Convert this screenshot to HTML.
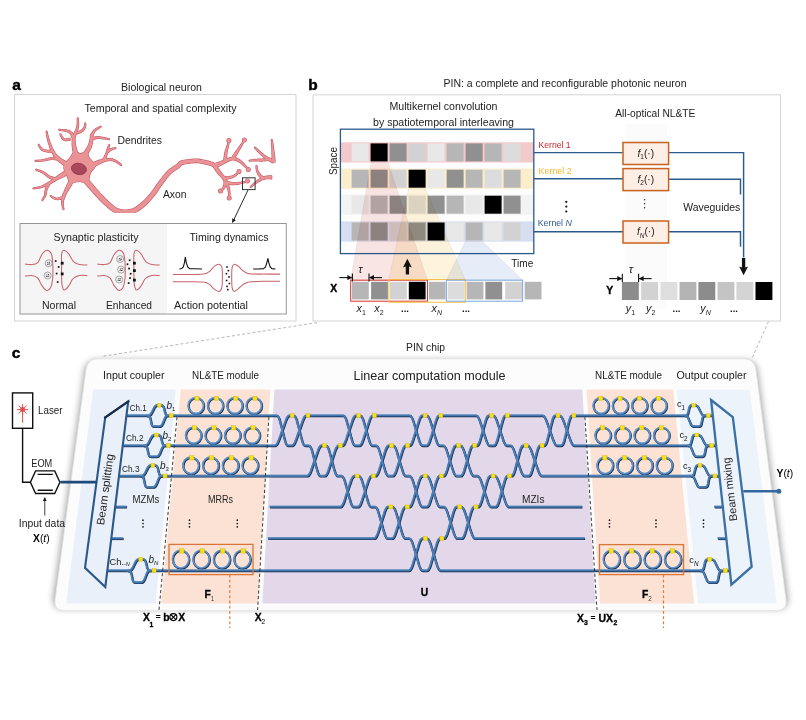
<!DOCTYPE html>
<html><head><meta charset="utf-8"><title>PIN photonic neuron</title>
<style>html,body{margin:0;padding:0;background:#fff}svg{display:block}text{font-family:"Liberation Sans",sans-serif}</style></head><body>
<svg width="806" height="720" viewBox="0 0 806 720">
<defs>
<filter id="sh" x="-10%" y="-10%" width="120%" height="125%"><feGaussianBlur stdDeviation="3.6"/></filter>
<marker id="ah" viewBox="0 0 10 10" refX="9" refY="5" markerWidth="4.6" markerHeight="4.6" orient="auto"><path d="M0,0L10,5L0,10z" fill="#111"/></marker>
</defs>
<rect width="806" height="720" fill="#fff"/>
<g id="panelA">
<text x="12.2" y="90.4" font-size="15.5" font-weight="bold" fill="#000" stroke="#000" stroke-width="0.45">a</text>
<text x="161.5" y="90.6" font-size="10.3" text-anchor="middle" fill="#222" textLength="81.0" lengthAdjust="spacingAndGlyphs">Biological neuron</text>
<rect x="14.5" y="94.5" width="281.5" height="226.5" fill="#fff" stroke="#d4d4d4" stroke-width="1"/>
<text x="160.5" y="112.0" font-size="10.3" text-anchor="middle" fill="#222" textLength="152.0" lengthAdjust="spacingAndGlyphs">Temporal and spatial complexity</text>
<clipPath id="ncl"><rect x="30" y="114" width="256" height="98.8"/></clipPath>
<g fill="none" stroke-linecap="round" stroke-linejoin="round" clip-path="url(#ncl)">
<g stroke="#c65b67" stroke-width="1.25" fill="#c65b67">
<path d="M77.8,153.2L77.6,152.5L77.3,151.7L77.0,150.7L76.7,149.6L76.3,148.4L76.0,147.3L75.8,146.1L75.5,145.1L75.4,144.1L75.3,143.0L75.1,141.8L75.1,140.6L75.0,139.5L74.9,138.5L74.9,137.6L74.8,137.0L73.6,135.8L72.4,137.0L72.4,137.7L72.3,138.5L72.3,139.5L72.2,140.7L72.2,141.9L72.2,143.1L72.2,144.4L72.2,145.5L72.3,146.7L72.5,148.0L72.7,149.2L72.9,150.5L73.2,151.6L73.4,152.7L73.5,153.5L73.6,154.1Z"/>
<path d="M74.7,137.1L74.5,136.7L74.2,136.2L73.9,135.6L73.5,134.9L73.1,134.1L72.6,133.4L72.1,132.7L71.6,132.1L71.0,131.7L70.5,131.3L70.0,131.0L69.4,130.7L68.9,130.5L68.3,130.3L67.6,130.1L66.9,130.0L66.0,129.8L64.9,129.7L63.8,129.6L62.7,129.5L61.5,129.5L60.5,129.4L59.7,129.4L59.1,129.3L58.6,129.7L59.0,130.2L59.6,130.3L60.4,130.4L61.4,130.6L62.5,130.7L63.6,130.9L64.7,131.1L65.7,131.3L66.5,131.5L67.1,131.7L67.7,131.9L68.2,132.2L68.7,132.4L69.0,132.6L69.4,132.9L69.8,133.2L70.1,133.5L70.4,134.0L70.8,134.5L71.1,135.2L71.5,135.9L71.8,136.6L72.0,137.3L72.3,137.9L72.5,138.3Z"/>
<path d="M69.9,138.1L69.5,138.2L69.0,138.3L68.4,138.5L67.7,138.6L67.0,138.8L66.4,138.9L65.8,139.0L65.4,139.0L65.0,138.9L64.7,138.8L64.3,138.6L64.0,138.4L63.7,138.2L63.3,137.9L63.0,137.6L62.7,137.3L62.4,137.0L62.1,136.6L61.9,136.1L61.6,135.6L61.4,135.1L61.2,134.7L61.0,134.3L60.8,134.0L60.2,133.8L60.0,134.4L60.1,134.7L60.3,135.1L60.4,135.5L60.6,136.1L60.9,136.6L61.1,137.1L61.4,137.6L61.7,138.1L62.1,138.5L62.4,138.9L62.7,139.2L63.1,139.6L63.6,139.9L64.0,140.2L64.6,140.4L65.2,140.6L65.8,140.7L66.6,140.6L67.3,140.6L68.1,140.5L68.8,140.4L69.4,140.2L70.0,140.2L70.3,140.1Z"/>
<path d="M74.8,138.2L75.0,137.7L75.2,137.0L75.5,136.2L75.8,135.3L76.1,134.4L76.5,133.5L76.8,132.6L77.0,131.8L77.3,131.1L77.5,130.4L77.7,129.7L77.9,129.0L78.1,128.3L78.3,127.6L78.4,126.8L78.5,126.0L78.6,125.0L78.6,124.0L78.5,122.8L78.5,121.7L78.4,120.6L78.3,119.7L78.3,118.8L78.2,118.2L77.8,117.8L77.3,118.3L77.3,118.9L77.3,119.7L77.3,120.7L77.3,121.7L77.3,122.8L77.2,123.9L77.1,124.9L77.0,125.8L76.9,126.5L76.7,127.2L76.5,127.9L76.3,128.5L76.0,129.1L75.8,129.7L75.5,130.4L75.2,131.1L74.9,131.9L74.5,132.7L74.1,133.6L73.7,134.5L73.3,135.3L73.0,136.1L72.7,136.7L72.4,137.2Z"/>
<path d="M77.6,133.8L78.0,133.6L78.5,133.4L79.1,133.2L79.8,132.9L80.5,132.6L81.2,132.2L81.8,131.8L82.4,131.4L82.9,131.0L83.4,130.5L83.8,130.1L84.2,129.6L84.5,129.1L84.8,128.6L85.1,128.0L85.3,127.5L85.5,127.0L85.6,126.4L85.7,125.7L85.7,125.2L85.7,124.6L85.7,124.1L85.7,123.7L85.7,123.4L85.3,122.9L84.8,123.3L84.8,123.7L84.8,124.1L84.7,124.6L84.7,125.1L84.6,125.6L84.5,126.1L84.3,126.6L84.2,127.0L83.9,127.4L83.7,127.9L83.4,128.3L83.0,128.7L82.7,129.1L82.3,129.4L81.9,129.8L81.5,130.1L81.0,130.4L80.4,130.6L79.8,130.9L79.1,131.1L78.4,131.4L77.8,131.6L77.2,131.7L76.8,131.9Z"/>
<path d="M87.1,154.7L87.4,154.2L87.8,153.5L88.4,152.6L88.9,151.6L89.5,150.6L90.1,149.5L90.7,148.4L91.1,147.4L91.5,146.4L91.7,145.4L92.0,144.4L92.2,143.5L92.4,142.5L92.5,141.6L92.6,140.8L92.7,140.0L92.8,139.2L92.9,138.4L92.9,137.7L92.9,136.9L92.9,136.3L92.8,135.7L92.8,135.3L92.8,135.0L91.7,133.8L90.5,134.9L90.5,135.3L90.5,135.7L90.4,136.3L90.4,136.9L90.4,137.5L90.3,138.2L90.2,138.9L90.0,139.6L89.9,140.3L89.7,141.1L89.5,141.9L89.3,142.8L89.0,143.6L88.7,144.5L88.4,145.3L88.1,146.1L87.6,146.9L87.1,147.8L86.5,148.7L85.8,149.6L85.2,150.5L84.6,151.4L84.1,152.1L83.7,152.6Z"/>
<path d="M92.4,136.8L92.6,136.3L92.9,135.7L93.1,135.0L93.4,134.2L93.8,133.4L94.2,132.7L94.6,131.9L95.0,131.3L95.6,130.7L96.4,130.1L97.2,129.5L98.1,128.9L99.0,128.3L99.8,127.7L100.4,127.3L100.9,127.0L101.1,126.3L100.5,126.2L99.9,126.5L99.2,126.8L98.4,127.3L97.4,127.8L96.5,128.3L95.5,128.9L94.6,129.5L93.8,130.2L93.2,130.9L92.6,131.7L92.1,132.5L91.6,133.4L91.2,134.1L90.9,134.8L90.6,135.4L90.4,135.8Z"/>
<path d="M92.3,140.1L92.7,139.9L93.3,139.7L93.9,139.4L94.6,139.1L95.3,138.9L96.0,138.6L96.7,138.4L97.3,138.3L97.9,138.3L98.5,138.3L99.1,138.3L99.8,138.4L100.5,138.5L101.2,138.6L101.9,138.7L102.7,138.8L103.5,138.9L104.3,139.0L105.3,139.1L106.2,139.2L107.0,139.3L107.8,139.4L108.5,139.5L109.0,139.5L109.5,139.2L109.1,138.6L108.6,138.5L108.0,138.4L107.2,138.3L106.3,138.1L105.4,137.9L104.5,137.7L103.7,137.6L102.9,137.4L102.2,137.3L101.5,137.1L100.8,137.0L100.1,136.8L99.4,136.7L98.6,136.6L97.9,136.5L97.1,136.5L96.3,136.6L95.5,136.8L94.7,137.0L93.9,137.3L93.2,137.5L92.5,137.7L92.0,137.9L91.6,138.1Z"/>
<path d="M93.4,167.5L93.9,167.2L94.5,166.8L95.2,166.3L96.0,165.8L96.9,165.3L97.7,164.8L98.6,164.3L99.3,163.9L100.1,163.5L100.9,163.1L101.8,162.7L102.6,162.3L103.5,161.9L104.2,161.6L104.8,161.3L105.3,161.1L106.1,159.5L104.4,158.7L103.9,158.8L103.3,159.0L102.5,159.2L101.6,159.5L100.7,159.8L99.7,160.1L98.8,160.4L97.9,160.7L97.0,161.0L96.1,161.4L95.1,161.8L94.1,162.2L93.3,162.6L92.5,163.0L91.8,163.3L91.3,163.5Z"/>
<path d="M104.3,161.4L104.9,161.3L105.6,161.2L106.5,161.0L107.4,160.8L108.4,160.7L109.4,160.5L110.3,160.4L111.0,160.5L111.7,160.5L112.4,160.7L113.0,160.9L113.7,161.1L114.4,161.4L115.0,161.7L115.7,162.0L116.3,162.3L116.9,162.7L117.6,163.1L118.3,163.5L118.9,164.0L119.5,164.4L120.0,164.8L120.5,165.2L120.8,165.4L121.5,165.3L121.4,164.7L121.1,164.4L120.7,164.0L120.2,163.6L119.6,163.1L119.0,162.6L118.3,162.0L117.7,161.6L117.0,161.1L116.4,160.7L115.7,160.4L115.1,160.0L114.4,159.6L113.6,159.3L112.9,159.0L112.1,158.7L111.2,158.5L110.3,158.5L109.2,158.4L108.2,158.5L107.1,158.6L106.1,158.7L105.3,158.8L104.5,158.9L104.0,158.9Z"/>
<path d="M105.8,160.3L105.9,159.9L106.0,159.2L106.1,158.5L106.3,157.7L106.5,156.9L106.7,156.0L106.8,155.3L107.0,154.7L107.2,154.2L107.4,153.6L107.7,153.1L107.9,152.6L108.2,152.2L108.4,151.8L108.6,151.4L108.7,151.1L108.6,150.5L108.0,150.6L107.8,150.9L107.5,151.2L107.2,151.5L106.9,151.9L106.5,152.4L106.2,152.9L105.8,153.5L105.5,154.0L105.2,154.7L104.8,155.4L104.5,156.2L104.1,157.0L103.8,157.8L103.5,158.5L103.3,159.1L103.1,159.5Z"/>
<path d="M108.2,152.4L108.5,152.2L108.8,151.9L109.3,151.6L109.7,151.2L110.2,150.8L110.7,150.5L111.2,150.1L111.7,149.9L112.1,149.7L112.7,149.4L113.3,149.2L113.8,149.1L114.4,148.9L114.9,148.8L115.3,148.6L115.7,148.5L116.0,148.0L115.5,147.7L115.1,147.7L114.7,147.8L114.2,147.9L113.6,148.0L113.0,148.1L112.3,148.2L111.7,148.4L111.1,148.6L110.5,148.8L109.9,149.1L109.3,149.4L108.8,149.8L108.2,150.1L107.8,150.4L107.4,150.6L107.1,150.8Z"/>
<path d="M108.1,152.5L108.2,152.1L108.2,151.7L108.3,151.2L108.4,150.7L108.4,150.1L108.5,149.6L108.6,149.0L108.7,148.6L108.8,148.1L108.9,147.6L109.1,147.2L109.2,146.7L109.4,146.2L109.5,145.8L109.6,145.5L109.7,145.2L109.5,144.6L108.9,144.9L108.8,145.1L108.6,145.5L108.4,145.8L108.2,146.3L108.0,146.7L107.8,147.2L107.6,147.7L107.4,148.2L107.2,148.7L107.1,149.3L106.9,149.8L106.8,150.4L106.6,150.9L106.5,151.4L106.4,151.8L106.3,152.1Z"/>
<path d="M67.2,162.2L66.7,161.9L66.0,161.5L65.1,161.1L64.2,160.6L63.3,160.1L62.4,159.6L61.6,159.0L60.8,158.6L60.1,158.1L59.4,157.5L58.7,156.8L58.0,156.2L57.3,155.6L56.7,155.0L56.2,154.5L55.8,154.2L54.0,154.1L53.9,156.0L54.3,156.3L54.7,156.9L55.2,157.5L55.8,158.3L56.5,159.0L57.2,159.8L57.9,160.6L58.6,161.3L59.4,162.0L60.3,162.7L61.2,163.3L62.1,164.0L62.9,164.6L63.7,165.2L64.3,165.6L64.8,166.0Z"/>
<path d="M56.4,155.1L56.1,154.6L55.7,153.8L55.1,153.0L54.6,152.0L54.0,151.0L53.4,150.0L52.8,149.0L52.3,148.0L51.9,147.0L51.4,146.0L51.0,144.9L50.6,143.8L50.2,142.8L49.8,141.7L49.4,140.6L49.0,139.6L48.7,138.5L48.4,137.3L48.1,136.1L47.8,135.0L47.5,133.8L47.3,132.8L47.1,132.0L47.0,131.4L46.4,131.0L46.1,131.5L46.2,132.2L46.3,133.0L46.5,134.0L46.7,135.2L46.9,136.4L47.1,137.6L47.4,138.8L47.6,140.0L47.9,141.1L48.2,142.2L48.5,143.3L48.9,144.4L49.3,145.6L49.6,146.7L50.0,147.8L50.4,148.8L50.9,149.9L51.4,151.0L51.9,152.1L52.5,153.2L53.0,154.2L53.5,155.1L53.8,155.8L54.1,156.4Z"/>
<path d="M52.7,149.8L52.2,149.9L51.7,149.9L51.0,150.0L50.3,150.2L49.5,150.2L48.7,150.3L48.0,150.3L47.3,150.3L46.7,150.2L46.0,150.1L45.2,149.9L44.5,149.8L43.8,149.6L43.2,149.3L42.6,149.0L42.1,148.7L41.6,148.3L41.1,147.8L40.7,147.2L40.3,146.5L39.9,145.9L39.5,145.3L39.2,144.8L39.0,144.4L38.4,144.3L38.2,144.9L38.4,145.2L38.7,145.8L39.0,146.4L39.3,147.1L39.7,147.8L40.2,148.5L40.7,149.2L41.3,149.7L41.9,150.2L42.6,150.6L43.3,150.9L44.1,151.2L44.8,151.5L45.6,151.7L46.4,151.9L47.1,152.0L47.9,152.1L48.8,152.2L49.6,152.2L50.4,152.1L51.2,152.1L51.9,152.0L52.5,152.0L52.9,152.0Z"/>
<path d="M58.4,157.8L57.9,157.8L57.2,157.7L56.4,157.6L55.5,157.6L54.5,157.5L53.4,157.5L52.4,157.5L51.3,157.6L50.3,157.8L49.2,158.0L48.1,158.3L47.1,158.6L46.0,158.9L45.0,159.2L43.9,159.5L43.0,159.7L41.9,159.8L40.9,160.0L39.8,160.1L38.7,160.2L37.7,160.3L36.8,160.3L36.0,160.4L35.4,160.4L35.0,160.9L35.4,161.3L36.0,161.3L36.8,161.3L37.7,161.3L38.7,161.3L39.8,161.2L41.0,161.2L42.1,161.1L43.2,161.0L44.2,160.9L45.3,160.6L46.4,160.4L47.5,160.2L48.5,159.9L49.6,159.7L50.6,159.6L51.5,159.5L52.4,159.4L53.4,159.5L54.3,159.6L55.3,159.7L56.2,159.8L57.0,159.9L57.7,160.0L58.2,160.1Z"/>
<path d="M64.9,171.1L64.4,171.5L63.8,171.9L63.0,172.4L62.2,172.9L61.3,173.5L60.4,174.1L59.6,174.6L58.9,175.1L58.2,175.5L57.5,176.0L56.8,176.5L56.2,176.9L55.6,177.3L55.0,177.7L54.6,178.0L54.2,178.2L53.7,180.0L55.5,180.5L55.9,180.3L56.4,180.1L57.0,179.8L57.6,179.5L58.3,179.1L59.1,178.8L59.8,178.4L60.6,178.1L61.3,177.7L62.2,177.3L63.2,176.9L64.1,176.4L65.0,176.0L65.9,175.6L66.6,175.3L67.1,175.1Z"/>
<path d="M55.9,177.8L55.4,177.7L54.8,177.6L54.2,177.5L53.5,177.3L52.7,177.2L52.0,176.9L51.2,176.7L50.5,176.4L49.7,176.0L48.9,175.5L48.0,174.9L47.1,174.2L46.2,173.6L45.3,172.9L44.3,172.3L43.4,171.8L42.4,171.3L41.4,170.9L40.4,170.5L39.3,170.2L38.4,169.9L37.5,169.6L36.8,169.4L36.3,169.2L35.7,169.5L36.0,170.1L36.5,170.3L37.2,170.6L38.0,170.9L39.0,171.3L39.9,171.7L40.9,172.1L41.8,172.6L42.7,173.0L43.5,173.6L44.4,174.2L45.2,174.9L46.1,175.6L47.0,176.3L47.8,177.0L48.7,177.6L49.5,178.2L50.4,178.6L51.3,179.0L52.1,179.3L52.9,179.5L53.7,179.7L54.3,179.9L54.9,180.0L55.3,180.1Z"/>
<path d="M54.2,178.6L53.7,178.9L53.1,179.3L52.4,179.8L51.6,180.4L50.7,181.0L49.9,181.6L49.0,182.1L48.1,182.6L47.3,183.1L46.4,183.6L45.4,184.1L44.5,184.6L43.6,185.1L42.6,185.6L41.7,186.0L40.8,186.3L39.8,186.6L38.8,186.9L37.7,187.1L36.6,187.4L35.6,187.5L34.6,187.7L33.9,187.8L33.3,187.9L32.9,188.5L33.4,188.8L34.0,188.8L34.8,188.7L35.7,188.6L36.8,188.5L37.9,188.3L39.0,188.2L40.1,187.9L41.2,187.7L42.2,187.4L43.2,187.0L44.2,186.6L45.2,186.2L46.2,185.8L47.2,185.3L48.2,184.9L49.1,184.4L50.0,183.9L51.0,183.4L51.9,182.9L52.8,182.3L53.7,181.8L54.4,181.4L55.1,181.0L55.5,180.7Z"/>
<path d="M47.6,183.5L47.4,183.9L47.2,184.6L46.9,185.3L46.5,186.1L46.2,187.0L45.8,187.9L45.5,188.7L45.3,189.5L45.1,190.3L45.0,191.1L44.9,191.8L44.9,192.5L44.8,193.2L44.8,193.9L44.7,194.5L44.5,195.1L44.3,195.7L44.0,196.4L43.6,197.1L43.2,197.8L42.8,198.5L42.5,199.1L42.2,199.6L42.0,200.0L42.1,200.6L42.7,200.4L43.0,200.1L43.3,199.6L43.7,199.0L44.1,198.4L44.6,197.7L45.0,197.0L45.4,196.3L45.8,195.6L46.0,194.8L46.2,194.1L46.3,193.4L46.4,192.7L46.5,192.0L46.6,191.3L46.7,190.7L46.9,190.0L47.2,189.3L47.5,188.5L47.9,187.7L48.3,186.9L48.7,186.1L49.1,185.4L49.4,184.8L49.6,184.4Z"/>
<path d="M69.7,179.7L69.4,180.3L69.0,181.2L68.5,182.1L68.0,183.2L67.4,184.4L66.9,185.5L66.4,186.6L65.9,187.6L65.5,188.6L65.0,189.6L64.5,190.7L64.1,191.7L63.7,192.7L63.3,193.5L63.0,194.2L62.8,194.8L63.3,196.4L65.0,195.9L65.3,195.4L65.7,194.7L66.1,193.9L66.6,193.0L67.2,192.0L67.7,191.0L68.3,190.1L68.8,189.2L69.4,188.2L70.0,187.2L70.7,186.1L71.3,185.1L72.0,184.0L72.5,183.1L73.0,182.4L73.4,181.8Z"/>
<path d="M63.0,194.7L62.8,195.1L62.7,195.7L62.5,196.5L62.3,197.3L62.0,198.2L61.8,199.1L61.7,200.0L61.6,200.8L61.6,201.5L61.6,202.2L61.6,202.9L61.7,203.5L61.8,204.2L61.9,204.8L62.0,205.3L62.1,205.8L62.3,206.4L62.4,206.9L62.5,207.4L62.7,207.9L62.8,208.4L63.0,208.8L63.1,209.1L63.2,209.3L63.7,209.7L64.0,209.1L64.0,208.8L63.9,208.5L63.8,208.1L63.7,207.7L63.6,207.2L63.5,206.7L63.5,206.2L63.4,205.7L63.4,205.1L63.3,204.6L63.3,204.0L63.3,203.4L63.3,202.8L63.3,202.2L63.3,201.6L63.4,201.0L63.6,200.4L63.8,199.6L64.1,198.8L64.4,198.0L64.7,197.2L65.0,196.5L65.2,195.9L65.4,195.4Z"/>
<path d="M63.2,196.0L62.8,196.2L62.2,196.4L61.6,196.7L60.9,197.0L60.2,197.3L59.4,197.6L58.8,197.8L58.2,198.0L57.7,198.0L57.2,198.1L56.8,198.0L56.3,198.0L55.8,197.9L55.3,197.8L54.9,197.7L54.4,197.5L53.9,197.3L53.5,197.1L53.0,196.9L52.5,196.6L52.0,196.3L51.6,196.0L51.2,195.8L50.9,195.6L50.3,195.8L50.5,196.4L50.7,196.6L51.0,196.8L51.4,197.1L51.9,197.5L52.4,197.8L52.9,198.2L53.4,198.5L53.9,198.7L54.4,198.9L54.9,199.1L55.5,199.3L56.0,199.4L56.6,199.5L57.2,199.6L57.8,199.7L58.4,199.6L59.2,199.5L60.0,199.3L60.8,199.1L61.6,198.9L62.3,198.6L63.0,198.4L63.6,198.2L64.0,198.0Z"/>
<path d="M84.2,182.4L84.7,183.0L85.3,183.6L86.0,184.4L86.8,185.3L87.6,186.3L88.5,187.3L89.3,188.3L90.2,189.2L90.9,190.1L91.7,191.0L92.5,191.9L93.3,192.9L94.2,193.8L95.1,194.8L96.0,195.8L97.0,196.8L98.0,197.9L99.0,199.0L100.2,200.2L101.3,201.3L102.5,202.5L103.6,203.6L104.7,204.6L105.8,205.6L106.9,206.6L107.9,207.5L108.9,208.3L110.0,209.2L111.0,210.0L112.0,210.7L113.1,211.4L114.1,212.0L115.1,212.5L116.1,213.0L117.1,213.3L118.1,213.6L119.0,213.8L119.9,214.0L120.8,214.1L121.7,214.2L122.6,214.3L123.5,214.4L124.4,214.5L125.3,214.5L126.1,214.5L127.0,214.4L127.9,214.3L128.8,214.2L129.7,214.1L130.5,213.9L131.4,213.7L132.3,213.5L133.2,213.2L134.2,212.9L135.2,212.4L136.2,211.9L137.3,211.3L138.4,210.6L139.5,209.9L140.7,209.1L141.9,208.2L143.0,207.3L144.2,206.3L145.3,205.3L146.5,204.2L147.6,203.1L148.7,201.9L149.9,200.7L151.0,199.4L152.1,198.2L153.2,196.9L154.2,195.6L155.2,194.3L156.2,193.0L157.1,191.6L158.0,190.3L158.8,189.0L159.7,187.6L160.6,186.3L161.6,185.0L162.6,183.6L163.7,182.1L164.8,180.6L165.9,179.1L167.0,177.7L168.1,176.3L169.2,175.1L170.2,174.0L171.3,173.0L172.4,172.1L173.5,171.3L174.6,170.5L175.7,169.7L176.8,169.0L177.8,168.4L178.7,167.7L179.5,167.0L180.2,166.4L180.6,165.8L181.0,165.4L181.3,165.1L181.5,164.9L181.8,164.7L182.2,164.5L182.8,164.3L183.6,164.1L184.4,163.9L185.3,163.7L186.3,163.6L187.3,163.5L188.3,163.3L189.4,163.2L190.4,163.1L191.5,163.0L192.6,162.8L193.6,162.7L194.7,162.6L195.8,162.6L197.0,162.6L198.2,162.7L199.5,162.9L201.1,163.1L202.7,163.4L204.4,163.8L206.0,164.1L207.6,164.5L208.9,164.9L210.1,165.2L211.0,165.5L211.8,165.8L212.4,166.1L213.0,166.3L213.5,166.6L213.9,166.9L214.3,167.1L214.7,167.3L216.9,166.6L216.3,164.4L216.0,164.3L215.6,164.1L215.2,163.8L214.6,163.4L213.9,163.1L213.1,162.7L212.1,162.3L211.1,162.0L209.8,161.6L208.4,161.2L206.8,160.8L205.1,160.4L203.4,160.1L201.7,159.7L200.0,159.4L198.5,159.2L197.1,159.1L195.8,159.1L194.5,159.1L193.3,159.2L192.2,159.3L191.1,159.4L190.0,159.5L189.0,159.7L187.9,159.8L186.9,159.9L185.8,160.0L184.7,160.2L183.7,160.3L182.7,160.5L181.7,160.8L180.8,161.1L180.0,161.5L179.3,162.0L178.7,162.5L178.3,163.0L177.9,163.4L177.5,163.8L177.1,164.2L176.5,164.7L175.7,165.3L174.7,165.9L173.7,166.6L172.5,167.3L171.3,168.2L170.0,169.1L168.8,170.1L167.6,171.2L166.4,172.5L165.2,173.8L164.0,175.3L162.8,176.8L161.7,178.3L160.5,179.8L159.5,181.2L158.4,182.6L157.4,184.0L156.4,185.4L155.5,186.7L154.6,188.0L153.7,189.3L152.8,190.6L151.9,191.8L151.0,193.0L150.0,194.2L148.9,195.4L147.9,196.7L146.8,197.8L145.7,199.0L144.6,200.1L143.5,201.2L142.5,202.1L141.4,203.0L140.3,203.9L139.2,204.8L138.2,205.6L137.1,206.3L136.1,207.0L135.1,207.6L134.2,208.1L133.3,208.5L132.6,208.8L131.9,209.1L131.1,209.3L130.4,209.4L129.7,209.6L129.0,209.7L128.2,209.8L127.4,209.9L126.7,210.0L126.0,210.0L125.3,210.0L124.5,210.0L123.8,210.0L123.1,209.9L122.3,209.8L121.5,209.6L120.7,209.5L120.0,209.4L119.3,209.2L118.5,209.0L117.8,208.7L117.1,208.4L116.3,208.0L115.5,207.5L114.7,206.9L113.8,206.3L112.9,205.6L111.9,204.8L111.0,203.9L110.0,203.1L109.0,202.2L107.9,201.2L106.9,200.2L105.8,199.1L104.7,198.0L103.6,196.8L102.5,195.7L101.4,194.6L100.4,193.6L99.5,192.6L98.7,191.6L97.8,190.6L97.0,189.7L96.2,188.8L95.4,187.8L94.6,186.9L93.8,186.0L93.0,185.0L92.2,184.1L91.3,183.1L90.5,182.1L89.7,181.2L89.0,180.4L88.4,179.7L88.0,179.2Z"/>
<path d="M215.6,167.4L216.0,167.2L216.7,167.0L217.5,166.7L218.3,166.3L219.3,165.9L220.2,165.5L221.1,165.1L222.0,164.7L222.8,164.3L223.6,163.8L224.4,163.4L225.1,162.9L225.8,162.5L226.5,162.1L227.2,161.7L227.9,161.4L228.7,161.1L229.5,160.8L230.3,160.5L231.2,160.2L232.0,159.9L232.7,159.7L233.4,159.5L233.8,159.3L234.6,157.9L233.2,157.1L232.7,157.2L232.1,157.4L231.4,157.5L230.5,157.7L229.6,157.9L228.7,158.2L227.7,158.5L226.9,158.7L226.0,159.1L225.2,159.4L224.4,159.8L223.6,160.2L222.8,160.6L222.1,160.9L221.3,161.3L220.6,161.6L219.8,161.9L218.9,162.2L218.0,162.5L217.0,162.8L216.2,163.1L215.4,163.3L214.7,163.5L214.2,163.7Z"/>
<path d="M226.6,160.2L226.6,159.6L226.7,158.8L226.7,158.0L226.7,157.0L226.7,156.0L226.7,154.9L226.8,153.9L226.9,153.1L227.0,152.2L227.2,151.3L227.4,150.4L227.6,149.5L227.8,148.6L228.0,147.8L228.2,147.0L228.4,146.2L228.5,145.4L228.7,144.7L228.8,143.9L229.0,143.2L229.1,142.6L229.2,142.1L229.3,141.6L229.4,141.2L229.0,140.7L228.5,141.0L228.4,141.4L228.2,141.8L228.1,142.4L227.9,143.0L227.7,143.7L227.5,144.4L227.3,145.1L227.0,145.8L226.8,146.6L226.5,147.3L226.2,148.2L225.9,149.1L225.6,149.9L225.3,150.9L225.1,151.8L224.9,152.7L224.7,153.7L224.5,154.7L224.4,155.8L224.2,156.8L224.1,157.8L224.0,158.7L223.9,159.4L223.9,160.0Z"/>
<path d="M234.0,159.3L234.3,158.8L234.8,158.0L235.3,157.1L235.9,156.0L236.5,155.0L237.1,153.9L237.7,152.8L238.3,151.9L238.7,151.1L239.2,150.2L239.7,149.4L240.1,148.6L240.5,147.8L241.0,147.1L241.4,146.3L241.8,145.6L242.2,144.9L242.6,144.1L243.0,143.4L243.4,142.7L243.8,142.0L244.1,141.5L244.4,141.0L244.6,140.6L244.5,140.0L243.8,140.1L243.6,140.5L243.3,140.9L242.9,141.5L242.4,142.1L242.0,142.8L241.5,143.5L241.0,144.2L240.5,144.8L240.1,145.5L239.6,146.2L239.1,146.9L238.6,147.7L238.1,148.4L237.5,149.2L237.0,150.0L236.4,150.8L235.8,151.6L235.1,152.6L234.4,153.6L233.7,154.6L233.0,155.6L232.4,156.5L231.9,157.2L231.5,157.7Z"/>
<path d="M232.3,159.5L232.8,159.7L233.5,159.8L234.2,160.0L235.1,160.3L236.0,160.5L236.8,160.8L237.6,161.1L238.3,161.4L239.0,161.8L239.7,162.3L240.4,162.8L241.1,163.4L241.8,163.9L242.5,164.5L243.1,165.1L243.7,165.6L244.3,166.2L244.9,166.7L245.5,167.3L246.0,167.8L246.6,168.4L247.0,168.8L247.4,169.2L247.7,169.5L248.3,169.6L248.4,168.9L248.1,168.6L247.8,168.2L247.4,167.7L246.9,167.1L246.4,166.5L245.8,165.8L245.3,165.2L244.7,164.6L244.2,164.0L243.6,163.4L242.9,162.7L242.3,162.0L241.6,161.4L240.9,160.7L240.2,160.1L239.4,159.6L238.6,159.1L237.7,158.7L236.8,158.3L235.9,157.9L235.0,157.6L234.3,157.3L233.6,157.1L233.2,156.9Z"/>
<path d="M213.2,166.5L213.5,166.9L213.8,167.5L214.3,168.2L214.7,168.9L215.2,169.7L215.8,170.6L216.3,171.4L216.9,172.1L217.5,172.9L218.1,173.6L218.8,174.3L219.4,175.1L220.1,175.8L220.7,176.4L221.3,177.1L221.8,177.7L222.3,178.3L222.7,178.9L223.2,179.5L223.6,180.2L224.1,180.7L224.4,181.3L224.7,181.7L225.0,182.1L226.5,182.4L226.8,180.9L226.6,180.5L226.3,180.1L226.0,179.5L225.6,178.9L225.2,178.2L224.8,177.5L224.3,176.8L223.9,176.1L223.4,175.4L222.8,174.7L222.2,173.9L221.6,173.2L221.1,172.4L220.5,171.7L220.0,171.0L219.5,170.3L219.1,169.6L218.7,168.8L218.2,168.0L217.8,167.2L217.4,166.4L217.0,165.7L216.7,165.1L216.5,164.6Z"/>
<path d="M223.6,179.2L224.1,179.1L224.7,179.1L225.5,179.1L226.3,179.0L227.2,178.9L228.2,178.8L229.1,178.7L229.9,178.5L230.7,178.3L231.4,178.0L232.1,177.8L232.8,177.5L233.5,177.1L234.2,176.8L234.8,176.4L235.4,176.0L236.1,175.5L236.6,174.9L237.2,174.4L237.7,173.8L238.2,173.2L238.6,172.7L238.9,172.3L239.2,172.0L239.2,171.4L238.5,171.4L238.2,171.7L237.8,172.0L237.4,172.5L236.9,173.0L236.3,173.5L235.8,174.0L235.2,174.4L234.6,174.7L234.1,175.0L233.5,175.3L232.8,175.6L232.2,175.8L231.5,176.0L230.8,176.2L230.2,176.3L229.5,176.5L228.8,176.5L228.0,176.6L227.1,176.6L226.3,176.5L225.5,176.5L224.7,176.5L224.0,176.4L223.5,176.4Z"/>
<path d="M224.2,180.9L224.2,181.3L224.1,181.8L224.1,182.4L224.0,183.0L224.0,183.7L223.9,184.3L223.8,184.9L223.7,185.4L223.6,185.9L223.4,186.3L223.3,186.8L223.1,187.2L222.9,187.6L222.7,188.0L222.5,188.4L222.3,188.7L222.1,189.0L221.8,189.3L221.6,189.5L221.3,189.8L221.0,190.0L220.8,190.3L220.6,190.4L220.4,190.6L220.3,191.2L221.0,191.3L221.1,191.2L221.4,191.1L221.6,190.9L222.0,190.7L222.3,190.4L222.7,190.2L223.0,189.9L223.3,189.5L223.6,189.2L223.9,188.8L224.2,188.4L224.5,188.0L224.8,187.6L225.1,187.1L225.3,186.6L225.6,186.1L225.8,185.5L226.0,184.8L226.2,184.1L226.4,183.5L226.6,182.8L226.7,182.2L226.8,181.7L226.9,181.4Z"/>
<path d="M224.6,182.0L224.8,182.4L225.1,183.0L225.4,183.7L225.8,184.5L226.2,185.3L226.6,186.1L226.9,186.9L227.2,187.6L227.4,188.2L227.6,188.9L227.8,189.5L228.0,190.2L228.1,190.8L228.3,191.4L228.4,192.1L228.5,192.7L228.6,193.3L228.7,194.0L228.7,194.8L228.7,195.5L228.7,196.1L228.8,196.8L228.8,197.3L228.8,197.7L229.2,198.1L229.7,197.7L229.7,197.3L229.8,196.8L229.8,196.2L229.9,195.5L229.9,194.8L230.0,194.0L230.0,193.3L230.0,192.6L229.9,191.9L229.9,191.2L229.8,190.5L229.7,189.8L229.6,189.1L229.5,188.4L229.3,187.7L229.2,187.0L228.9,186.2L228.7,185.3L228.4,184.4L228.1,183.6L227.8,182.7L227.5,182.0L227.3,181.4L227.1,180.9Z"/>
<path d="M225.6,183.7L226.1,183.8L226.8,183.9L227.6,184.1L228.6,184.3L229.6,184.4L230.6,184.6L231.7,184.7L232.7,184.7L233.7,184.7L234.7,184.6L235.7,184.5L236.7,184.4L237.6,184.3L238.6,184.1L239.6,183.9L240.5,183.7L241.5,183.5L242.5,183.2L243.5,182.9L244.5,182.6L245.4,182.3L246.2,182.0L246.9,181.8L247.4,181.6L247.7,181.0L247.2,180.7L246.6,180.9L245.9,181.0L245.1,181.3L244.2,181.5L243.2,181.7L242.2,181.9L241.2,182.1L240.3,182.3L239.4,182.4L238.4,182.5L237.5,182.5L236.5,182.6L235.5,182.6L234.6,182.6L233.7,182.6L232.8,182.5L231.9,182.4L231.0,182.3L230.0,182.0L229.1,181.8L228.2,181.6L227.4,181.4L226.7,181.2L226.1,181.0Z"/>
<path d="M271.7,175.8L271.3,175.9L270.8,175.9L270.2,175.9L269.4,175.9L268.6,175.9L267.8,176.0L267.0,176.1L266.2,176.2L265.4,176.4L264.7,176.6L264.0,176.9L263.3,177.1L262.6,177.4L262.0,177.7L261.3,178.1L260.6,178.4L259.9,178.8L259.2,179.2L258.5,179.7L257.9,180.1L257.2,180.6L256.5,181.1L255.9,181.6L255.2,182.1L254.6,182.7L253.9,183.3L253.1,183.9L252.5,184.6L251.8,185.2L251.2,185.8L250.7,186.3L250.3,186.6L250.3,187.3L250.9,187.3L251.3,187.0L251.9,186.6L252.5,186.0L253.2,185.5L254.0,184.9L254.7,184.3L255.4,183.8L256.1,183.3L256.8,182.8L257.5,182.4L258.1,182.0L258.8,181.6L259.5,181.2L260.2,180.9L260.8,180.5L261.5,180.2L262.1,180.0L262.8,179.7L263.4,179.5L264.1,179.3L264.7,179.1L265.4,179.0L266.0,178.8L266.6,178.7L267.2,178.7L267.9,178.7L268.7,178.7L269.4,178.7L270.1,178.7L270.7,178.8L271.3,178.8L271.7,178.8Z"/>
<path d="M264.1,177.4L263.8,177.2L263.4,176.9L262.8,176.5L262.3,176.1L261.7,175.7L261.2,175.3L260.7,174.9L260.3,174.4L259.9,174.0L259.6,173.5L259.2,173.0L258.9,172.5L258.6,171.9L258.4,171.3L258.1,170.8L257.9,170.2L257.7,169.7L257.5,169.1L257.4,168.4L257.2,167.8L257.1,167.2L257.0,166.6L257.0,166.2L256.9,165.8L256.4,165.4L256.0,165.9L256.0,166.3L256.1,166.8L256.1,167.3L256.1,168.0L256.2,168.6L256.3,169.3L256.4,170.0L256.5,170.7L256.7,171.3L256.9,171.9L257.2,172.6L257.4,173.2L257.7,173.8L258.0,174.5L258.4,175.1L258.7,175.7L259.2,176.2L259.7,176.8L260.3,177.4L260.8,177.9L261.4,178.4L261.9,178.8L262.3,179.1L262.5,179.4Z"/>
<path d="M274.3,160.3L273.9,160.1L273.5,159.9L273.0,159.7L272.4,159.4L271.8,159.2L271.2,158.9L270.6,158.6L270.1,158.3L269.5,158.0L268.9,157.8L268.4,157.5L267.8,157.2L267.3,156.9L266.7,156.6L266.1,156.2L265.5,155.9L264.9,155.4L264.2,154.9L263.5,154.4L262.8,153.8L262.1,153.3L261.4,152.7L260.7,152.1L260.0,151.6L259.4,151.0L258.7,150.4L258.0,149.8L257.3,149.1L256.7,148.5L256.1,148.0L255.6,147.5L255.2,147.2L254.6,147.2L254.6,147.8L254.9,148.2L255.4,148.7L255.9,149.3L256.5,149.9L257.1,150.6L257.7,151.3L258.4,152.0L259.0,152.7L259.6,153.3L260.3,153.9L260.9,154.6L261.6,155.2L262.3,155.8L262.9,156.4L263.6,157.0L264.2,157.5L264.9,158.0L265.5,158.5L266.1,158.9L266.6,159.2L267.2,159.6L267.8,159.9L268.3,160.3L268.8,160.6L269.4,160.9L270.0,161.3L270.6,161.6L271.2,161.9L271.7,162.3L272.2,162.5L272.6,162.7L272.9,162.9Z"/>
<path d="M275.1,162.0L275.0,161.5L275.0,160.9L274.9,160.2L274.8,159.5L274.8,158.6L274.7,157.7L274.6,156.8L274.5,155.9L274.4,154.9L274.3,153.9L274.1,152.8L274.0,151.8L273.9,150.7L273.7,149.6L273.6,148.5L273.5,147.4L273.3,146.4L273.1,145.3L273.0,144.2L272.8,143.1L272.6,142.1L272.4,141.2L272.3,140.4L272.2,139.8L271.7,139.4L271.3,139.9L271.3,140.5L271.4,141.3L271.5,142.2L271.6,143.3L271.6,144.3L271.7,145.5L271.8,146.6L271.9,147.6L271.9,148.6L271.9,149.7L272.0,150.8L272.0,151.9L272.0,153.0L272.0,154.0L272.1,155.1L272.1,156.0L272.1,156.9L272.1,157.8L272.1,158.7L272.1,159.6L272.1,160.4L272.1,161.1L272.1,161.7L272.1,162.1Z"/>
<path d="M267.7,157.9L267.2,158.0L266.6,158.1L265.9,158.3L265.1,158.5L264.2,158.7L263.3,158.8L262.5,159.0L261.7,159.1L261.0,159.1L260.3,159.2L259.5,159.2L258.8,159.2L258.0,159.2L257.2,159.3L256.4,159.3L255.7,159.3L254.8,159.4L254.0,159.5L253.1,159.7L252.2,159.8L251.4,159.9L250.6,160.1L250.0,160.2L249.5,160.2L249.1,160.7L249.6,161.1L250.1,161.1L250.7,161.0L251.5,161.0L252.3,160.9L253.2,160.9L254.1,160.8L254.9,160.8L255.7,160.8L256.5,160.8L257.2,160.8L258.0,160.9L258.7,160.9L259.5,161.0L260.3,161.0L261.1,161.1L261.9,161.1L262.7,161.0L263.6,160.9L264.5,160.8L265.4,160.7L266.3,160.6L267.0,160.5L267.7,160.4L268.1,160.4Z"/>
<path d="M74.3,151.6C76.0,150.9 78.5,153.7 80.6,153.7C82.6,153.7 85.4,150.9 86.8,151.6C88.2,152.3 87.8,155.5 89.2,157.8C90.6,160.1 95.0,162.9 95.1,165.5C95.3,168.0 91.6,170.3 90.3,173.1C89.0,175.9 89.4,180.8 87.5,182.1C85.6,183.5 82.1,181.4 79.2,181.4C76.3,181.4 72.2,183.3 70.1,182.1C68.1,181.0 67.7,176.8 66.7,174.5C65.6,172.2 64.1,170.2 63.9,168.2C63.7,166.3 64.5,164.4 65.6,162.7C66.6,161.0 68.7,159.7 70.1,157.8C71.6,156.0 72.6,152.3 74.3,151.6Z"/>
<circle cx="228.9" cy="140.6" r="2.5" fill="#c65b67" stroke="none"/>
<circle cx="244.4" cy="140.0" r="2.5" fill="#c65b67" stroke="none"/>
<circle cx="248.3" cy="169.5" r="2.5" fill="#c65b67" stroke="none"/>
<circle cx="239.0" cy="171.4" r="2.5" fill="#c65b67" stroke="none"/>
<circle cx="220.5" cy="191.1" r="2.5" fill="#c65b67" stroke="none"/>
<circle cx="229.2" cy="198.0" r="2.5" fill="#c65b67" stroke="none"/>
<circle cx="247.4" cy="181.0" r="2.5" fill="#c65b67" stroke="none"/>
</g>
<g stroke="none" fill="#ea9397">
<path d="M77.8,153.2L77.6,152.5L77.3,151.7L77.0,150.7L76.7,149.6L76.3,148.4L76.0,147.3L75.8,146.1L75.5,145.1L75.4,144.1L75.3,143.0L75.1,141.8L75.1,140.6L75.0,139.5L74.9,138.5L74.9,137.6L74.8,137.0L73.6,135.8L72.4,137.0L72.4,137.7L72.3,138.5L72.3,139.5L72.2,140.7L72.2,141.9L72.2,143.1L72.2,144.4L72.2,145.5L72.3,146.7L72.5,148.0L72.7,149.2L72.9,150.5L73.2,151.6L73.4,152.7L73.5,153.5L73.6,154.1Z"/>
<path d="M74.7,137.1L74.5,136.7L74.2,136.2L73.9,135.6L73.5,134.9L73.1,134.1L72.6,133.4L72.1,132.7L71.6,132.1L71.0,131.7L70.5,131.3L70.0,131.0L69.4,130.7L68.9,130.5L68.3,130.3L67.6,130.1L66.9,130.0L66.0,129.8L64.9,129.7L63.8,129.6L62.7,129.5L61.5,129.5L60.5,129.4L59.7,129.4L59.1,129.3L58.6,129.7L59.0,130.2L59.6,130.3L60.4,130.4L61.4,130.6L62.5,130.7L63.6,130.9L64.7,131.1L65.7,131.3L66.5,131.5L67.1,131.7L67.7,131.9L68.2,132.2L68.7,132.4L69.0,132.6L69.4,132.9L69.8,133.2L70.1,133.5L70.4,134.0L70.8,134.5L71.1,135.2L71.5,135.9L71.8,136.6L72.0,137.3L72.3,137.9L72.5,138.3Z"/>
<path d="M69.9,138.1L69.5,138.2L69.0,138.3L68.4,138.5L67.7,138.6L67.0,138.8L66.4,138.9L65.8,139.0L65.4,139.0L65.0,138.9L64.7,138.8L64.3,138.6L64.0,138.4L63.7,138.2L63.3,137.9L63.0,137.6L62.7,137.3L62.4,137.0L62.1,136.6L61.9,136.1L61.6,135.6L61.4,135.1L61.2,134.7L61.0,134.3L60.8,134.0L60.2,133.8L60.0,134.4L60.1,134.7L60.3,135.1L60.4,135.5L60.6,136.1L60.9,136.6L61.1,137.1L61.4,137.6L61.7,138.1L62.1,138.5L62.4,138.9L62.7,139.2L63.1,139.6L63.6,139.9L64.0,140.2L64.6,140.4L65.2,140.6L65.8,140.7L66.6,140.6L67.3,140.6L68.1,140.5L68.8,140.4L69.4,140.2L70.0,140.2L70.3,140.1Z"/>
<path d="M74.8,138.2L75.0,137.7L75.2,137.0L75.5,136.2L75.8,135.3L76.1,134.4L76.5,133.5L76.8,132.6L77.0,131.8L77.3,131.1L77.5,130.4L77.7,129.7L77.9,129.0L78.1,128.3L78.3,127.6L78.4,126.8L78.5,126.0L78.6,125.0L78.6,124.0L78.5,122.8L78.5,121.7L78.4,120.6L78.3,119.7L78.3,118.8L78.2,118.2L77.8,117.8L77.3,118.3L77.3,118.9L77.3,119.7L77.3,120.7L77.3,121.7L77.3,122.8L77.2,123.9L77.1,124.9L77.0,125.8L76.9,126.5L76.7,127.2L76.5,127.9L76.3,128.5L76.0,129.1L75.8,129.7L75.5,130.4L75.2,131.1L74.9,131.9L74.5,132.7L74.1,133.6L73.7,134.5L73.3,135.3L73.0,136.1L72.7,136.7L72.4,137.2Z"/>
<path d="M77.6,133.8L78.0,133.6L78.5,133.4L79.1,133.2L79.8,132.9L80.5,132.6L81.2,132.2L81.8,131.8L82.4,131.4L82.9,131.0L83.4,130.5L83.8,130.1L84.2,129.6L84.5,129.1L84.8,128.6L85.1,128.0L85.3,127.5L85.5,127.0L85.6,126.4L85.7,125.7L85.7,125.2L85.7,124.6L85.7,124.1L85.7,123.7L85.7,123.4L85.3,122.9L84.8,123.3L84.8,123.7L84.8,124.1L84.7,124.6L84.7,125.1L84.6,125.6L84.5,126.1L84.3,126.6L84.2,127.0L83.9,127.4L83.7,127.9L83.4,128.3L83.0,128.7L82.7,129.1L82.3,129.4L81.9,129.8L81.5,130.1L81.0,130.4L80.4,130.6L79.8,130.9L79.1,131.1L78.4,131.4L77.8,131.6L77.2,131.7L76.8,131.9Z"/>
<path d="M87.1,154.7L87.4,154.2L87.8,153.5L88.4,152.6L88.9,151.6L89.5,150.6L90.1,149.5L90.7,148.4L91.1,147.4L91.5,146.4L91.7,145.4L92.0,144.4L92.2,143.5L92.4,142.5L92.5,141.6L92.6,140.8L92.7,140.0L92.8,139.2L92.9,138.4L92.9,137.7L92.9,136.9L92.9,136.3L92.8,135.7L92.8,135.3L92.8,135.0L91.7,133.8L90.5,134.9L90.5,135.3L90.5,135.7L90.4,136.3L90.4,136.9L90.4,137.5L90.3,138.2L90.2,138.9L90.0,139.6L89.9,140.3L89.7,141.1L89.5,141.9L89.3,142.8L89.0,143.6L88.7,144.5L88.4,145.3L88.1,146.1L87.6,146.9L87.1,147.8L86.5,148.7L85.8,149.6L85.2,150.5L84.6,151.4L84.1,152.1L83.7,152.6Z"/>
<path d="M92.4,136.8L92.6,136.3L92.9,135.7L93.1,135.0L93.4,134.2L93.8,133.4L94.2,132.7L94.6,131.9L95.0,131.3L95.6,130.7L96.4,130.1L97.2,129.5L98.1,128.9L99.0,128.3L99.8,127.7L100.4,127.3L100.9,127.0L101.1,126.3L100.5,126.2L99.9,126.5L99.2,126.8L98.4,127.3L97.4,127.8L96.5,128.3L95.5,128.9L94.6,129.5L93.8,130.2L93.2,130.9L92.6,131.7L92.1,132.5L91.6,133.4L91.2,134.1L90.9,134.8L90.6,135.4L90.4,135.8Z"/>
<path d="M92.3,140.1L92.7,139.9L93.3,139.7L93.9,139.4L94.6,139.1L95.3,138.9L96.0,138.6L96.7,138.4L97.3,138.3L97.9,138.3L98.5,138.3L99.1,138.3L99.8,138.4L100.5,138.5L101.2,138.6L101.9,138.7L102.7,138.8L103.5,138.9L104.3,139.0L105.3,139.1L106.2,139.2L107.0,139.3L107.8,139.4L108.5,139.5L109.0,139.5L109.5,139.2L109.1,138.6L108.6,138.5L108.0,138.4L107.2,138.3L106.3,138.1L105.4,137.9L104.5,137.7L103.7,137.6L102.9,137.4L102.2,137.3L101.5,137.1L100.8,137.0L100.1,136.8L99.4,136.7L98.6,136.6L97.9,136.5L97.1,136.5L96.3,136.6L95.5,136.8L94.7,137.0L93.9,137.3L93.2,137.5L92.5,137.7L92.0,137.9L91.6,138.1Z"/>
<path d="M93.4,167.5L93.9,167.2L94.5,166.8L95.2,166.3L96.0,165.8L96.9,165.3L97.7,164.8L98.6,164.3L99.3,163.9L100.1,163.5L100.9,163.1L101.8,162.7L102.6,162.3L103.5,161.9L104.2,161.6L104.8,161.3L105.3,161.1L106.1,159.5L104.4,158.7L103.9,158.8L103.3,159.0L102.5,159.2L101.6,159.5L100.7,159.8L99.7,160.1L98.8,160.4L97.9,160.7L97.0,161.0L96.1,161.4L95.1,161.8L94.1,162.2L93.3,162.6L92.5,163.0L91.8,163.3L91.3,163.5Z"/>
<path d="M104.3,161.4L104.9,161.3L105.6,161.2L106.5,161.0L107.4,160.8L108.4,160.7L109.4,160.5L110.3,160.4L111.0,160.5L111.7,160.5L112.4,160.7L113.0,160.9L113.7,161.1L114.4,161.4L115.0,161.7L115.7,162.0L116.3,162.3L116.9,162.7L117.6,163.1L118.3,163.5L118.9,164.0L119.5,164.4L120.0,164.8L120.5,165.2L120.8,165.4L121.5,165.3L121.4,164.7L121.1,164.4L120.7,164.0L120.2,163.6L119.6,163.1L119.0,162.6L118.3,162.0L117.7,161.6L117.0,161.1L116.4,160.7L115.7,160.4L115.1,160.0L114.4,159.6L113.6,159.3L112.9,159.0L112.1,158.7L111.2,158.5L110.3,158.5L109.2,158.4L108.2,158.5L107.1,158.6L106.1,158.7L105.3,158.8L104.5,158.9L104.0,158.9Z"/>
<path d="M105.8,160.3L105.9,159.9L106.0,159.2L106.1,158.5L106.3,157.7L106.5,156.9L106.7,156.0L106.8,155.3L107.0,154.7L107.2,154.2L107.4,153.6L107.7,153.1L107.9,152.6L108.2,152.2L108.4,151.8L108.6,151.4L108.7,151.1L108.6,150.5L108.0,150.6L107.8,150.9L107.5,151.2L107.2,151.5L106.9,151.9L106.5,152.4L106.2,152.9L105.8,153.5L105.5,154.0L105.2,154.7L104.8,155.4L104.5,156.2L104.1,157.0L103.8,157.8L103.5,158.5L103.3,159.1L103.1,159.5Z"/>
<path d="M108.2,152.4L108.5,152.2L108.8,151.9L109.3,151.6L109.7,151.2L110.2,150.8L110.7,150.5L111.2,150.1L111.7,149.9L112.1,149.7L112.7,149.4L113.3,149.2L113.8,149.1L114.4,148.9L114.9,148.8L115.3,148.6L115.7,148.5L116.0,148.0L115.5,147.7L115.1,147.7L114.7,147.8L114.2,147.9L113.6,148.0L113.0,148.1L112.3,148.2L111.7,148.4L111.1,148.6L110.5,148.8L109.9,149.1L109.3,149.4L108.8,149.8L108.2,150.1L107.8,150.4L107.4,150.6L107.1,150.8Z"/>
<path d="M108.1,152.5L108.2,152.1L108.2,151.7L108.3,151.2L108.4,150.7L108.4,150.1L108.5,149.6L108.6,149.0L108.7,148.6L108.8,148.1L108.9,147.6L109.1,147.2L109.2,146.7L109.4,146.2L109.5,145.8L109.6,145.5L109.7,145.2L109.5,144.6L108.9,144.9L108.8,145.1L108.6,145.5L108.4,145.8L108.2,146.3L108.0,146.7L107.8,147.2L107.6,147.7L107.4,148.2L107.2,148.7L107.1,149.3L106.9,149.8L106.8,150.4L106.6,150.9L106.5,151.4L106.4,151.8L106.3,152.1Z"/>
<path d="M67.2,162.2L66.7,161.9L66.0,161.5L65.1,161.1L64.2,160.6L63.3,160.1L62.4,159.6L61.6,159.0L60.8,158.6L60.1,158.1L59.4,157.5L58.7,156.8L58.0,156.2L57.3,155.6L56.7,155.0L56.2,154.5L55.8,154.2L54.0,154.1L53.9,156.0L54.3,156.3L54.7,156.9L55.2,157.5L55.8,158.3L56.5,159.0L57.2,159.8L57.9,160.6L58.6,161.3L59.4,162.0L60.3,162.7L61.2,163.3L62.1,164.0L62.9,164.6L63.7,165.2L64.3,165.6L64.8,166.0Z"/>
<path d="M56.4,155.1L56.1,154.6L55.7,153.8L55.1,153.0L54.6,152.0L54.0,151.0L53.4,150.0L52.8,149.0L52.3,148.0L51.9,147.0L51.4,146.0L51.0,144.9L50.6,143.8L50.2,142.8L49.8,141.7L49.4,140.6L49.0,139.6L48.7,138.5L48.4,137.3L48.1,136.1L47.8,135.0L47.5,133.8L47.3,132.8L47.1,132.0L47.0,131.4L46.4,131.0L46.1,131.5L46.2,132.2L46.3,133.0L46.5,134.0L46.7,135.2L46.9,136.4L47.1,137.6L47.4,138.8L47.6,140.0L47.9,141.1L48.2,142.2L48.5,143.3L48.9,144.4L49.3,145.6L49.6,146.7L50.0,147.8L50.4,148.8L50.9,149.9L51.4,151.0L51.9,152.1L52.5,153.2L53.0,154.2L53.5,155.1L53.8,155.8L54.1,156.4Z"/>
<path d="M52.7,149.8L52.2,149.9L51.7,149.9L51.0,150.0L50.3,150.2L49.5,150.2L48.7,150.3L48.0,150.3L47.3,150.3L46.7,150.2L46.0,150.1L45.2,149.9L44.5,149.8L43.8,149.6L43.2,149.3L42.6,149.0L42.1,148.7L41.6,148.3L41.1,147.8L40.7,147.2L40.3,146.5L39.9,145.9L39.5,145.3L39.2,144.8L39.0,144.4L38.4,144.3L38.2,144.9L38.4,145.2L38.7,145.8L39.0,146.4L39.3,147.1L39.7,147.8L40.2,148.5L40.7,149.2L41.3,149.7L41.9,150.2L42.6,150.6L43.3,150.9L44.1,151.2L44.8,151.5L45.6,151.7L46.4,151.9L47.1,152.0L47.9,152.1L48.8,152.2L49.6,152.2L50.4,152.1L51.2,152.1L51.9,152.0L52.5,152.0L52.9,152.0Z"/>
<path d="M58.4,157.8L57.9,157.8L57.2,157.7L56.4,157.6L55.5,157.6L54.5,157.5L53.4,157.5L52.4,157.5L51.3,157.6L50.3,157.8L49.2,158.0L48.1,158.3L47.1,158.6L46.0,158.9L45.0,159.2L43.9,159.5L43.0,159.7L41.9,159.8L40.9,160.0L39.8,160.1L38.7,160.2L37.7,160.3L36.8,160.3L36.0,160.4L35.4,160.4L35.0,160.9L35.4,161.3L36.0,161.3L36.8,161.3L37.7,161.3L38.7,161.3L39.8,161.2L41.0,161.2L42.1,161.1L43.2,161.0L44.2,160.9L45.3,160.6L46.4,160.4L47.5,160.2L48.5,159.9L49.6,159.7L50.6,159.6L51.5,159.5L52.4,159.4L53.4,159.5L54.3,159.6L55.3,159.7L56.2,159.8L57.0,159.9L57.7,160.0L58.2,160.1Z"/>
<path d="M64.9,171.1L64.4,171.5L63.8,171.9L63.0,172.4L62.2,172.9L61.3,173.5L60.4,174.1L59.6,174.6L58.9,175.1L58.2,175.5L57.5,176.0L56.8,176.5L56.2,176.9L55.6,177.3L55.0,177.7L54.6,178.0L54.2,178.2L53.7,180.0L55.5,180.5L55.9,180.3L56.4,180.1L57.0,179.8L57.6,179.5L58.3,179.1L59.1,178.8L59.8,178.4L60.6,178.1L61.3,177.7L62.2,177.3L63.2,176.9L64.1,176.4L65.0,176.0L65.9,175.6L66.6,175.3L67.1,175.1Z"/>
<path d="M55.9,177.8L55.4,177.7L54.8,177.6L54.2,177.5L53.5,177.3L52.7,177.2L52.0,176.9L51.2,176.7L50.5,176.4L49.7,176.0L48.9,175.5L48.0,174.9L47.1,174.2L46.2,173.6L45.3,172.9L44.3,172.3L43.4,171.8L42.4,171.3L41.4,170.9L40.4,170.5L39.3,170.2L38.4,169.9L37.5,169.6L36.8,169.4L36.3,169.2L35.7,169.5L36.0,170.1L36.5,170.3L37.2,170.6L38.0,170.9L39.0,171.3L39.9,171.7L40.9,172.1L41.8,172.6L42.7,173.0L43.5,173.6L44.4,174.2L45.2,174.9L46.1,175.6L47.0,176.3L47.8,177.0L48.7,177.6L49.5,178.2L50.4,178.6L51.3,179.0L52.1,179.3L52.9,179.5L53.7,179.7L54.3,179.9L54.9,180.0L55.3,180.1Z"/>
<path d="M54.2,178.6L53.7,178.9L53.1,179.3L52.4,179.8L51.6,180.4L50.7,181.0L49.9,181.6L49.0,182.1L48.1,182.6L47.3,183.1L46.4,183.6L45.4,184.1L44.5,184.6L43.6,185.1L42.6,185.6L41.7,186.0L40.8,186.3L39.8,186.6L38.8,186.9L37.7,187.1L36.6,187.4L35.6,187.5L34.6,187.7L33.9,187.8L33.3,187.9L32.9,188.5L33.4,188.8L34.0,188.8L34.8,188.7L35.7,188.6L36.8,188.5L37.9,188.3L39.0,188.2L40.1,187.9L41.2,187.7L42.2,187.4L43.2,187.0L44.2,186.6L45.2,186.2L46.2,185.8L47.2,185.3L48.2,184.9L49.1,184.4L50.0,183.9L51.0,183.4L51.9,182.9L52.8,182.3L53.7,181.8L54.4,181.4L55.1,181.0L55.5,180.7Z"/>
<path d="M47.6,183.5L47.4,183.9L47.2,184.6L46.9,185.3L46.5,186.1L46.2,187.0L45.8,187.9L45.5,188.7L45.3,189.5L45.1,190.3L45.0,191.1L44.9,191.8L44.9,192.5L44.8,193.2L44.8,193.9L44.7,194.5L44.5,195.1L44.3,195.7L44.0,196.4L43.6,197.1L43.2,197.8L42.8,198.5L42.5,199.1L42.2,199.6L42.0,200.0L42.1,200.6L42.7,200.4L43.0,200.1L43.3,199.6L43.7,199.0L44.1,198.4L44.6,197.7L45.0,197.0L45.4,196.3L45.8,195.6L46.0,194.8L46.2,194.1L46.3,193.4L46.4,192.7L46.5,192.0L46.6,191.3L46.7,190.7L46.9,190.0L47.2,189.3L47.5,188.5L47.9,187.7L48.3,186.9L48.7,186.1L49.1,185.4L49.4,184.8L49.6,184.4Z"/>
<path d="M69.7,179.7L69.4,180.3L69.0,181.2L68.5,182.1L68.0,183.2L67.4,184.4L66.9,185.5L66.4,186.6L65.9,187.6L65.5,188.6L65.0,189.6L64.5,190.7L64.1,191.7L63.7,192.7L63.3,193.5L63.0,194.2L62.8,194.8L63.3,196.4L65.0,195.9L65.3,195.4L65.7,194.7L66.1,193.9L66.6,193.0L67.2,192.0L67.7,191.0L68.3,190.1L68.8,189.2L69.4,188.2L70.0,187.2L70.7,186.1L71.3,185.1L72.0,184.0L72.5,183.1L73.0,182.4L73.4,181.8Z"/>
<path d="M63.0,194.7L62.8,195.1L62.7,195.7L62.5,196.5L62.3,197.3L62.0,198.2L61.8,199.1L61.7,200.0L61.6,200.8L61.6,201.5L61.6,202.2L61.6,202.9L61.7,203.5L61.8,204.2L61.9,204.8L62.0,205.3L62.1,205.8L62.3,206.4L62.4,206.9L62.5,207.4L62.7,207.9L62.8,208.4L63.0,208.8L63.1,209.1L63.2,209.3L63.7,209.7L64.0,209.1L64.0,208.8L63.9,208.5L63.8,208.1L63.7,207.7L63.6,207.2L63.5,206.7L63.5,206.2L63.4,205.7L63.4,205.1L63.3,204.6L63.3,204.0L63.3,203.4L63.3,202.8L63.3,202.2L63.3,201.6L63.4,201.0L63.6,200.4L63.8,199.6L64.1,198.8L64.4,198.0L64.7,197.2L65.0,196.5L65.2,195.9L65.4,195.4Z"/>
<path d="M63.2,196.0L62.8,196.2L62.2,196.4L61.6,196.7L60.9,197.0L60.2,197.3L59.4,197.6L58.8,197.8L58.2,198.0L57.7,198.0L57.2,198.1L56.8,198.0L56.3,198.0L55.8,197.9L55.3,197.8L54.9,197.7L54.4,197.5L53.9,197.3L53.5,197.1L53.0,196.9L52.5,196.6L52.0,196.3L51.6,196.0L51.2,195.8L50.9,195.6L50.3,195.8L50.5,196.4L50.7,196.6L51.0,196.8L51.4,197.1L51.9,197.5L52.4,197.8L52.9,198.2L53.4,198.5L53.9,198.7L54.4,198.9L54.9,199.1L55.5,199.3L56.0,199.4L56.6,199.5L57.2,199.6L57.8,199.7L58.4,199.6L59.2,199.5L60.0,199.3L60.8,199.1L61.6,198.9L62.3,198.6L63.0,198.4L63.6,198.2L64.0,198.0Z"/>
<path d="M84.2,182.4L84.7,183.0L85.3,183.6L86.0,184.4L86.8,185.3L87.6,186.3L88.5,187.3L89.3,188.3L90.2,189.2L90.9,190.1L91.7,191.0L92.5,191.9L93.3,192.9L94.2,193.8L95.1,194.8L96.0,195.8L97.0,196.8L98.0,197.9L99.0,199.0L100.2,200.2L101.3,201.3L102.5,202.5L103.6,203.6L104.7,204.6L105.8,205.6L106.9,206.6L107.9,207.5L108.9,208.3L110.0,209.2L111.0,210.0L112.0,210.7L113.1,211.4L114.1,212.0L115.1,212.5L116.1,213.0L117.1,213.3L118.1,213.6L119.0,213.8L119.9,214.0L120.8,214.1L121.7,214.2L122.6,214.3L123.5,214.4L124.4,214.5L125.3,214.5L126.1,214.5L127.0,214.4L127.9,214.3L128.8,214.2L129.7,214.1L130.5,213.9L131.4,213.7L132.3,213.5L133.2,213.2L134.2,212.9L135.2,212.4L136.2,211.9L137.3,211.3L138.4,210.6L139.5,209.9L140.7,209.1L141.9,208.2L143.0,207.3L144.2,206.3L145.3,205.3L146.5,204.2L147.6,203.1L148.7,201.9L149.9,200.7L151.0,199.4L152.1,198.2L153.2,196.9L154.2,195.6L155.2,194.3L156.2,193.0L157.1,191.6L158.0,190.3L158.8,189.0L159.7,187.6L160.6,186.3L161.6,185.0L162.6,183.6L163.7,182.1L164.8,180.6L165.9,179.1L167.0,177.7L168.1,176.3L169.2,175.1L170.2,174.0L171.3,173.0L172.4,172.1L173.5,171.3L174.6,170.5L175.7,169.7L176.8,169.0L177.8,168.4L178.7,167.7L179.5,167.0L180.2,166.4L180.6,165.8L181.0,165.4L181.3,165.1L181.5,164.9L181.8,164.7L182.2,164.5L182.8,164.3L183.6,164.1L184.4,163.9L185.3,163.7L186.3,163.6L187.3,163.5L188.3,163.3L189.4,163.2L190.4,163.1L191.5,163.0L192.6,162.8L193.6,162.7L194.7,162.6L195.8,162.6L197.0,162.6L198.2,162.7L199.5,162.9L201.1,163.1L202.7,163.4L204.4,163.8L206.0,164.1L207.6,164.5L208.9,164.9L210.1,165.2L211.0,165.5L211.8,165.8L212.4,166.1L213.0,166.3L213.5,166.6L213.9,166.9L214.3,167.1L214.7,167.3L216.9,166.6L216.3,164.4L216.0,164.3L215.6,164.1L215.2,163.8L214.6,163.4L213.9,163.1L213.1,162.7L212.1,162.3L211.1,162.0L209.8,161.6L208.4,161.2L206.8,160.8L205.1,160.4L203.4,160.1L201.7,159.7L200.0,159.4L198.5,159.2L197.1,159.1L195.8,159.1L194.5,159.1L193.3,159.2L192.2,159.3L191.1,159.4L190.0,159.5L189.0,159.7L187.9,159.8L186.9,159.9L185.8,160.0L184.7,160.2L183.7,160.3L182.7,160.5L181.7,160.8L180.8,161.1L180.0,161.5L179.3,162.0L178.7,162.5L178.3,163.0L177.9,163.4L177.5,163.8L177.1,164.2L176.5,164.7L175.7,165.3L174.7,165.9L173.7,166.6L172.5,167.3L171.3,168.2L170.0,169.1L168.8,170.1L167.6,171.2L166.4,172.5L165.2,173.8L164.0,175.3L162.8,176.8L161.7,178.3L160.5,179.8L159.5,181.2L158.4,182.6L157.4,184.0L156.4,185.4L155.5,186.7L154.6,188.0L153.7,189.3L152.8,190.6L151.9,191.8L151.0,193.0L150.0,194.2L148.9,195.4L147.9,196.7L146.8,197.8L145.7,199.0L144.6,200.1L143.5,201.2L142.5,202.1L141.4,203.0L140.3,203.9L139.2,204.8L138.2,205.6L137.1,206.3L136.1,207.0L135.1,207.6L134.2,208.1L133.3,208.5L132.6,208.8L131.9,209.1L131.1,209.3L130.4,209.4L129.7,209.6L129.0,209.7L128.2,209.8L127.4,209.9L126.7,210.0L126.0,210.0L125.3,210.0L124.5,210.0L123.8,210.0L123.1,209.9L122.3,209.8L121.5,209.6L120.7,209.5L120.0,209.4L119.3,209.2L118.5,209.0L117.8,208.7L117.1,208.4L116.3,208.0L115.5,207.5L114.7,206.9L113.8,206.3L112.9,205.6L111.9,204.8L111.0,203.9L110.0,203.1L109.0,202.2L107.9,201.2L106.9,200.2L105.8,199.1L104.7,198.0L103.6,196.8L102.5,195.7L101.4,194.6L100.4,193.6L99.5,192.6L98.7,191.6L97.8,190.6L97.0,189.7L96.2,188.8L95.4,187.8L94.6,186.9L93.8,186.0L93.0,185.0L92.2,184.1L91.3,183.1L90.5,182.1L89.7,181.2L89.0,180.4L88.4,179.7L88.0,179.2Z"/>
<path d="M215.6,167.4L216.0,167.2L216.7,167.0L217.5,166.7L218.3,166.3L219.3,165.9L220.2,165.5L221.1,165.1L222.0,164.7L222.8,164.3L223.6,163.8L224.4,163.4L225.1,162.9L225.8,162.5L226.5,162.1L227.2,161.7L227.9,161.4L228.7,161.1L229.5,160.8L230.3,160.5L231.2,160.2L232.0,159.9L232.7,159.7L233.4,159.5L233.8,159.3L234.6,157.9L233.2,157.1L232.7,157.2L232.1,157.4L231.4,157.5L230.5,157.7L229.6,157.9L228.7,158.2L227.7,158.5L226.9,158.7L226.0,159.1L225.2,159.4L224.4,159.8L223.6,160.2L222.8,160.6L222.1,160.9L221.3,161.3L220.6,161.6L219.8,161.9L218.9,162.2L218.0,162.5L217.0,162.8L216.2,163.1L215.4,163.3L214.7,163.5L214.2,163.7Z"/>
<path d="M226.6,160.2L226.6,159.6L226.7,158.8L226.7,158.0L226.7,157.0L226.7,156.0L226.7,154.9L226.8,153.9L226.9,153.1L227.0,152.2L227.2,151.3L227.4,150.4L227.6,149.5L227.8,148.6L228.0,147.8L228.2,147.0L228.4,146.2L228.5,145.4L228.7,144.7L228.8,143.9L229.0,143.2L229.1,142.6L229.2,142.1L229.3,141.6L229.4,141.2L229.0,140.7L228.5,141.0L228.4,141.4L228.2,141.8L228.1,142.4L227.9,143.0L227.7,143.7L227.5,144.4L227.3,145.1L227.0,145.8L226.8,146.6L226.5,147.3L226.2,148.2L225.9,149.1L225.6,149.9L225.3,150.9L225.1,151.8L224.9,152.7L224.7,153.7L224.5,154.7L224.4,155.8L224.2,156.8L224.1,157.8L224.0,158.7L223.9,159.4L223.9,160.0Z"/>
<path d="M234.0,159.3L234.3,158.8L234.8,158.0L235.3,157.1L235.9,156.0L236.5,155.0L237.1,153.9L237.7,152.8L238.3,151.9L238.7,151.1L239.2,150.2L239.7,149.4L240.1,148.6L240.5,147.8L241.0,147.1L241.4,146.3L241.8,145.6L242.2,144.9L242.6,144.1L243.0,143.4L243.4,142.7L243.8,142.0L244.1,141.5L244.4,141.0L244.6,140.6L244.5,140.0L243.8,140.1L243.6,140.5L243.3,140.9L242.9,141.5L242.4,142.1L242.0,142.8L241.5,143.5L241.0,144.2L240.5,144.8L240.1,145.5L239.6,146.2L239.1,146.9L238.6,147.7L238.1,148.4L237.5,149.2L237.0,150.0L236.4,150.8L235.8,151.6L235.1,152.6L234.4,153.6L233.7,154.6L233.0,155.6L232.4,156.5L231.9,157.2L231.5,157.7Z"/>
<path d="M232.3,159.5L232.8,159.7L233.5,159.8L234.2,160.0L235.1,160.3L236.0,160.5L236.8,160.8L237.6,161.1L238.3,161.4L239.0,161.8L239.7,162.3L240.4,162.8L241.1,163.4L241.8,163.9L242.5,164.5L243.1,165.1L243.7,165.6L244.3,166.2L244.9,166.7L245.5,167.3L246.0,167.8L246.6,168.4L247.0,168.8L247.4,169.2L247.7,169.5L248.3,169.6L248.4,168.9L248.1,168.6L247.8,168.2L247.4,167.7L246.9,167.1L246.4,166.5L245.8,165.8L245.3,165.2L244.7,164.6L244.2,164.0L243.6,163.4L242.9,162.7L242.3,162.0L241.6,161.4L240.9,160.7L240.2,160.1L239.4,159.6L238.6,159.1L237.7,158.7L236.8,158.3L235.9,157.9L235.0,157.6L234.3,157.3L233.6,157.1L233.2,156.9Z"/>
<path d="M213.2,166.5L213.5,166.9L213.8,167.5L214.3,168.2L214.7,168.9L215.2,169.7L215.8,170.6L216.3,171.4L216.9,172.1L217.5,172.9L218.1,173.6L218.8,174.3L219.4,175.1L220.1,175.8L220.7,176.4L221.3,177.1L221.8,177.7L222.3,178.3L222.7,178.9L223.2,179.5L223.6,180.2L224.1,180.7L224.4,181.3L224.7,181.7L225.0,182.1L226.5,182.4L226.8,180.9L226.6,180.5L226.3,180.1L226.0,179.5L225.6,178.9L225.2,178.2L224.8,177.5L224.3,176.8L223.9,176.1L223.4,175.4L222.8,174.7L222.2,173.9L221.6,173.2L221.1,172.4L220.5,171.7L220.0,171.0L219.5,170.3L219.1,169.6L218.7,168.8L218.2,168.0L217.8,167.2L217.4,166.4L217.0,165.7L216.7,165.1L216.5,164.6Z"/>
<path d="M223.6,179.2L224.1,179.1L224.7,179.1L225.5,179.1L226.3,179.0L227.2,178.9L228.2,178.8L229.1,178.7L229.9,178.5L230.7,178.3L231.4,178.0L232.1,177.8L232.8,177.5L233.5,177.1L234.2,176.8L234.8,176.4L235.4,176.0L236.1,175.5L236.6,174.9L237.2,174.4L237.7,173.8L238.2,173.2L238.6,172.7L238.9,172.3L239.2,172.0L239.2,171.4L238.5,171.4L238.2,171.7L237.8,172.0L237.4,172.5L236.9,173.0L236.3,173.5L235.8,174.0L235.2,174.4L234.6,174.7L234.1,175.0L233.5,175.3L232.8,175.6L232.2,175.8L231.5,176.0L230.8,176.2L230.2,176.3L229.5,176.5L228.8,176.5L228.0,176.6L227.1,176.6L226.3,176.5L225.5,176.5L224.7,176.5L224.0,176.4L223.5,176.4Z"/>
<path d="M224.2,180.9L224.2,181.3L224.1,181.8L224.1,182.4L224.0,183.0L224.0,183.7L223.9,184.3L223.8,184.9L223.7,185.4L223.6,185.9L223.4,186.3L223.3,186.8L223.1,187.2L222.9,187.6L222.7,188.0L222.5,188.4L222.3,188.7L222.1,189.0L221.8,189.3L221.6,189.5L221.3,189.8L221.0,190.0L220.8,190.3L220.6,190.4L220.4,190.6L220.3,191.2L221.0,191.3L221.1,191.2L221.4,191.1L221.6,190.9L222.0,190.7L222.3,190.4L222.7,190.2L223.0,189.9L223.3,189.5L223.6,189.2L223.9,188.8L224.2,188.4L224.5,188.0L224.8,187.6L225.1,187.1L225.3,186.6L225.6,186.1L225.8,185.5L226.0,184.8L226.2,184.1L226.4,183.5L226.6,182.8L226.7,182.2L226.8,181.7L226.9,181.4Z"/>
<path d="M224.6,182.0L224.8,182.4L225.1,183.0L225.4,183.7L225.8,184.5L226.2,185.3L226.6,186.1L226.9,186.9L227.2,187.6L227.4,188.2L227.6,188.9L227.8,189.5L228.0,190.2L228.1,190.8L228.3,191.4L228.4,192.1L228.5,192.7L228.6,193.3L228.7,194.0L228.7,194.8L228.7,195.5L228.7,196.1L228.8,196.8L228.8,197.3L228.8,197.7L229.2,198.1L229.7,197.7L229.7,197.3L229.8,196.8L229.8,196.2L229.9,195.5L229.9,194.8L230.0,194.0L230.0,193.3L230.0,192.6L229.9,191.9L229.9,191.2L229.8,190.5L229.7,189.8L229.6,189.1L229.5,188.4L229.3,187.7L229.2,187.0L228.9,186.2L228.7,185.3L228.4,184.4L228.1,183.6L227.8,182.7L227.5,182.0L227.3,181.4L227.1,180.9Z"/>
<path d="M225.6,183.7L226.1,183.8L226.8,183.9L227.6,184.1L228.6,184.3L229.6,184.4L230.6,184.6L231.7,184.7L232.7,184.7L233.7,184.7L234.7,184.6L235.7,184.5L236.7,184.4L237.6,184.3L238.6,184.1L239.6,183.9L240.5,183.7L241.5,183.5L242.5,183.2L243.5,182.9L244.5,182.6L245.4,182.3L246.2,182.0L246.9,181.8L247.4,181.6L247.7,181.0L247.2,180.7L246.6,180.9L245.9,181.0L245.1,181.3L244.2,181.5L243.2,181.7L242.2,181.9L241.2,182.1L240.3,182.3L239.4,182.4L238.4,182.5L237.5,182.5L236.5,182.6L235.5,182.6L234.6,182.6L233.7,182.6L232.8,182.5L231.9,182.4L231.0,182.3L230.0,182.0L229.1,181.8L228.2,181.6L227.4,181.4L226.7,181.2L226.1,181.0Z"/>
<path d="M271.7,175.8L271.3,175.9L270.8,175.9L270.2,175.9L269.4,175.9L268.6,175.9L267.8,176.0L267.0,176.1L266.2,176.2L265.4,176.4L264.7,176.6L264.0,176.9L263.3,177.1L262.6,177.4L262.0,177.7L261.3,178.1L260.6,178.4L259.9,178.8L259.2,179.2L258.5,179.7L257.9,180.1L257.2,180.6L256.5,181.1L255.9,181.6L255.2,182.1L254.6,182.7L253.9,183.3L253.1,183.9L252.5,184.6L251.8,185.2L251.2,185.8L250.7,186.3L250.3,186.6L250.3,187.3L250.9,187.3L251.3,187.0L251.9,186.6L252.5,186.0L253.2,185.5L254.0,184.9L254.7,184.3L255.4,183.8L256.1,183.3L256.8,182.8L257.5,182.4L258.1,182.0L258.8,181.6L259.5,181.2L260.2,180.9L260.8,180.5L261.5,180.2L262.1,180.0L262.8,179.7L263.4,179.5L264.1,179.3L264.7,179.1L265.4,179.0L266.0,178.8L266.6,178.7L267.2,178.7L267.9,178.7L268.7,178.7L269.4,178.7L270.1,178.7L270.7,178.8L271.3,178.8L271.7,178.8Z"/>
<path d="M264.1,177.4L263.8,177.2L263.4,176.9L262.8,176.5L262.3,176.1L261.7,175.7L261.2,175.3L260.7,174.9L260.3,174.4L259.9,174.0L259.6,173.5L259.2,173.0L258.9,172.5L258.6,171.9L258.4,171.3L258.1,170.8L257.9,170.2L257.7,169.7L257.5,169.1L257.4,168.4L257.2,167.8L257.1,167.2L257.0,166.6L257.0,166.2L256.9,165.8L256.4,165.4L256.0,165.9L256.0,166.3L256.1,166.8L256.1,167.3L256.1,168.0L256.2,168.6L256.3,169.3L256.4,170.0L256.5,170.7L256.7,171.3L256.9,171.9L257.2,172.6L257.4,173.2L257.7,173.8L258.0,174.5L258.4,175.1L258.7,175.7L259.2,176.2L259.7,176.8L260.3,177.4L260.8,177.9L261.4,178.4L261.9,178.8L262.3,179.1L262.5,179.4Z"/>
<path d="M274.3,160.3L273.9,160.1L273.5,159.9L273.0,159.7L272.4,159.4L271.8,159.2L271.2,158.9L270.6,158.6L270.1,158.3L269.5,158.0L268.9,157.8L268.4,157.5L267.8,157.2L267.3,156.9L266.7,156.6L266.1,156.2L265.5,155.9L264.9,155.4L264.2,154.9L263.5,154.4L262.8,153.8L262.1,153.3L261.4,152.7L260.7,152.1L260.0,151.6L259.4,151.0L258.7,150.4L258.0,149.8L257.3,149.1L256.7,148.5L256.1,148.0L255.6,147.5L255.2,147.2L254.6,147.2L254.6,147.8L254.9,148.2L255.4,148.7L255.9,149.3L256.5,149.9L257.1,150.6L257.7,151.3L258.4,152.0L259.0,152.7L259.6,153.3L260.3,153.9L260.9,154.6L261.6,155.2L262.3,155.8L262.9,156.4L263.6,157.0L264.2,157.5L264.9,158.0L265.5,158.5L266.1,158.9L266.6,159.2L267.2,159.6L267.8,159.9L268.3,160.3L268.8,160.6L269.4,160.9L270.0,161.3L270.6,161.6L271.2,161.9L271.7,162.3L272.2,162.5L272.6,162.7L272.9,162.9Z"/>
<path d="M275.1,162.0L275.0,161.5L275.0,160.9L274.9,160.2L274.8,159.5L274.8,158.6L274.7,157.7L274.6,156.8L274.5,155.9L274.4,154.9L274.3,153.9L274.1,152.8L274.0,151.8L273.9,150.7L273.7,149.6L273.6,148.5L273.5,147.4L273.3,146.4L273.1,145.3L273.0,144.2L272.8,143.1L272.6,142.1L272.4,141.2L272.3,140.4L272.2,139.8L271.7,139.4L271.3,139.9L271.3,140.5L271.4,141.3L271.5,142.2L271.6,143.3L271.6,144.3L271.7,145.5L271.8,146.6L271.9,147.6L271.9,148.6L271.9,149.7L272.0,150.8L272.0,151.9L272.0,153.0L272.0,154.0L272.1,155.1L272.1,156.0L272.1,156.9L272.1,157.8L272.1,158.7L272.1,159.6L272.1,160.4L272.1,161.1L272.1,161.7L272.1,162.1Z"/>
<path d="M267.7,157.9L267.2,158.0L266.6,158.1L265.9,158.3L265.1,158.5L264.2,158.7L263.3,158.8L262.5,159.0L261.7,159.1L261.0,159.1L260.3,159.2L259.5,159.2L258.8,159.2L258.0,159.2L257.2,159.3L256.4,159.3L255.7,159.3L254.8,159.4L254.0,159.5L253.1,159.7L252.2,159.8L251.4,159.9L250.6,160.1L250.0,160.2L249.5,160.2L249.1,160.7L249.6,161.1L250.1,161.1L250.7,161.0L251.5,161.0L252.3,160.9L253.2,160.9L254.1,160.8L254.9,160.8L255.7,160.8L256.5,160.8L257.2,160.8L258.0,160.9L258.7,160.9L259.5,161.0L260.3,161.0L261.1,161.1L261.9,161.1L262.7,161.0L263.6,160.9L264.5,160.8L265.4,160.7L266.3,160.6L267.0,160.5L267.7,160.4L268.1,160.4Z"/>
<path d="M74.3,151.6C76.0,150.9 78.5,153.7 80.6,153.7C82.6,153.7 85.4,150.9 86.8,151.6C88.2,152.3 87.8,155.5 89.2,157.8C90.6,160.1 95.0,162.9 95.1,165.5C95.3,168.0 91.6,170.3 90.3,173.1C89.0,175.9 89.4,180.8 87.5,182.1C85.6,183.5 82.1,181.4 79.2,181.4C76.3,181.4 72.2,183.3 70.1,182.1C68.1,181.0 67.7,176.8 66.7,174.5C65.6,172.2 64.1,170.2 63.9,168.2C63.7,166.3 64.5,164.4 65.6,162.7C66.6,161.0 68.7,159.7 70.1,157.8C71.6,156.0 72.6,152.3 74.3,151.6Z"/>
<circle cx="228.9" cy="140.6" r="1.9" fill="#ea9397" stroke="none"/>
<circle cx="244.4" cy="140.0" r="1.9" fill="#ea9397" stroke="none"/>
<circle cx="248.3" cy="169.5" r="1.9" fill="#ea9397" stroke="none"/>
<circle cx="239.0" cy="171.4" r="1.9" fill="#ea9397" stroke="none"/>
<circle cx="220.5" cy="191.1" r="1.9" fill="#ea9397" stroke="none"/>
<circle cx="229.2" cy="198.0" r="1.9" fill="#ea9397" stroke="none"/>
<circle cx="247.4" cy="181.0" r="1.9" fill="#ea9397" stroke="none"/>
</g></g>
<ellipse cx="78.9" cy="168.9" rx="7.6" ry="5.6" transform="rotate(12 78.9 168.9)" fill="#a8485a" stroke="#8e3448" stroke-width="0.8"/>
<text x="117.5" y="143.5" font-size="10.3" fill="#222" textLength="44.5" lengthAdjust="spacingAndGlyphs">Dendrites</text>
<text x="163.0" y="197.5" font-size="10.3" fill="#222" textLength="23.5" lengthAdjust="spacingAndGlyphs">Axon</text>
<rect x="242.5" y="177.8" width="12.6" height="11.8" fill="none" stroke="#333" stroke-width="1"/>
<line x1="248" y1="190" x2="232.5" y2="222.5" stroke="#111" stroke-width="0.9" marker-end="url(#ah)"/>
<rect x="20" y="223.5" width="147" height="90.5" fill="#f5f5f5"/>
<rect x="20" y="223.5" width="266.3" height="90.5" fill="none" stroke="#969696" stroke-width="1"/>
<text x="96.0" y="240.5" font-size="10.3" text-anchor="middle" fill="#222" textLength="85.0" lengthAdjust="spacingAndGlyphs">Synaptic plasticity</text>
<text x="229.0" y="240.5" font-size="10.3" text-anchor="middle" fill="#222" textLength="79.0" lengthAdjust="spacingAndGlyphs">Timing dynamics</text>
<text x="42.0" y="308.5" font-size="10.3" fill="#222" textLength="34.0" lengthAdjust="spacingAndGlyphs">Normal</text>
<text x="106.0" y="308.5" font-size="10.3" fill="#222" textLength="46.0" lengthAdjust="spacingAndGlyphs">Enhanced</text>
<text x="174.0" y="308.5" font-size="10.3" fill="#222" textLength="74.0" lengthAdjust="spacingAndGlyphs">Action potential</text>
<path d="M24.9,264.0C26.0,264.1 29.7,264.8 31.8,264.6C34.0,264.4 36.1,264.3 37.8,262.6C39.4,261.0 40.3,256.7 41.7,254.7C43.2,252.6 45.1,250.5 46.7,250.3C48.3,250.2 50.3,251.6 51.3,253.7C52.3,255.7 52.4,260.0 52.7,262.6C52.9,265.3 52.9,266.9 52.9,269.6C52.9,272.2 53.0,275.5 52.7,278.5C52.3,281.5 51.7,285.4 50.7,287.4C49.7,289.4 48.2,290.7 46.7,290.4C45.2,290.1 43.2,287.5 41.7,285.4C40.3,283.4 39.4,279.7 37.8,278.1C36.1,276.4 34.0,275.8 31.8,275.5C29.7,275.2 26.0,276.0 24.9,276.1" fill="none" stroke="#c8626c" stroke-width="1.05"/>
<path d="M87.4,265.0C86.1,264.9 81.8,265.2 79.4,264.6C77.1,264.0 75.3,263.4 73.5,261.6C71.7,259.8 70.2,255.6 68.5,253.7C66.9,251.8 64.7,250.2 63.6,250.3C62.4,250.5 61.9,252.3 61.6,254.7C61.3,257.1 61.6,261.3 61.6,264.6C61.6,267.9 61.5,271.2 61.6,274.5C61.7,277.8 61.6,281.9 62.0,284.4C62.4,287.0 62.9,289.7 64.0,290.0C65.1,290.3 67.0,288.3 68.5,286.4C70.1,284.5 71.3,280.3 73.1,278.5C74.9,276.7 77.1,276.0 79.4,275.5C81.8,275.0 86.1,275.5 87.4,275.5" fill="none" stroke="#c8626c" stroke-width="1.05"/>
<path d="M97.2,264.0C98.3,264.1 102.0,264.8 104.1,264.6C106.3,264.4 108.4,264.3 110.1,262.6C111.7,261.0 112.6,256.7 114.0,254.7C115.5,252.6 117.4,250.5 119.0,250.3C120.6,250.2 122.6,251.6 123.6,253.7C124.6,255.7 124.7,260.0 125.0,262.6C125.2,265.3 125.2,266.9 125.2,269.6C125.2,272.2 125.3,275.5 125.0,278.5C124.6,281.5 124.0,285.4 123.0,287.4C122.0,289.4 120.5,290.7 119.0,290.4C117.5,290.1 115.5,287.5 114.0,285.4C112.6,283.4 111.7,279.7 110.1,278.1C108.4,276.4 106.3,275.8 104.1,275.5C102.0,275.2 98.3,276.0 97.2,276.1" fill="none" stroke="#c8626c" stroke-width="1.05"/>
<path d="M159.7,265.0C158.4,264.9 154.1,265.2 151.7,264.6C149.4,264.0 147.6,263.4 145.8,261.6C144.0,259.8 142.5,255.6 140.8,253.7C139.2,251.8 137.0,250.2 135.9,250.3C134.7,250.5 134.2,252.3 133.9,254.7C133.6,257.1 133.9,261.3 133.9,264.6C133.9,267.9 133.8,271.2 133.9,274.5C134.0,277.8 133.9,281.9 134.3,284.4C134.7,287.0 135.2,289.7 136.3,290.0C137.4,290.3 139.3,288.3 140.8,286.4C142.4,284.5 143.6,280.3 145.4,278.5C147.2,276.7 149.4,276.0 151.7,275.5C154.1,275.0 158.4,275.5 159.7,275.5" fill="none" stroke="#c8626c" stroke-width="1.05"/>
<circle cx="48.7" cy="263.2" r="3.5" fill="#f0f0f0" stroke="#666" stroke-width="0.55"/>
<rect x="47.4" y="262.2" width="0.9" height="0.9" fill="#222"/>
<rect x="49.1" y="261.8" width="0.9" height="0.9" fill="#222"/>
<rect x="48.5" y="263.7" width="0.9" height="0.9" fill="#222"/>
<rect x="47.2" y="263.8" width="0.9" height="0.9" fill="#222"/>
<rect x="49.3" y="263.4" width="0.9" height="0.9" fill="#222"/>
<circle cx="47.7" cy="275.5" r="3.5" fill="#f0f0f0" stroke="#666" stroke-width="0.55"/>
<rect x="46.4" y="274.5" width="0.9" height="0.9" fill="#222"/>
<rect x="48.1" y="274.1" width="0.9" height="0.9" fill="#222"/>
<rect x="47.5" y="276.0" width="0.9" height="0.9" fill="#222"/>
<rect x="46.2" y="276.1" width="0.9" height="0.9" fill="#222"/>
<rect x="48.3" y="275.7" width="0.9" height="0.9" fill="#222"/>
<rect x="54.8" y="260.2" width="1.7" height="1.7" fill="#111"/>
<rect x="57.8" y="266.1" width="1.7" height="1.7" fill="#111"/>
<rect x="55.8" y="272.7" width="1.7" height="1.7" fill="#111"/>
<rect x="56.8" y="281.2" width="1.7" height="1.7" fill="#111"/>
<rect x="60.8" y="261.8" width="2.8" height="2.8" fill="#111"/>
<rect x="60.8" y="272.5" width="2.8" height="2.8" fill="#111"/>
<circle cx="120.1" cy="259.0" r="3.5" fill="#f0f0f0" stroke="#666" stroke-width="0.55"/>
<rect x="118.9" y="258.0" width="0.9" height="0.9" fill="#222"/>
<rect x="120.6" y="257.6" width="0.9" height="0.9" fill="#222"/>
<rect x="120.0" y="259.5" width="0.9" height="0.9" fill="#222"/>
<rect x="118.7" y="259.6" width="0.9" height="0.9" fill="#222"/>
<rect x="120.8" y="259.2" width="0.9" height="0.9" fill="#222"/>
<circle cx="121.1" cy="269.6" r="3.5" fill="#f0f0f0" stroke="#666" stroke-width="0.55"/>
<rect x="119.9" y="268.5" width="0.9" height="0.9" fill="#222"/>
<rect x="121.6" y="268.1" width="0.9" height="0.9" fill="#222"/>
<rect x="121.0" y="270.0" width="0.9" height="0.9" fill="#222"/>
<rect x="119.7" y="270.1" width="0.9" height="0.9" fill="#222"/>
<rect x="121.8" y="269.7" width="0.9" height="0.9" fill="#222"/>
<circle cx="119.1" cy="279.5" r="3.5" fill="#f0f0f0" stroke="#666" stroke-width="0.55"/>
<rect x="117.9" y="278.4" width="0.9" height="0.9" fill="#222"/>
<rect x="119.6" y="278.0" width="0.9" height="0.9" fill="#222"/>
<rect x="119.0" y="279.9" width="0.9" height="0.9" fill="#222"/>
<rect x="117.7" y="280.0" width="0.9" height="0.9" fill="#222"/>
<rect x="119.8" y="279.6" width="0.9" height="0.9" fill="#222"/>
<rect x="128.8" y="259.4" width="1.7" height="1.7" fill="#111"/>
<rect x="126.6" y="263.4" width="1.7" height="1.7" fill="#111"/>
<rect x="128.2" y="267.7" width="1.7" height="1.7" fill="#111"/>
<rect x="129.8" y="272.9" width="1.7" height="1.7" fill="#111"/>
<rect x="129.2" y="277.2" width="1.7" height="1.7" fill="#111"/>
<rect x="127.8" y="282.2" width="1.7" height="1.7" fill="#111"/>
<rect x="133.0" y="261.8" width="2.8" height="2.8" fill="#111"/>
<rect x="133.0" y="269.2" width="2.8" height="2.8" fill="#111"/>
<rect x="133.0" y="278.7" width="2.8" height="2.8" fill="#111"/>
<path d="M172.8,274.5C175.6,274.5 184.6,274.6 189.7,274.5C194.8,274.5 200.3,274.6 203.6,274.1C206.9,273.6 207.7,272.9 209.5,271.5C211.3,270.2 212.9,267.4 214.5,266.2C216.1,265.0 217.8,264.1 219.0,264.2C220.3,264.3 221.3,264.9 221.8,267.0C222.4,269.0 222.4,273.1 222.4,276.5C222.4,279.9 222.4,284.9 221.8,287.4C221.3,289.9 220.3,291.1 219.0,291.4C217.8,291.7 216.1,290.6 214.5,289.4C212.9,288.2 211.3,285.7 209.5,284.4C207.7,283.2 206.9,282.5 203.6,282.1C200.3,281.6 194.8,281.7 189.7,281.7C184.6,281.6 175.6,281.7 172.8,281.7" fill="none" stroke="#c8626c" stroke-width="1.05"/>
<path d="M280.0,274.1C277.1,274.1 268.2,274.2 263.1,274.1C258.0,274.1 252.5,274.3 249.2,273.7C245.9,273.2 245.1,272.2 243.3,271.0C241.4,269.7 239.8,267.3 238.3,266.2C236.8,265.1 235.4,264.0 234.3,264.2C233.3,264.4 232.6,265.5 232.1,267.6C231.7,269.6 231.7,273.2 231.7,276.5C231.7,279.8 231.7,284.9 232.1,287.4C232.6,289.9 233.3,291.2 234.3,291.4C235.4,291.6 236.8,290.0 238.3,288.8C239.8,287.7 241.4,285.6 243.3,284.4C245.1,283.3 245.9,282.6 249.2,282.1C252.5,281.5 258.0,281.4 263.1,281.3C268.2,281.1 277.1,281.3 280.0,281.3" fill="none" stroke="#c8626c" stroke-width="1.05"/>
<rect x="226.2" y="266.2" width="1.6" height="1.6" fill="#111"/>
<rect x="227.6" y="269.8" width="1.6" height="1.6" fill="#111"/>
<rect x="225.6" y="272.9" width="1.6" height="1.6" fill="#111"/>
<rect x="228.2" y="276.1" width="1.6" height="1.6" fill="#111"/>
<rect x="225.8" y="279.7" width="1.6" height="1.6" fill="#111"/>
<rect x="228.6" y="282.7" width="1.6" height="1.6" fill="#111"/>
<rect x="226.2" y="285.6" width="1.6" height="1.6" fill="#111"/>
<rect x="227.0" y="288.8" width="1.6" height="1.6" fill="#111"/>
<path d="M179.4,269.0L181.7,268.6L183.3,267.0L184.5,262.6L185.3,257.1L186.3,262.6L187.7,267.0L189.7,268.6L194.6,268.8L202.0,269.0" fill="none" stroke="#111" stroke-width="1.1"/>
<path d="M253.2,269.0L258.1,269.0L263.5,268.6L265.5,267.0L266.9,262.6L267.9,258.3L268.8,262.6L270.2,267.0L272.0,268.6L275.4,269.0" fill="none" stroke="#111" stroke-width="1.1"/>
</g>
<g id="panelB">
<text x="308.3" y="89.9" font-size="15.5" font-weight="bold" fill="#000" stroke="#000" stroke-width="0.45">b</text>
<text x="565.0" y="86.9" font-size="10.3" text-anchor="middle" fill="#222" textLength="243.0" lengthAdjust="spacingAndGlyphs">PIN: a complete and reconfigurable photonic neuron</text>
<rect x="313" y="94.8" width="467.5" height="226.2" fill="#fff" stroke="#d4d4d4" stroke-width="1"/>
<text x="443.5" y="110.0" font-size="10.3" text-anchor="middle" fill="#222" textLength="108.0" lengthAdjust="spacingAndGlyphs">Multikernel convolution</text>
<text x="443.5" y="126.0" font-size="10.3" text-anchor="middle" fill="#222" textLength="141.0" lengthAdjust="spacingAndGlyphs">by spatiotemporal interleaving</text>
<rect x="625.5" y="123.5" width="41.5" height="186" fill="#fbfbfb"/>
<rect x="340.4" y="129.2" width="193.4" height="124.4" fill="#fdfdfd"/>
<rect x="340.4" y="142.3" width="193.4" height="20.2" fill="#f3c9cb"/>
<rect x="351.6" y="143.4" width="17" height="18.0" fill="#e8e8e8"/>
<rect x="370.6" y="143.4" width="17" height="18.0" fill="#000000"/>
<rect x="389.6" y="143.4" width="17" height="18.0" fill="#909090"/>
<rect x="408.6" y="143.4" width="17" height="18.0" fill="#d2d2d2"/>
<rect x="427.6" y="143.4" width="17" height="18.0" fill="#e8e8e8"/>
<rect x="446.6" y="143.4" width="17" height="18.0" fill="#b6b6b6"/>
<rect x="465.6" y="143.4" width="17" height="18.0" fill="#909090"/>
<rect x="484.6" y="143.4" width="17" height="18.0" fill="#b6b6b6"/>
<rect x="503.6" y="143.4" width="17" height="18.0" fill="#dcdcdc"/>
<rect x="340.4" y="168.6" width="193.4" height="20.2" fill="#fdeecb"/>
<rect x="351.6" y="169.7" width="17" height="18.0" fill="#b6b6b6"/>
<rect x="370.6" y="169.7" width="17" height="18.0" fill="#909090"/>
<rect x="389.6" y="169.7" width="17" height="18.0" fill="#d2d2d2"/>
<rect x="408.6" y="169.7" width="17" height="18.0" fill="#000000"/>
<rect x="427.6" y="169.7" width="17" height="18.0" fill="#e8e8e8"/>
<rect x="446.6" y="169.7" width="17" height="18.0" fill="#909090"/>
<rect x="465.6" y="169.7" width="17" height="18.0" fill="#b6b6b6"/>
<rect x="484.6" y="169.7" width="17" height="18.0" fill="#dcdcdc"/>
<rect x="503.6" y="169.7" width="17" height="18.0" fill="#b6b6b6"/>
<rect x="340.4" y="194.6" width="193.4" height="20.2" fill="#f3f3f3"/>
<rect x="351.6" y="195.7" width="17" height="18.0" fill="#e8e8e8"/>
<rect x="370.6" y="195.7" width="17" height="18.0" fill="#b6b6b6"/>
<rect x="389.6" y="195.7" width="17" height="18.0" fill="#909090"/>
<rect x="408.6" y="195.7" width="17" height="18.0" fill="#dcdcdc"/>
<rect x="427.6" y="195.7" width="17" height="18.0" fill="#909090"/>
<rect x="446.6" y="195.7" width="17" height="18.0" fill="#b6b6b6"/>
<rect x="465.6" y="195.7" width="17" height="18.0" fill="#e8e8e8"/>
<rect x="484.6" y="195.7" width="17" height="18.0" fill="#000000"/>
<rect x="503.6" y="195.7" width="17" height="18.0" fill="#909090"/>
<rect x="340.4" y="221.4" width="193.4" height="20.2" fill="#d8def1"/>
<rect x="351.6" y="222.5" width="17" height="18.0" fill="#b6b6b6"/>
<rect x="370.6" y="222.5" width="17" height="18.0" fill="#909090"/>
<rect x="389.6" y="222.5" width="17" height="18.0" fill="#d2d2d2"/>
<rect x="408.6" y="222.5" width="17" height="18.0" fill="#909090"/>
<rect x="427.6" y="222.5" width="17" height="18.0" fill="#000000"/>
<rect x="446.6" y="222.5" width="17" height="18.0" fill="#e8e8e8"/>
<rect x="465.6" y="222.5" width="17" height="18.0" fill="#b6b6b6"/>
<rect x="484.6" y="222.5" width="17" height="18.0" fill="#e8e8e8"/>
<rect x="503.6" y="222.5" width="17" height="18.0" fill="#d2d2d2"/>
<polygon points="350.7,280 427.5,280 388,162.5 371,162.5" fill="#f9e5e3" stroke="#b9b0a8" stroke-opacity="0.35" stroke-width="0.5" style="mix-blend-mode:multiply"/>
<polygon points="388.8,279.6 465.2,279.6 425.4,188.8 408.6,188.8" fill="#fef4de" stroke="#b9b0a8" stroke-opacity="0.35" stroke-width="0.5" style="mix-blend-mode:multiply"/>
<polygon points="446.3,280 522.6,280 482.2,241.4 465.4,241.4" fill="#e6edf9" stroke="#b9b0a8" stroke-opacity="0.35" stroke-width="0.5" style="mix-blend-mode:multiply"/>
<rect x="340.4" y="129.2" width="193.4" height="124.4" fill="none" stroke="#2c5a8c" stroke-width="1.3"/>
<text x="0.0" y="0.0" font-size="10.3" text-anchor="middle" fill="#222" textLength="28.0" lengthAdjust="spacingAndGlyphs" transform="translate(336.5,161) rotate(-90)">Space</text>
<text x="511.3" y="267.0" font-size="10.3" fill="#222" textLength="22.0" lengthAdjust="spacingAndGlyphs">Time</text>
<text x="538.6" y="148.0" font-size="9.3" fill="#c8242f" textLength="32.0" lengthAdjust="spacingAndGlyphs">Kernel 1</text>
<text x="538.6" y="174.3" font-size="9.3" fill="#f4b52e" textLength="33.0" lengthAdjust="spacingAndGlyphs">Kernel 2</text>
<text x="537.8" y="226.0" font-size="9.3" fill="#2c5a8c" textLength="34.0" lengthAdjust="spacingAndGlyphs">Kernel <tspan font-style="italic">N</tspan></text>
<circle cx="566.3" cy="201.8" r="1.1" fill="#111"/>
<circle cx="566.3" cy="206.6" r="1.1" fill="#111"/>
<circle cx="566.3" cy="211.5" r="1.1" fill="#111"/>
<g fill="none" stroke="#2c5a8c" stroke-width="1.45">
<path d="M533.8,152.6H623"/><path d="M533.8,178.8H623"/><path d="M533.8,231.7H623"/>
<path d="M668.6,152.6H743.6V257.5"/>
<path d="M668.6,179.2H740.5V194.5"/>
<path d="M668.6,231.7H740.5V246.8"/>
</g>
<rect x="623" y="142.5" width="45.6" height="22" fill="#fdeee6" stroke="#c8621c" stroke-width="1.5"/>
<text x="645.8" y="156.8" font-size="10.2" text-anchor="middle" fill="#222"><tspan font-style="italic">f</tspan><tspan font-size="6.5" dy="2.2">1</tspan><tspan dy="-2.2">(·)</tspan></text>
<rect x="623" y="168.6" width="45.6" height="22" fill="#fdeee6" stroke="#c8621c" stroke-width="1.5"/>
<text x="645.8" y="182.9" font-size="10.2" text-anchor="middle" fill="#222"><tspan font-style="italic">f</tspan><tspan font-size="6.5" dy="2.2">2</tspan><tspan dy="-2.2">(·)</tspan></text>
<rect x="623" y="221.0" width="45.6" height="22" fill="#fdeee6" stroke="#c8621c" stroke-width="1.5"/>
<text x="645.8" y="235.3" font-size="10.2" text-anchor="middle" fill="#222"><tspan font-style="italic">f</tspan><tspan font-size="6.5" dy="2.2" font-style="italic">N</tspan><tspan dy="-2.2">(·)</tspan></text>
<circle cx="644.6" cy="199.8" r="0.7" fill="#222"/>
<circle cx="644.6" cy="203.8" r="0.7" fill="#222"/>
<circle cx="644.6" cy="207.8" r="0.7" fill="#222"/>
<text x="615.3" y="116.7" font-size="10.3" fill="#222" textLength="80.0" lengthAdjust="spacingAndGlyphs">All-optical NL&amp;TE</text>
<text x="683.3" y="210.5" font-size="10.3" fill="#222" textLength="57.0" lengthAdjust="spacingAndGlyphs">Waveguides</text>
<path d="M407.4,258.8L411.79999999999995,267.6L409.04999999999995,266.40000000000003L409.04999999999995,274.4L405.75,274.4L405.75,266.40000000000003L403.0,267.6Z" fill="#111"/>
<path d="M743.6,275.2L748.0,266.4L745.25,267.59999999999997L745.25,258L741.95,258L741.95,267.59999999999997L739.2,266.4Z" fill="#111"/>
<rect x="352.0" y="281.8" width="16.8" height="17.6" fill="#b6b6b6"/>
<rect x="371.1" y="281.8" width="16.8" height="17.6" fill="#909090"/>
<rect x="390.0" y="281.8" width="16.8" height="17.6" fill="#d2d2d2"/>
<rect x="408.8" y="281.8" width="16.8" height="17.6" fill="#000000"/>
<rect x="428.8" y="281.8" width="16.8" height="17.6" fill="#b6b6b6"/>
<rect x="447.7" y="281.8" width="16.8" height="17.6" fill="#dcdcdc"/>
<rect x="466.6" y="281.8" width="16.8" height="17.6" fill="#b6b6b6"/>
<rect x="485.4" y="281.8" width="16.8" height="17.6" fill="#909090"/>
<rect x="505.2" y="281.8" width="16.8" height="17.6" fill="#d2d2d2"/>
<rect x="524.7" y="281.8" width="16.8" height="17.6" fill="#b6b6b6"/>
<rect x="350.7" y="280.2" width="76.8" height="21" fill="none" stroke="#d8322f" stroke-width="1"/>
<rect x="388.9" y="279.6" width="76.3" height="22.6" fill="none" stroke="#f5bd3a" stroke-width="1"/>
<rect x="446.4" y="280.2" width="76.2" height="21" fill="none" stroke="#79a9dd" stroke-width="1"/>
<text x="330.2" y="291.8" font-size="10.4" font-weight="bold" fill="#000" stroke="#000" stroke-width="0.35">X</text>
<g stroke="#111" stroke-width="1.1" fill="none"><path d="M352.4,273.5V281.5M369.0,273.5V281.5"/><path d="M339.4,277.6H351.9" marker-end="url(#ah)"/><path d="M382.0,277.6H369.5" marker-end="url(#ah)"/></g>
<text x="360.5" y="272.5" font-size="11.5" text-anchor="middle" font-style="italic" fill="#222">τ</text>
<text x="356.6" y="312.4" font-size="10.8" fill="#222"><tspan font-style="italic">x</tspan><tspan font-size="7" dy="3">1</tspan></text>
<text x="374.3" y="312.4" font-size="10.8" fill="#222"><tspan font-style="italic">x</tspan><tspan font-size="7" dy="3">2</tspan></text>
<text x="431.5" y="312.4" font-size="10.8" fill="#222"><tspan font-style="italic">x</tspan><tspan font-size="7" dy="3" font-style="italic">N</tspan></text>
<text x="405.0" y="312.4" font-size="9.5" text-anchor="middle" font-weight="bold" fill="#111">...</text>
<text x="466.0" y="312.4" font-size="9.5" text-anchor="middle" font-weight="bold" fill="#111">...</text>
<rect x="621.9" y="282" width="16.9" height="18" fill="#8c8c8c"/>
<rect x="641.2" y="282" width="16.9" height="18" fill="#d2d2d2"/>
<rect x="660.5" y="282" width="16.9" height="18" fill="#dedede"/>
<rect x="679.5" y="282" width="16.9" height="18" fill="#b4b4b4"/>
<rect x="698.4" y="282" width="16.9" height="18" fill="#8c8c8c"/>
<rect x="717.5" y="282" width="16.9" height="18" fill="#c4c4c4"/>
<rect x="736.4" y="282" width="16.9" height="18" fill="#d4d4d4"/>
<rect x="755.5" y="282" width="16.9" height="18" fill="#000"/>
<text x="606.2" y="294.3" font-size="10.4" font-weight="bold" fill="#000" stroke="#000" stroke-width="0.35">Y</text>
<g stroke="#111" stroke-width="1.1" fill="none"><path d="M622.3,273.8V282M638.6,273.8V282"/><path d="M609.3,278.6H621.8" marker-end="url(#ah)"/><path d="M651.6,278.6H639.1" marker-end="url(#ah)"/></g>
<text x="631.0" y="272.5" font-size="11.5" text-anchor="middle" font-style="italic" fill="#222">τ</text>
<text x="625.8" y="312.0" font-size="10.8" fill="#222"><tspan font-style="italic">y</tspan><tspan font-size="7" dy="3">1</tspan></text>
<text x="646.0" y="312.0" font-size="10.8" fill="#222"><tspan font-style="italic">y</tspan><tspan font-size="7" dy="3">2</tspan></text>
<text x="700.3" y="312.0" font-size="10.8" fill="#222"><tspan font-style="italic">y</tspan><tspan font-size="7" dy="3" font-style="italic">N</tspan></text>
<text x="676.5" y="312.0" font-size="9.5" text-anchor="middle" font-weight="bold" fill="#111">...</text>
<text x="734.0" y="312.0" font-size="9.5" text-anchor="middle" font-weight="bold" fill="#111">...</text>
</g>
<g id="panelC">
<text x="11.8" y="357.6" font-size="15.5" font-weight="bold" fill="#000" stroke="#000" stroke-width="0.45">c</text>
<text x="425.5" y="350.5" font-size="10.3" text-anchor="middle" fill="#222" textLength="39.0" lengthAdjust="spacingAndGlyphs">PIN chip</text>
<g stroke="#999" stroke-width="0.7" stroke-dasharray="3 2.2" fill="none"><path d="M317,322.6L101,356.6"/><path d="M768.5,321.5L752.2,358"/></g>
<path d="M86.0,369.7Q87.5,358.8 98.5,358.8L743.5,358.8Q754.5,358.8 755.9,369.7L786.0,599.6Q787.4,610.5 776.4,610.5L64.6,610.5Q53.6,610.5 55.1,599.6Z" fill="#555" opacity="0.58" filter="url(#sh)" transform="translate(421,360.6) scale(1.004,0.985) translate(-421,-358.8)"/>
<path d="M86.0,369.7Q87.5,358.8 98.5,358.8L743.5,358.8Q754.5,358.8 755.9,369.7L786.0,599.6Q787.4,610.5 776.4,610.5L64.6,610.5Q53.6,610.5 55.1,599.6Z" fill="#fcfcfc" stroke="#e4e4e4" stroke-width="0.8"/>
<polygon points="93.2,389.6 175.8,389.6 155.6,603.5 66.2,603.5" fill="#e9f0f9"/>
<polygon points="180.8,389.6 270.3,389.6 257.9,603.5 161.1,603.5" fill="#fbe2d5"/>
<polygon points="274.4,389.6 582.3,389.6 595.6,603.5 262.4,603.5" fill="#e3d8ea"/>
<polygon points="586.5,389.6 673.2,389.6 694.0,603.5 600.1,603.5" fill="#fbe2d5"/>
<polygon points="676.9,389.6 749.7,389.6 776.7,603.5 698.0,603.5" fill="#edf3fb"/>
<text x="103.0" y="378.9" font-size="10.3" fill="#222" textLength="61.6" lengthAdjust="spacingAndGlyphs">Input coupler</text>
<text x="192.0" y="378.9" font-size="10.3" fill="#222" textLength="67.0" lengthAdjust="spacingAndGlyphs">NL&amp;TE module</text>
<text x="429.5" y="379.5" font-size="12.3" text-anchor="middle" fill="#222" textLength="152.0" lengthAdjust="spacingAndGlyphs">Linear computation module</text>
<text x="595.0" y="379.0" font-size="10.3" fill="#222" textLength="67.0" lengthAdjust="spacingAndGlyphs">NL&amp;TE module</text>
<text x="676.5" y="379.0" font-size="10.3" fill="#222" textLength="70.0" lengthAdjust="spacingAndGlyphs">Output coupler</text>
<g fill="none" stroke-linecap="butt" stroke-linejoin="round">
<g stroke="#162c4d" stroke-width="2.05" transform="translate(0.4,0.5)">
<ellipse cx="196.1" cy="405.8" rx="7.7" ry="8.0"/>
<ellipse cx="215.5" cy="405.8" rx="7.7" ry="8.0"/>
<ellipse cx="234.9" cy="405.8" rx="7.7" ry="8.0"/>
<ellipse cx="254.1" cy="405.8" rx="7.7" ry="8.0"/>
<ellipse cx="601.1" cy="405.8" rx="7.7" ry="8.0"/>
<ellipse cx="620.4" cy="405.8" rx="7.7" ry="8.0"/>
<ellipse cx="639.7" cy="405.8" rx="7.7" ry="8.0"/>
<ellipse cx="659.0" cy="405.8" rx="7.7" ry="8.0"/>
<ellipse cx="193.6" cy="435.6" rx="7.8" ry="8.1"/>
<ellipse cx="213.2" cy="435.6" rx="7.8" ry="8.1"/>
<ellipse cx="232.7" cy="435.6" rx="7.8" ry="8.1"/>
<ellipse cx="252.2" cy="435.6" rx="7.8" ry="8.1"/>
<ellipse cx="603.1" cy="435.6" rx="7.8" ry="8.1"/>
<ellipse cx="622.7" cy="435.6" rx="7.8" ry="8.1"/>
<ellipse cx="642.2" cy="435.6" rx="7.8" ry="8.1"/>
<ellipse cx="661.7" cy="435.6" rx="7.8" ry="8.1"/>
<ellipse cx="191.0" cy="465.7" rx="7.9" ry="8.3"/>
<ellipse cx="210.8" cy="465.7" rx="7.9" ry="8.3"/>
<ellipse cx="230.6" cy="465.7" rx="7.9" ry="8.3"/>
<ellipse cx="250.3" cy="465.7" rx="7.9" ry="8.3"/>
<ellipse cx="605.2" cy="465.7" rx="7.9" ry="8.3"/>
<ellipse cx="625.0" cy="465.7" rx="7.9" ry="8.3"/>
<ellipse cx="644.7" cy="465.7" rx="7.9" ry="8.3"/>
<ellipse cx="664.5" cy="465.7" rx="7.9" ry="8.3"/>
<ellipse cx="180.9" cy="559.4" rx="8.2" ry="8.9"/>
<ellipse cx="201.4" cy="559.4" rx="8.2" ry="8.9"/>
<ellipse cx="221.9" cy="559.4" rx="8.2" ry="8.9"/>
<ellipse cx="242.3" cy="559.4" rx="8.2" ry="8.9"/>
<ellipse cx="611.7" cy="559.4" rx="8.2" ry="8.9"/>
<ellipse cx="632.2" cy="559.4" rx="8.2" ry="8.9"/>
<ellipse cx="652.6" cy="559.4" rx="8.2" ry="8.9"/>
<ellipse cx="673.0" cy="559.4" rx="8.2" ry="8.9"/>
</g>
<g stroke="#4a7fb8" stroke-width="1.95" transform="translate(-0.1,-0.15)">
<ellipse cx="196.1" cy="405.8" rx="7.7" ry="8.0"/>
<ellipse cx="215.5" cy="405.8" rx="7.7" ry="8.0"/>
<ellipse cx="234.9" cy="405.8" rx="7.7" ry="8.0"/>
<ellipse cx="254.1" cy="405.8" rx="7.7" ry="8.0"/>
<ellipse cx="601.1" cy="405.8" rx="7.7" ry="8.0"/>
<ellipse cx="620.4" cy="405.8" rx="7.7" ry="8.0"/>
<ellipse cx="639.7" cy="405.8" rx="7.7" ry="8.0"/>
<ellipse cx="659.0" cy="405.8" rx="7.7" ry="8.0"/>
<ellipse cx="193.6" cy="435.6" rx="7.8" ry="8.1"/>
<ellipse cx="213.2" cy="435.6" rx="7.8" ry="8.1"/>
<ellipse cx="232.7" cy="435.6" rx="7.8" ry="8.1"/>
<ellipse cx="252.2" cy="435.6" rx="7.8" ry="8.1"/>
<ellipse cx="603.1" cy="435.6" rx="7.8" ry="8.1"/>
<ellipse cx="622.7" cy="435.6" rx="7.8" ry="8.1"/>
<ellipse cx="642.2" cy="435.6" rx="7.8" ry="8.1"/>
<ellipse cx="661.7" cy="435.6" rx="7.8" ry="8.1"/>
<ellipse cx="191.0" cy="465.7" rx="7.9" ry="8.3"/>
<ellipse cx="210.8" cy="465.7" rx="7.9" ry="8.3"/>
<ellipse cx="230.6" cy="465.7" rx="7.9" ry="8.3"/>
<ellipse cx="250.3" cy="465.7" rx="7.9" ry="8.3"/>
<ellipse cx="605.2" cy="465.7" rx="7.9" ry="8.3"/>
<ellipse cx="625.0" cy="465.7" rx="7.9" ry="8.3"/>
<ellipse cx="644.7" cy="465.7" rx="7.9" ry="8.3"/>
<ellipse cx="664.5" cy="465.7" rx="7.9" ry="8.3"/>
<ellipse cx="180.9" cy="559.4" rx="8.2" ry="8.9"/>
<ellipse cx="201.4" cy="559.4" rx="8.2" ry="8.9"/>
<ellipse cx="221.9" cy="559.4" rx="8.2" ry="8.9"/>
<ellipse cx="242.3" cy="559.4" rx="8.2" ry="8.9"/>
<ellipse cx="611.7" cy="559.4" rx="8.2" ry="8.9"/>
<ellipse cx="632.2" cy="559.4" rx="8.2" ry="8.9"/>
<ellipse cx="652.6" cy="559.4" rx="8.2" ry="8.9"/>
<ellipse cx="673.0" cy="559.4" rx="8.2" ry="8.9"/>
</g>
<g stroke="#78a6d8" stroke-width="0.7" transform="translate(-0.3,-0.7)">
<ellipse cx="196.1" cy="405.8" rx="7.7" ry="8.0"/>
<ellipse cx="215.5" cy="405.8" rx="7.7" ry="8.0"/>
<ellipse cx="234.9" cy="405.8" rx="7.7" ry="8.0"/>
<ellipse cx="254.1" cy="405.8" rx="7.7" ry="8.0"/>
<ellipse cx="601.1" cy="405.8" rx="7.7" ry="8.0"/>
<ellipse cx="620.4" cy="405.8" rx="7.7" ry="8.0"/>
<ellipse cx="639.7" cy="405.8" rx="7.7" ry="8.0"/>
<ellipse cx="659.0" cy="405.8" rx="7.7" ry="8.0"/>
<ellipse cx="193.6" cy="435.6" rx="7.8" ry="8.1"/>
<ellipse cx="213.2" cy="435.6" rx="7.8" ry="8.1"/>
<ellipse cx="232.7" cy="435.6" rx="7.8" ry="8.1"/>
<ellipse cx="252.2" cy="435.6" rx="7.8" ry="8.1"/>
<ellipse cx="603.1" cy="435.6" rx="7.8" ry="8.1"/>
<ellipse cx="622.7" cy="435.6" rx="7.8" ry="8.1"/>
<ellipse cx="642.2" cy="435.6" rx="7.8" ry="8.1"/>
<ellipse cx="661.7" cy="435.6" rx="7.8" ry="8.1"/>
<ellipse cx="191.0" cy="465.7" rx="7.9" ry="8.3"/>
<ellipse cx="210.8" cy="465.7" rx="7.9" ry="8.3"/>
<ellipse cx="230.6" cy="465.7" rx="7.9" ry="8.3"/>
<ellipse cx="250.3" cy="465.7" rx="7.9" ry="8.3"/>
<ellipse cx="605.2" cy="465.7" rx="7.9" ry="8.3"/>
<ellipse cx="625.0" cy="465.7" rx="7.9" ry="8.3"/>
<ellipse cx="644.7" cy="465.7" rx="7.9" ry="8.3"/>
<ellipse cx="664.5" cy="465.7" rx="7.9" ry="8.3"/>
<ellipse cx="180.9" cy="559.4" rx="8.2" ry="8.9"/>
<ellipse cx="201.4" cy="559.4" rx="8.2" ry="8.9"/>
<ellipse cx="221.9" cy="559.4" rx="8.2" ry="8.9"/>
<ellipse cx="242.3" cy="559.4" rx="8.2" ry="8.9"/>
<ellipse cx="611.7" cy="559.4" rx="8.2" ry="8.9"/>
<ellipse cx="632.2" cy="559.4" rx="8.2" ry="8.9"/>
<ellipse cx="652.6" cy="559.4" rx="8.2" ry="8.9"/>
<ellipse cx="673.0" cy="559.4" rx="8.2" ry="8.9"/>
</g>
<g stroke="#14294a" stroke-width="2.2" transform="translate(0.4,0.5)">
<path d="M177.0,415.6L276.8,415.6L277.5,415.9L278.3,416.7L279.0,418.2L279.7,420.2L280.3,422.7L281.0,425.3L281.7,427.9L282.3,430.5L283.0,433.1L283.6,435.7L284.3,438.3L285.0,440.9L285.7,442.9L286.4,444.4L287.1,445.3L287.9,445.6L292.3,445.6L293.1,445.3L293.9,444.4L294.8,442.9L295.7,440.9L296.6,438.3L297.5,435.7L298.4,433.1L299.4,430.5L300.3,427.9L301.2,425.3L302.1,422.7L303.0,420.2L303.9,418.2L304.7,416.7L305.6,415.9L306.4,415.6L343.3,415.6L344.0,415.9L344.8,416.7L345.6,418.2L346.3,420.2L347.0,422.7L347.7,425.3L348.5,427.9L349.2,430.5L349.9,433.1L350.6,435.7L351.4,438.3L352.1,440.9L352.8,442.9L353.6,444.4L354.4,445.3L355.2,445.6L359.5,445.6L360.3,445.3L361.1,444.4L362.0,442.9L362.8,440.9L363.7,438.3L364.5,435.7L365.4,433.1L366.2,430.5L367.1,427.9L367.9,425.3L368.8,422.7L369.6,420.2L370.4,418.2L371.3,416.7L372.1,415.9L372.9,415.6L409.7,415.6L410.5,415.9L411.3,416.7L412.1,418.2L412.9,420.2L413.7,422.7L414.5,425.3L415.2,427.9L416.0,430.5L416.8,433.1L417.6,435.7L418.4,438.3L419.2,440.9L420.0,442.9L420.8,444.4L421.6,445.3L422.4,445.6L426.7,445.6L427.5,445.3L428.3,444.4L429.1,442.9L429.9,440.9L430.7,438.3L431.5,435.7L432.3,433.1L433.1,430.5L433.9,427.9L434.6,425.3L435.4,422.7L436.2,420.2L437.0,418.2L437.8,416.7L438.6,415.9L439.3,415.6L476.2,415.6L477.0,415.9L477.8,416.7L478.6,418.2L479.5,420.2L480.3,422.7L481.2,425.3L482.0,427.9L482.9,430.5L483.8,433.1L484.6,435.7L485.5,438.3L486.3,440.9L487.2,442.9L488.0,444.4L488.8,445.3L489.7,445.6L494.0,445.6L494.8,445.3L495.6,444.4L496.3,442.9L497.1,440.9L497.8,438.3L498.5,435.7L499.2,433.1L499.9,430.5L500.7,427.9L501.4,425.3L502.1,422.7L502.8,420.2L503.5,418.2L504.3,416.7L505.0,415.9L505.8,415.6L542.7,415.6L543.5,415.9L544.3,416.7L545.2,418.2L546.1,420.2L547.0,422.7L547.9,425.3L548.8,427.9L549.8,430.5L550.7,433.1L551.6,435.7L552.5,438.3L553.5,440.9L554.4,442.9L555.2,444.4L556.1,445.3L556.9,445.6L561.2,445.6L562.0,445.3L562.8,444.4L563.5,442.9L564.2,440.9L564.8,438.3L565.5,435.7L566.1,433.1L566.8,430.5L567.4,427.9L568.1,425.3L568.7,422.7L569.4,420.2L570.1,418.2L570.8,416.7L571.5,415.9L572.3,415.6L684.3,415.6"/>
<path d="M174.3,445.6L275.1,445.6L275.9,445.3L276.8,444.4L277.7,442.9L278.6,440.9L279.5,438.3L280.5,435.7L281.4,433.1L282.3,430.5L283.3,427.9L284.2,425.3L285.1,422.7L286.0,420.2L286.9,418.2L287.8,416.7L288.6,415.9L289.4,415.6L293.7,415.6L294.5,415.9L295.2,416.7L296.0,418.2L296.7,420.2L297.3,422.7L298.0,425.3L298.7,427.9L299.4,430.5L300.0,433.1L300.7,435.7L301.4,438.3L302.1,440.9L302.8,442.9L303.5,444.4L304.3,445.3L305.1,445.6L308.7,445.6L309.5,445.9L310.3,446.7L311.0,448.2L311.8,450.2L312.5,452.8L313.1,455.4L313.8,458.1L314.5,460.7L315.2,463.3L315.9,466.0L316.7,468.6L317.4,471.2L318.1,473.3L318.8,474.8L319.6,475.7L320.4,476.0L324.8,476.0L325.6,475.7L326.5,474.8L327.3,473.3L328.2,471.2L329.1,468.6L330.0,466.0L330.9,463.3L331.8,460.7L332.7,458.1L333.6,455.4L334.5,452.8L335.3,450.2L336.2,448.2L337.1,446.7L337.9,445.9L338.7,445.6L342.4,445.6L343.2,445.3L344.0,444.4L344.8,442.9L345.7,440.9L346.6,438.3L347.4,435.7L348.3,433.1L349.2,430.5L350.0,427.9L350.9,425.3L351.8,422.7L352.6,420.2L353.5,418.2L354.3,416.7L355.1,415.9L355.9,415.6L360.2,415.6L361.0,415.9L361.8,416.7L362.5,418.2L363.3,420.2L364.0,422.7L364.7,425.3L365.5,427.9L366.2,430.5L367.0,433.1L367.7,435.7L368.5,438.3L369.2,440.9L370.0,442.9L370.7,444.4L371.5,445.3L372.3,445.6L376.0,445.6L376.8,445.9L377.6,446.7L378.3,448.2L379.1,450.2L379.9,452.8L380.6,455.4L381.4,458.1L382.2,460.7L382.9,463.3L383.7,466.0L384.5,468.6L385.2,471.2L386.0,473.3L386.8,474.8L387.6,475.7L388.4,476.0L392.8,476.0L393.6,475.7L394.4,474.8L395.3,473.3L396.1,471.2L396.9,468.6L397.8,466.0L398.6,463.3L399.4,460.7L400.2,458.1L401.1,455.4L401.9,452.8L402.7,450.2L403.5,448.2L404.3,446.7L405.1,445.9L405.9,445.6L409.6,445.6L410.4,445.3L411.2,444.4L412.0,442.9L412.8,440.9L413.6,438.3L414.4,435.7L415.2,433.1L416.0,430.5L416.8,427.9L417.6,425.3L418.4,422.7L419.2,420.2L420.0,418.2L420.8,416.7L421.6,415.9L422.4,415.6L426.7,415.6L427.5,415.9L428.3,416.7L429.1,418.2L429.9,420.2L430.7,422.7L431.5,425.3L432.3,427.9L433.1,430.5L433.9,433.1L434.7,435.7L435.5,438.3L436.3,440.9L437.1,442.9L437.9,444.4L438.7,445.3L439.6,445.6L443.2,445.6L444.0,445.9L444.8,446.7L445.7,448.2L446.5,450.2L447.3,452.8L448.1,455.4L449.0,458.1L449.8,460.7L450.6,463.3L451.5,466.0L452.3,468.6L453.1,471.2L454.0,473.3L454.8,474.8L455.6,475.7L456.4,476.0L460.8,476.0L461.6,475.7L462.4,474.8L463.2,473.3L464.0,471.2L464.7,468.6L465.5,466.0L466.3,463.3L467.0,460.7L467.8,458.1L468.5,455.4L469.3,452.8L470.1,450.2L470.8,448.2L471.6,446.7L472.4,445.9L473.2,445.6L476.8,445.6L477.6,445.3L478.4,444.4L479.2,442.9L479.9,440.9L480.7,438.3L481.4,435.7L482.2,433.1L482.9,430.5L483.6,427.9L484.4,425.3L485.1,422.7L485.8,420.2L486.6,418.2L487.3,416.7L488.1,415.9L488.9,415.6L493.2,415.6L494.0,415.9L494.8,416.7L495.6,418.2L496.5,420.2L497.3,422.7L498.2,425.3L499.1,427.9L499.9,430.5L500.8,433.1L501.7,435.7L502.6,438.3L503.4,440.9L504.3,442.9L505.2,444.4L506.0,445.3L506.8,445.6L510.5,445.6L511.3,445.9L512.1,446.7L513.0,448.2L513.8,450.2L514.7,452.8L515.6,455.4L516.5,458.1L517.4,460.7L518.3,463.3L519.2,466.0L520.1,468.6L521.0,471.2L521.9,473.3L522.8,474.8L523.6,475.7L524.4,476.0L528.8,476.0L529.6,475.7L530.4,474.8L531.1,473.3L531.9,471.2L532.6,468.6L533.3,466.0L534.0,463.3L534.7,460.7L535.3,458.1L536.0,455.4L536.7,452.8L537.4,450.2L538.1,448.2L538.9,446.7L539.6,445.9L540.4,445.6L544.1,445.6L544.9,445.3L545.6,444.4L546.4,442.9L547.1,440.9L547.7,438.3L548.4,435.7L549.1,433.1L549.8,430.5L550.4,427.9L551.1,425.3L551.8,422.7L552.4,420.2L553.1,418.2L553.8,416.7L554.6,415.9L555.4,415.6L559.6,415.6L560.4,415.9L561.3,416.7L562.2,418.2L563.1,420.2L564.0,422.7L564.9,425.3L565.9,427.9L566.8,430.5L567.7,433.1L568.7,435.7L569.6,438.3L570.6,440.9L571.5,442.9L572.4,444.4L573.2,445.3L574.0,445.6L687.3,445.6"/>
<path d="M171.4,476.0L307.5,476.0L308.3,475.7L309.1,474.8L310.0,473.3L310.9,471.2L311.8,468.6L312.7,466.0L313.6,463.3L314.5,460.7L315.5,458.1L316.4,455.4L317.3,452.8L318.2,450.2L319.1,448.2L319.9,446.7L320.7,445.9L321.6,445.6L325.9,445.6L326.7,445.9L327.4,446.7L328.2,448.2L328.9,450.2L329.6,452.8L330.4,455.4L331.1,458.1L331.8,460.7L332.5,463.3L333.2,466.0L333.9,468.6L334.7,471.2L335.4,473.3L336.2,474.8L336.9,475.7L337.8,476.0L341.5,476.0L342.3,476.3L343.0,477.2L343.8,478.7L344.6,480.7L345.3,483.3L346.0,486.0L346.8,488.7L347.5,491.4L348.3,494.0L349.0,496.7L349.8,499.4L350.5,502.1L351.3,504.2L352.0,505.7L352.8,506.6L353.7,506.9L358.1,506.9L358.9,506.6L359.8,505.7L360.6,504.2L361.5,502.1L362.3,499.4L363.2,496.7L364.1,494.0L365.0,491.4L365.8,488.7L366.7,486.0L367.6,483.3L368.4,480.7L369.3,478.7L370.1,477.2L370.9,476.3L371.8,476.0L375.5,476.0L376.3,475.7L377.1,474.8L377.9,473.3L378.8,471.2L379.6,468.6L380.5,466.0L381.3,463.3L382.2,460.7L383.0,458.1L383.9,455.4L384.7,452.8L385.5,450.2L386.4,448.2L387.2,446.7L388.0,445.9L388.8,445.6L393.1,445.6L393.9,445.9L394.7,446.7L395.5,448.2L396.3,450.2L397.1,452.8L397.8,455.4L398.6,458.1L399.4,460.7L400.2,463.3L401.0,466.0L401.8,468.6L402.6,471.2L403.3,473.3L404.1,474.8L405.0,475.7L405.8,476.0L409.5,476.0L410.3,476.3L411.1,477.2L411.9,478.7L412.7,480.7L413.5,483.3L414.3,486.0L415.1,488.7L415.9,491.4L416.7,494.0L417.5,496.7L418.4,499.4L419.2,502.1L420.0,504.2L420.8,505.7L421.6,506.6L422.4,506.9L426.9,506.9L427.7,506.6L428.5,505.7L429.3,504.2L430.1,502.1L430.9,499.4L431.8,496.7L432.6,494.0L433.4,491.4L434.2,488.7L435.0,486.0L435.8,483.3L436.6,480.7L437.4,478.7L438.2,477.2L439.0,476.3L439.8,476.0L443.5,476.0L444.3,475.7L445.1,474.8L445.9,473.3L446.7,471.2L447.5,468.6L448.2,466.0L449.0,463.3L449.8,460.7L450.6,458.1L451.3,455.4L452.1,452.8L452.9,450.2L453.7,448.2L454.4,446.7L455.2,445.9L456.0,445.6L460.4,445.6L461.2,445.9L462.0,446.7L462.8,448.2L463.6,450.2L464.5,452.8L465.3,455.4L466.2,458.1L467.0,460.7L467.9,463.3L468.7,466.0L469.6,468.6L470.4,471.2L471.3,473.3L472.1,474.8L473.0,475.7L473.8,476.0L477.5,476.0L478.3,476.3L479.1,477.2L480.0,478.7L480.8,480.7L481.7,483.3L482.6,486.0L483.4,488.7L484.3,491.4L485.2,494.0L486.1,496.7L487.0,499.4L487.8,502.1L488.7,504.2L489.6,505.7L490.4,506.6L491.2,506.9L495.7,506.9L496.5,506.6L497.3,505.7L498.0,504.2L498.8,502.1L499.5,499.4L500.3,496.7L501.0,494.0L501.8,491.4L502.5,488.7L503.2,486.0L504.0,483.3L504.7,480.7L505.4,478.7L506.2,477.2L507.0,476.3L507.8,476.0L511.5,476.0L512.3,475.7L513.1,474.8L513.8,473.3L514.6,471.2L515.3,468.6L516.0,466.0L516.7,463.3L517.4,460.7L518.1,458.1L518.8,455.4L519.5,452.8L520.2,450.2L521.0,448.2L521.7,446.7L522.5,445.9L523.3,445.6L527.6,445.6L528.4,445.9L529.3,446.7L530.1,448.2L531.0,450.2L531.9,452.8L532.8,455.4L533.7,458.1L534.7,460.7L535.6,463.3L536.5,466.0L537.4,468.6L538.3,471.2L539.2,473.3L540.1,474.8L541.0,475.7L541.8,476.0L690.4,476.0"/>
<path d="M269.7,506.9L340.6,506.9L341.4,506.6L342.2,505.7L343.1,504.2L344.0,502.1L344.9,499.4L345.7,496.7L346.6,494.0L347.5,491.4L348.4,488.7L349.3,486.0L350.2,483.3L351.1,480.7L351.9,478.7L352.8,477.2L353.6,476.3L354.4,476.0L358.8,476.0L359.6,476.3L360.4,477.2L361.2,478.7L361.9,480.7L362.7,483.3L363.4,486.0L364.2,488.7L365.0,491.4L365.7,494.0L366.5,496.7L367.2,499.4L368.0,502.1L368.8,504.2L369.6,505.7L370.4,506.6L371.2,506.9L374.9,506.9L375.8,507.2L376.6,508.1L377.4,509.6L378.1,511.7L378.9,514.4L379.7,517.1L380.5,519.9L381.3,522.6L382.1,525.3L382.8,528.1L383.6,530.9L384.4,533.5L385.2,535.7L386.0,537.2L386.8,538.2L387.7,538.5L392.2,538.5L393.0,538.2L393.8,537.2L394.7,535.7L395.5,533.5L396.4,530.9L397.2,528.1L398.1,525.3L398.9,522.6L399.8,519.9L400.6,517.1L401.4,514.4L402.3,511.7L403.1,509.6L403.9,508.1L404.8,507.2L405.6,506.9L409.3,506.9L410.2,506.6L411.0,505.7L411.8,504.2L412.6,502.1L413.5,499.4L414.3,496.7L415.1,494.0L415.9,491.4L416.7,488.7L417.6,486.0L418.4,483.3L419.2,480.7L420.0,478.7L420.8,477.2L421.6,476.3L422.4,476.0L426.8,476.0L427.6,476.3L428.4,477.2L429.2,478.7L430.1,480.7L430.9,483.3L431.7,486.0L432.5,488.7L433.4,491.4L434.2,494.0L435.0,496.7L435.8,499.4L436.7,502.1L437.5,504.2L438.3,505.7L439.2,506.6L440.0,506.9L443.7,506.9L444.6,507.2L445.4,508.1L446.2,509.6L447.1,511.7L447.9,514.4L448.8,517.1L449.6,519.9L450.5,522.6L451.3,525.3L452.2,528.1L453.0,530.9L453.9,533.5L454.7,535.7L455.6,537.2L456.4,538.2L457.3,538.5L461.7,538.5L462.6,538.2L463.4,537.2L464.2,535.7L465.0,533.5L465.8,530.9L466.5,528.1L467.3,525.3L468.1,522.6L468.9,519.9L469.6,517.1L470.4,514.4L471.2,511.7L472.0,509.6L472.8,508.1L473.6,507.2L474.4,506.9L478.1,506.9L478.9,506.6L479.7,505.7L480.5,504.2L481.3,502.1L482.1,499.4L482.8,496.7L483.6,494.0L484.3,491.4L485.1,488.7L485.8,486.0L486.6,483.3L487.3,480.7L488.1,478.7L488.8,477.2L489.6,476.3L490.4,476.0L494.8,476.0L495.6,476.3L496.5,477.2L497.3,478.7L498.2,480.7L499.1,483.3L500.0,486.0L500.9,488.7L501.8,491.4L502.7,494.0L503.5,496.7L504.4,499.4L505.3,502.1L506.2,504.2L507.1,505.7L507.9,506.6L508.8,506.9L582.0,506.9"/>
<path d="M268.0,538.5L374.4,538.5L375.2,538.2L376.1,537.2L376.9,535.7L377.8,533.5L378.7,530.9L379.5,528.1L380.4,525.3L381.3,522.6L382.1,519.9L383.0,517.1L383.9,514.4L384.7,511.7L385.6,509.6L386.4,508.1L387.2,507.2L388.0,506.9L392.5,506.9L393.3,507.2L394.1,508.1L394.9,509.6L395.7,511.7L396.5,514.4L397.3,517.1L398.1,519.9L398.9,522.6L399.7,525.3L400.5,528.1L401.3,530.9L402.1,533.5L402.9,535.7L403.8,537.2L404.6,538.2L405.4,538.5L409.2,538.5L410.0,538.8L410.9,539.7L411.7,541.3L412.5,543.4L413.3,546.1L414.2,548.9L415.0,551.7L415.8,554.4L416.6,557.2L417.5,560.0L418.3,562.8L419.1,565.6L420.0,567.8L420.8,569.3L421.6,570.3L422.5,570.6L427.0,570.6L427.9,570.3L428.7,569.3L429.5,567.8L430.4,565.6L431.2,562.8L432.0,560.0L432.8,557.2L433.6,554.4L434.5,551.7L435.3,548.9L436.1,546.1L436.9,543.4L437.7,541.3L438.6,539.7L439.4,538.8L440.2,538.5L444.0,538.5L444.8,538.2L445.6,537.2L446.5,535.7L447.3,533.5L448.1,530.9L448.9,528.1L449.7,525.3L450.5,522.6L451.3,519.9L452.0,517.1L452.8,514.4L453.6,511.7L454.4,509.6L455.2,508.1L456.0,507.2L456.8,506.9L461.3,506.9L462.1,507.2L462.9,508.1L463.8,509.6L464.6,511.7L465.5,514.4L466.4,517.1L467.2,519.9L468.1,522.6L469.0,525.3L469.8,528.1L470.7,530.9L471.6,533.5L472.5,535.7L473.3,537.2L474.2,538.2L475.0,538.5L584.7,538.5"/>
<path d="M162.7,570.6L409.1,570.6L409.9,570.3L410.7,569.3L411.6,567.8L412.4,565.6L413.3,562.8L414.1,560.0L415.0,557.2L415.8,554.4L416.6,551.7L417.5,548.9L418.3,546.1L419.1,543.4L420.0,541.3L420.8,539.7L421.6,538.8L422.5,538.5L426.9,538.5L427.8,538.8L428.6,539.7L429.4,541.3L430.3,543.4L431.1,546.1L432.0,548.9L432.8,551.7L433.6,554.4L434.5,557.2L435.3,560.0L436.2,562.8L437.0,565.6L437.9,567.8L438.7,569.3L439.6,570.3L440.4,570.6L699.9,570.6"/>
<path d="M126.4,415.6L148.2,415.6"/>
<path d="M146.7,415.6L147.4,415.6L148.1,415.6L148.8,415.5L149.5,415.2L150.3,414.8L151.1,413.9L151.9,412.5L152.8,410.7L153.7,408.9L154.5,407.3L155.3,406.3L156.1,405.7L156.8,405.4L157.5,405.3L158.2,405.3L158.9,405.2L159.6,405.2L160.3,405.2L161.0,405.3L161.7,405.3L162.4,405.5L163.0,406.1L163.6,407.1L164.1,408.7L164.6,410.8L165.1,412.8L165.7,414.2L166.3,415.0L167.0,415.4L167.6,415.5L168.3,415.6L169.0,415.6"/>
<path d="M146.7,415.6L147.4,415.6L148.1,415.6L148.8,415.8L149.4,416.4L150.0,417.4L150.5,419.3L151.0,421.7L151.4,423.8L152.0,425.3L152.6,426.0L153.3,426.3L154.0,426.4L154.7,426.5L155.4,426.5L156.1,426.5L156.8,426.5L157.5,426.5L158.2,426.5L158.9,426.5L159.6,426.4L160.3,426.3L161.0,426.0L161.8,425.3L162.6,423.8L163.6,421.7L164.5,419.3L165.4,417.4L166.2,416.4L166.9,415.8L167.6,415.6L168.3,415.6L169.0,415.6"/>
<path d="M169.0,415.6L177.0,415.6"/>
<path d="M684.3,415.6L685.0,415.6L685.7,415.5L686.3,415.4L687.0,415.0L687.6,414.2L688.1,412.8L688.6,410.8L689.0,408.7L689.5,407.1L690.1,406.1L690.7,405.5L691.4,405.3L692.0,405.3L692.7,405.2L693.4,405.2L694.0,405.2L694.7,405.3L695.4,405.3L696.1,405.4L696.8,405.7L697.5,406.3L698.3,407.3L699.1,408.9L700.0,410.7L700.9,412.5L701.7,413.9L702.5,414.8L703.2,415.2L703.9,415.5L704.6,415.6L705.2,415.6L705.9,415.6"/>
<path d="M684.3,415.6L685.0,415.6L685.7,415.6L686.4,415.8L687.1,416.4L687.9,417.4L688.7,419.3L689.7,421.7L690.6,423.8L691.4,425.3L692.1,426.0L692.9,426.3L693.5,426.4L694.2,426.5L694.9,426.5L695.6,426.5L696.3,426.5L696.9,426.5L697.6,426.5L698.3,426.5L699.0,426.4L699.6,426.3L700.3,426.0L700.9,425.3L701.4,423.8L701.8,421.7L702.3,419.3L702.7,417.4L703.3,416.4L703.9,415.8L704.6,415.6L705.2,415.6L705.9,415.6"/>
<path d="M705.9,415.6L712.7,415.6"/>
<path d="M123.0,445.6L145.1,445.6"/>
<path d="M143.6,445.6L144.3,445.6L145.0,445.5L145.7,445.5L146.4,445.2L147.2,444.7L148.0,443.8L148.8,442.4L149.7,440.6L150.6,438.7L151.5,437.1L152.3,436.1L153.1,435.5L153.8,435.2L154.5,435.0L155.2,435.0L155.9,435.0L156.6,435.0L157.3,435.0L158.0,435.0L158.7,435.1L159.4,435.3L160.1,435.8L160.7,436.9L161.2,438.6L161.7,440.7L162.2,442.7L162.8,444.2L163.4,445.0L164.1,445.4L164.8,445.5L165.5,445.6L166.2,445.6"/>
<path d="M143.6,445.6L144.3,445.6L145.0,445.6L145.7,445.8L146.3,446.4L146.9,447.5L147.4,449.4L147.9,451.8L148.4,454.0L148.9,455.4L149.6,456.2L150.2,456.5L150.9,456.6L151.6,456.6L152.3,456.6L153.1,456.6L153.8,456.6L154.5,456.6L155.2,456.6L155.9,456.6L156.6,456.6L157.3,456.5L158.1,456.2L158.8,455.4L159.7,454.0L160.6,451.8L161.6,449.4L162.5,447.5L163.3,446.4L164.0,445.8L164.7,445.6L165.5,445.6L166.2,445.6"/>
<path d="M166.2,445.6L174.3,445.6"/>
<path d="M687.3,445.6L688.0,445.6L688.7,445.5L689.4,445.4L690.0,445.0L690.6,444.2L691.1,442.7L691.6,440.7L692.1,438.6L692.6,436.9L693.1,435.8L693.8,435.3L694.4,435.1L695.1,435.0L695.8,435.0L696.5,435.0L697.1,435.0L697.8,435.0L698.5,435.0L699.2,435.2L699.9,435.5L700.7,436.1L701.4,437.1L702.3,438.7L703.2,440.6L704.1,442.4L704.9,443.8L705.7,444.7L706.4,445.2L707.1,445.5L707.8,445.5L708.5,445.6L709.2,445.6"/>
<path d="M687.3,445.6L688.0,445.6L688.7,445.6L689.4,445.8L690.1,446.4L690.9,447.5L691.8,449.4L692.7,451.8L693.6,454.0L694.5,455.4L695.2,456.2L696.0,456.5L696.7,456.6L697.3,456.6L698.0,456.6L698.7,456.6L699.4,456.6L700.1,456.6L700.8,456.6L701.5,456.6L702.1,456.6L702.8,456.5L703.5,456.2L704.1,455.4L704.6,454.0L705.1,451.8L705.5,449.4L706.0,447.5L706.5,446.4L707.1,445.8L707.8,445.6L708.5,445.6L709.2,445.6"/>
<path d="M709.2,445.6L716.0,445.6"/>
<path d="M119.6,476.0L141.5,476.0"/>
<path d="M140.0,476.0L140.7,476.0L141.4,476.0L142.2,475.9L142.9,475.6L143.7,475.1L144.5,474.2L145.3,472.8L146.2,470.9L147.2,469.0L148.0,467.4L148.8,466.4L149.6,465.8L150.4,465.4L151.1,465.3L151.8,465.3L152.5,465.3L153.2,465.3L153.9,465.3L154.6,465.3L155.4,465.4L156.0,465.6L156.7,466.1L157.3,467.2L157.9,468.9L158.3,471.1L158.9,473.1L159.4,474.6L160.1,475.4L160.7,475.8L161.4,476.0L162.2,476.0L162.9,476.0"/>
<path d="M140.0,476.0L140.7,476.0L141.4,476.1L142.1,476.3L142.8,476.8L143.4,477.9L143.9,479.8L144.4,482.3L144.9,484.5L145.4,486.0L146.1,486.8L146.7,487.1L147.4,487.2L148.2,487.2L148.9,487.2L149.6,487.2L150.3,487.2L151.0,487.2L151.7,487.2L152.5,487.2L153.2,487.2L153.9,487.1L154.7,486.8L155.5,486.0L156.3,484.5L157.3,482.3L158.2,479.8L159.1,477.9L159.9,476.8L160.7,476.3L161.4,476.1L162.2,476.0L162.9,476.0"/>
<path d="M162.9,476.0L171.4,476.0"/>
<path d="M690.4,476.0L691.1,476.0L691.7,476.0L692.4,475.8L693.1,475.4L693.7,474.6L694.2,473.1L694.7,471.1L695.2,468.9L695.7,467.2L696.3,466.1L696.9,465.6L697.6,465.4L698.2,465.3L698.9,465.3L699.6,465.3L700.3,465.3L701.0,465.3L701.7,465.3L702.4,465.4L703.1,465.8L703.9,466.4L704.7,467.4L705.5,469.0L706.4,470.9L707.3,472.8L708.1,474.2L708.9,475.1L709.7,475.6L710.4,475.9L711.1,476.0L711.8,476.0L712.5,476.0"/>
<path d="M690.4,476.0L691.1,476.0L691.8,476.1L692.5,476.3L693.2,476.8L694.0,477.9L694.9,479.8L695.8,482.3L696.8,484.5L697.6,486.0L698.4,486.8L699.1,487.1L699.8,487.2L700.5,487.2L701.2,487.2L701.9,487.2L702.6,487.2L703.3,487.2L704.0,487.2L704.7,487.2L705.4,487.2L706.0,487.1L706.7,486.8L707.3,486.0L707.9,484.5L708.3,482.3L708.7,479.8L709.2,477.9L709.8,476.8L710.4,476.3L711.1,476.1L711.8,476.0L712.5,476.0"/>
<path d="M712.5,476.0L719.4,476.0"/>
<path d="M107.3,570.6L129.1,570.6"/>
<path d="M127.6,570.6L128.3,570.6L129.0,570.6L129.8,570.5L130.6,570.2L131.3,569.7L132.2,568.7L133.1,567.2L134.0,565.3L135.0,563.2L135.9,561.5L136.7,560.4L137.5,559.8L138.3,559.5L139.1,559.3L139.8,559.3L140.5,559.3L141.3,559.3L142.0,559.3L142.7,559.3L143.5,559.4L144.2,559.6L144.9,560.2L145.5,561.3L146.0,563.1L146.6,565.4L147.1,567.6L147.7,569.1L148.3,570.0L149.0,570.4L149.7,570.6L150.5,570.6L151.2,570.6"/>
<path d="M127.6,570.6L128.3,570.6L129.0,570.7L129.7,570.9L130.4,571.4L131.0,572.6L131.6,574.7L132.0,577.3L132.5,579.6L133.1,581.2L133.8,582.0L134.5,582.4L135.2,582.5L136.0,582.5L136.7,582.5L137.4,582.5L138.2,582.5L138.9,582.5L139.7,582.5L140.4,582.5L141.2,582.5L141.9,582.4L142.7,582.0L143.5,581.2L144.4,579.6L145.4,577.3L146.4,574.7L147.3,572.6L148.2,571.4L149.0,570.9L149.7,570.7L150.5,570.6L151.2,570.6"/>
<path d="M151.2,570.6L162.7,570.6"/>
<path d="M699.9,570.6L700.6,570.6L701.3,570.6L702.0,570.4L702.6,570.0L703.3,569.1L703.8,567.6L704.3,565.4L704.8,563.1L705.3,561.3L705.9,560.2L706.6,559.6L707.3,559.4L708.0,559.3L708.7,559.3L709.4,559.3L710.1,559.3L710.8,559.3L711.5,559.3L712.3,559.5L713.0,559.8L713.8,560.4L714.6,561.5L715.5,563.2L716.4,565.3L717.4,567.2L718.2,568.7L719.1,569.7L719.8,570.2L720.6,570.5L721.3,570.6L722.0,570.6L722.7,570.6"/>
<path d="M699.9,570.6L700.6,570.6L701.3,570.7L702.0,570.9L702.8,571.4L703.6,572.6L704.6,574.7L705.5,577.3L706.5,579.6L707.4,581.2L708.2,582.0L708.9,582.4L709.7,582.5L710.4,582.5L711.1,582.5L711.8,582.5L712.5,582.5L713.2,582.5L714.0,582.5L714.7,582.5L715.4,582.5L716.1,582.4L716.8,582.0L717.4,581.2L718.0,579.6L718.4,577.3L718.9,574.7L719.4,572.6L720.0,571.4L720.6,570.9L721.3,570.7L722.0,570.6L722.7,570.6"/>
<path d="M722.7,570.6L729.9,570.6"/>
<path d="M114.6,506.9L126.7,506.9"/>
<path d="M714.4,506.9L722.9,506.9"/>
<path d="M111.1,538.5L123.2,538.5"/>
<path d="M717.8,538.5L726.4,538.5"/>
</g>
<g stroke="#3c70a6" stroke-width="2.1" transform="translate(-0.1,-0.15)">
<path d="M177.0,415.6L276.8,415.6L277.5,415.9L278.3,416.7L279.0,418.2L279.7,420.2L280.3,422.7L281.0,425.3L281.7,427.9L282.3,430.5L283.0,433.1L283.6,435.7L284.3,438.3L285.0,440.9L285.7,442.9L286.4,444.4L287.1,445.3L287.9,445.6L292.3,445.6L293.1,445.3L293.9,444.4L294.8,442.9L295.7,440.9L296.6,438.3L297.5,435.7L298.4,433.1L299.4,430.5L300.3,427.9L301.2,425.3L302.1,422.7L303.0,420.2L303.9,418.2L304.7,416.7L305.6,415.9L306.4,415.6L343.3,415.6L344.0,415.9L344.8,416.7L345.6,418.2L346.3,420.2L347.0,422.7L347.7,425.3L348.5,427.9L349.2,430.5L349.9,433.1L350.6,435.7L351.4,438.3L352.1,440.9L352.8,442.9L353.6,444.4L354.4,445.3L355.2,445.6L359.5,445.6L360.3,445.3L361.1,444.4L362.0,442.9L362.8,440.9L363.7,438.3L364.5,435.7L365.4,433.1L366.2,430.5L367.1,427.9L367.9,425.3L368.8,422.7L369.6,420.2L370.4,418.2L371.3,416.7L372.1,415.9L372.9,415.6L409.7,415.6L410.5,415.9L411.3,416.7L412.1,418.2L412.9,420.2L413.7,422.7L414.5,425.3L415.2,427.9L416.0,430.5L416.8,433.1L417.6,435.7L418.4,438.3L419.2,440.9L420.0,442.9L420.8,444.4L421.6,445.3L422.4,445.6L426.7,445.6L427.5,445.3L428.3,444.4L429.1,442.9L429.9,440.9L430.7,438.3L431.5,435.7L432.3,433.1L433.1,430.5L433.9,427.9L434.6,425.3L435.4,422.7L436.2,420.2L437.0,418.2L437.8,416.7L438.6,415.9L439.3,415.6L476.2,415.6L477.0,415.9L477.8,416.7L478.6,418.2L479.5,420.2L480.3,422.7L481.2,425.3L482.0,427.9L482.9,430.5L483.8,433.1L484.6,435.7L485.5,438.3L486.3,440.9L487.2,442.9L488.0,444.4L488.8,445.3L489.7,445.6L494.0,445.6L494.8,445.3L495.6,444.4L496.3,442.9L497.1,440.9L497.8,438.3L498.5,435.7L499.2,433.1L499.9,430.5L500.7,427.9L501.4,425.3L502.1,422.7L502.8,420.2L503.5,418.2L504.3,416.7L505.0,415.9L505.8,415.6L542.7,415.6L543.5,415.9L544.3,416.7L545.2,418.2L546.1,420.2L547.0,422.7L547.9,425.3L548.8,427.9L549.8,430.5L550.7,433.1L551.6,435.7L552.5,438.3L553.5,440.9L554.4,442.9L555.2,444.4L556.1,445.3L556.9,445.6L561.2,445.6L562.0,445.3L562.8,444.4L563.5,442.9L564.2,440.9L564.8,438.3L565.5,435.7L566.1,433.1L566.8,430.5L567.4,427.9L568.1,425.3L568.7,422.7L569.4,420.2L570.1,418.2L570.8,416.7L571.5,415.9L572.3,415.6L684.3,415.6"/>
<path d="M174.3,445.6L275.1,445.6L275.9,445.3L276.8,444.4L277.7,442.9L278.6,440.9L279.5,438.3L280.5,435.7L281.4,433.1L282.3,430.5L283.3,427.9L284.2,425.3L285.1,422.7L286.0,420.2L286.9,418.2L287.8,416.7L288.6,415.9L289.4,415.6L293.7,415.6L294.5,415.9L295.2,416.7L296.0,418.2L296.7,420.2L297.3,422.7L298.0,425.3L298.7,427.9L299.4,430.5L300.0,433.1L300.7,435.7L301.4,438.3L302.1,440.9L302.8,442.9L303.5,444.4L304.3,445.3L305.1,445.6L308.7,445.6L309.5,445.9L310.3,446.7L311.0,448.2L311.8,450.2L312.5,452.8L313.1,455.4L313.8,458.1L314.5,460.7L315.2,463.3L315.9,466.0L316.7,468.6L317.4,471.2L318.1,473.3L318.8,474.8L319.6,475.7L320.4,476.0L324.8,476.0L325.6,475.7L326.5,474.8L327.3,473.3L328.2,471.2L329.1,468.6L330.0,466.0L330.9,463.3L331.8,460.7L332.7,458.1L333.6,455.4L334.5,452.8L335.3,450.2L336.2,448.2L337.1,446.7L337.9,445.9L338.7,445.6L342.4,445.6L343.2,445.3L344.0,444.4L344.8,442.9L345.7,440.9L346.6,438.3L347.4,435.7L348.3,433.1L349.2,430.5L350.0,427.9L350.9,425.3L351.8,422.7L352.6,420.2L353.5,418.2L354.3,416.7L355.1,415.9L355.9,415.6L360.2,415.6L361.0,415.9L361.8,416.7L362.5,418.2L363.3,420.2L364.0,422.7L364.7,425.3L365.5,427.9L366.2,430.5L367.0,433.1L367.7,435.7L368.5,438.3L369.2,440.9L370.0,442.9L370.7,444.4L371.5,445.3L372.3,445.6L376.0,445.6L376.8,445.9L377.6,446.7L378.3,448.2L379.1,450.2L379.9,452.8L380.6,455.4L381.4,458.1L382.2,460.7L382.9,463.3L383.7,466.0L384.5,468.6L385.2,471.2L386.0,473.3L386.8,474.8L387.6,475.7L388.4,476.0L392.8,476.0L393.6,475.7L394.4,474.8L395.3,473.3L396.1,471.2L396.9,468.6L397.8,466.0L398.6,463.3L399.4,460.7L400.2,458.1L401.1,455.4L401.9,452.8L402.7,450.2L403.5,448.2L404.3,446.7L405.1,445.9L405.9,445.6L409.6,445.6L410.4,445.3L411.2,444.4L412.0,442.9L412.8,440.9L413.6,438.3L414.4,435.7L415.2,433.1L416.0,430.5L416.8,427.9L417.6,425.3L418.4,422.7L419.2,420.2L420.0,418.2L420.8,416.7L421.6,415.9L422.4,415.6L426.7,415.6L427.5,415.9L428.3,416.7L429.1,418.2L429.9,420.2L430.7,422.7L431.5,425.3L432.3,427.9L433.1,430.5L433.9,433.1L434.7,435.7L435.5,438.3L436.3,440.9L437.1,442.9L437.9,444.4L438.7,445.3L439.6,445.6L443.2,445.6L444.0,445.9L444.8,446.7L445.7,448.2L446.5,450.2L447.3,452.8L448.1,455.4L449.0,458.1L449.8,460.7L450.6,463.3L451.5,466.0L452.3,468.6L453.1,471.2L454.0,473.3L454.8,474.8L455.6,475.7L456.4,476.0L460.8,476.0L461.6,475.7L462.4,474.8L463.2,473.3L464.0,471.2L464.7,468.6L465.5,466.0L466.3,463.3L467.0,460.7L467.8,458.1L468.5,455.4L469.3,452.8L470.1,450.2L470.8,448.2L471.6,446.7L472.4,445.9L473.2,445.6L476.8,445.6L477.6,445.3L478.4,444.4L479.2,442.9L479.9,440.9L480.7,438.3L481.4,435.7L482.2,433.1L482.9,430.5L483.6,427.9L484.4,425.3L485.1,422.7L485.8,420.2L486.6,418.2L487.3,416.7L488.1,415.9L488.9,415.6L493.2,415.6L494.0,415.9L494.8,416.7L495.6,418.2L496.5,420.2L497.3,422.7L498.2,425.3L499.1,427.9L499.9,430.5L500.8,433.1L501.7,435.7L502.6,438.3L503.4,440.9L504.3,442.9L505.2,444.4L506.0,445.3L506.8,445.6L510.5,445.6L511.3,445.9L512.1,446.7L513.0,448.2L513.8,450.2L514.7,452.8L515.6,455.4L516.5,458.1L517.4,460.7L518.3,463.3L519.2,466.0L520.1,468.6L521.0,471.2L521.9,473.3L522.8,474.8L523.6,475.7L524.4,476.0L528.8,476.0L529.6,475.7L530.4,474.8L531.1,473.3L531.9,471.2L532.6,468.6L533.3,466.0L534.0,463.3L534.7,460.7L535.3,458.1L536.0,455.4L536.7,452.8L537.4,450.2L538.1,448.2L538.9,446.7L539.6,445.9L540.4,445.6L544.1,445.6L544.9,445.3L545.6,444.4L546.4,442.9L547.1,440.9L547.7,438.3L548.4,435.7L549.1,433.1L549.8,430.5L550.4,427.9L551.1,425.3L551.8,422.7L552.4,420.2L553.1,418.2L553.8,416.7L554.6,415.9L555.4,415.6L559.6,415.6L560.4,415.9L561.3,416.7L562.2,418.2L563.1,420.2L564.0,422.7L564.9,425.3L565.9,427.9L566.8,430.5L567.7,433.1L568.7,435.7L569.6,438.3L570.6,440.9L571.5,442.9L572.4,444.4L573.2,445.3L574.0,445.6L687.3,445.6"/>
<path d="M171.4,476.0L307.5,476.0L308.3,475.7L309.1,474.8L310.0,473.3L310.9,471.2L311.8,468.6L312.7,466.0L313.6,463.3L314.5,460.7L315.5,458.1L316.4,455.4L317.3,452.8L318.2,450.2L319.1,448.2L319.9,446.7L320.7,445.9L321.6,445.6L325.9,445.6L326.7,445.9L327.4,446.7L328.2,448.2L328.9,450.2L329.6,452.8L330.4,455.4L331.1,458.1L331.8,460.7L332.5,463.3L333.2,466.0L333.9,468.6L334.7,471.2L335.4,473.3L336.2,474.8L336.9,475.7L337.8,476.0L341.5,476.0L342.3,476.3L343.0,477.2L343.8,478.7L344.6,480.7L345.3,483.3L346.0,486.0L346.8,488.7L347.5,491.4L348.3,494.0L349.0,496.7L349.8,499.4L350.5,502.1L351.3,504.2L352.0,505.7L352.8,506.6L353.7,506.9L358.1,506.9L358.9,506.6L359.8,505.7L360.6,504.2L361.5,502.1L362.3,499.4L363.2,496.7L364.1,494.0L365.0,491.4L365.8,488.7L366.7,486.0L367.6,483.3L368.4,480.7L369.3,478.7L370.1,477.2L370.9,476.3L371.8,476.0L375.5,476.0L376.3,475.7L377.1,474.8L377.9,473.3L378.8,471.2L379.6,468.6L380.5,466.0L381.3,463.3L382.2,460.7L383.0,458.1L383.9,455.4L384.7,452.8L385.5,450.2L386.4,448.2L387.2,446.7L388.0,445.9L388.8,445.6L393.1,445.6L393.9,445.9L394.7,446.7L395.5,448.2L396.3,450.2L397.1,452.8L397.8,455.4L398.6,458.1L399.4,460.7L400.2,463.3L401.0,466.0L401.8,468.6L402.6,471.2L403.3,473.3L404.1,474.8L405.0,475.7L405.8,476.0L409.5,476.0L410.3,476.3L411.1,477.2L411.9,478.7L412.7,480.7L413.5,483.3L414.3,486.0L415.1,488.7L415.9,491.4L416.7,494.0L417.5,496.7L418.4,499.4L419.2,502.1L420.0,504.2L420.8,505.7L421.6,506.6L422.4,506.9L426.9,506.9L427.7,506.6L428.5,505.7L429.3,504.2L430.1,502.1L430.9,499.4L431.8,496.7L432.6,494.0L433.4,491.4L434.2,488.7L435.0,486.0L435.8,483.3L436.6,480.7L437.4,478.7L438.2,477.2L439.0,476.3L439.8,476.0L443.5,476.0L444.3,475.7L445.1,474.8L445.9,473.3L446.7,471.2L447.5,468.6L448.2,466.0L449.0,463.3L449.8,460.7L450.6,458.1L451.3,455.4L452.1,452.8L452.9,450.2L453.7,448.2L454.4,446.7L455.2,445.9L456.0,445.6L460.4,445.6L461.2,445.9L462.0,446.7L462.8,448.2L463.6,450.2L464.5,452.8L465.3,455.4L466.2,458.1L467.0,460.7L467.9,463.3L468.7,466.0L469.6,468.6L470.4,471.2L471.3,473.3L472.1,474.8L473.0,475.7L473.8,476.0L477.5,476.0L478.3,476.3L479.1,477.2L480.0,478.7L480.8,480.7L481.7,483.3L482.6,486.0L483.4,488.7L484.3,491.4L485.2,494.0L486.1,496.7L487.0,499.4L487.8,502.1L488.7,504.2L489.6,505.7L490.4,506.6L491.2,506.9L495.7,506.9L496.5,506.6L497.3,505.7L498.0,504.2L498.8,502.1L499.5,499.4L500.3,496.7L501.0,494.0L501.8,491.4L502.5,488.7L503.2,486.0L504.0,483.3L504.7,480.7L505.4,478.7L506.2,477.2L507.0,476.3L507.8,476.0L511.5,476.0L512.3,475.7L513.1,474.8L513.8,473.3L514.6,471.2L515.3,468.6L516.0,466.0L516.7,463.3L517.4,460.7L518.1,458.1L518.8,455.4L519.5,452.8L520.2,450.2L521.0,448.2L521.7,446.7L522.5,445.9L523.3,445.6L527.6,445.6L528.4,445.9L529.3,446.7L530.1,448.2L531.0,450.2L531.9,452.8L532.8,455.4L533.7,458.1L534.7,460.7L535.6,463.3L536.5,466.0L537.4,468.6L538.3,471.2L539.2,473.3L540.1,474.8L541.0,475.7L541.8,476.0L690.4,476.0"/>
<path d="M269.7,506.9L340.6,506.9L341.4,506.6L342.2,505.7L343.1,504.2L344.0,502.1L344.9,499.4L345.7,496.7L346.6,494.0L347.5,491.4L348.4,488.7L349.3,486.0L350.2,483.3L351.1,480.7L351.9,478.7L352.8,477.2L353.6,476.3L354.4,476.0L358.8,476.0L359.6,476.3L360.4,477.2L361.2,478.7L361.9,480.7L362.7,483.3L363.4,486.0L364.2,488.7L365.0,491.4L365.7,494.0L366.5,496.7L367.2,499.4L368.0,502.1L368.8,504.2L369.6,505.7L370.4,506.6L371.2,506.9L374.9,506.9L375.8,507.2L376.6,508.1L377.4,509.6L378.1,511.7L378.9,514.4L379.7,517.1L380.5,519.9L381.3,522.6L382.1,525.3L382.8,528.1L383.6,530.9L384.4,533.5L385.2,535.7L386.0,537.2L386.8,538.2L387.7,538.5L392.2,538.5L393.0,538.2L393.8,537.2L394.7,535.7L395.5,533.5L396.4,530.9L397.2,528.1L398.1,525.3L398.9,522.6L399.8,519.9L400.6,517.1L401.4,514.4L402.3,511.7L403.1,509.6L403.9,508.1L404.8,507.2L405.6,506.9L409.3,506.9L410.2,506.6L411.0,505.7L411.8,504.2L412.6,502.1L413.5,499.4L414.3,496.7L415.1,494.0L415.9,491.4L416.7,488.7L417.6,486.0L418.4,483.3L419.2,480.7L420.0,478.7L420.8,477.2L421.6,476.3L422.4,476.0L426.8,476.0L427.6,476.3L428.4,477.2L429.2,478.7L430.1,480.7L430.9,483.3L431.7,486.0L432.5,488.7L433.4,491.4L434.2,494.0L435.0,496.7L435.8,499.4L436.7,502.1L437.5,504.2L438.3,505.7L439.2,506.6L440.0,506.9L443.7,506.9L444.6,507.2L445.4,508.1L446.2,509.6L447.1,511.7L447.9,514.4L448.8,517.1L449.6,519.9L450.5,522.6L451.3,525.3L452.2,528.1L453.0,530.9L453.9,533.5L454.7,535.7L455.6,537.2L456.4,538.2L457.3,538.5L461.7,538.5L462.6,538.2L463.4,537.2L464.2,535.7L465.0,533.5L465.8,530.9L466.5,528.1L467.3,525.3L468.1,522.6L468.9,519.9L469.6,517.1L470.4,514.4L471.2,511.7L472.0,509.6L472.8,508.1L473.6,507.2L474.4,506.9L478.1,506.9L478.9,506.6L479.7,505.7L480.5,504.2L481.3,502.1L482.1,499.4L482.8,496.7L483.6,494.0L484.3,491.4L485.1,488.7L485.8,486.0L486.6,483.3L487.3,480.7L488.1,478.7L488.8,477.2L489.6,476.3L490.4,476.0L494.8,476.0L495.6,476.3L496.5,477.2L497.3,478.7L498.2,480.7L499.1,483.3L500.0,486.0L500.9,488.7L501.8,491.4L502.7,494.0L503.5,496.7L504.4,499.4L505.3,502.1L506.2,504.2L507.1,505.7L507.9,506.6L508.8,506.9L582.0,506.9"/>
<path d="M268.0,538.5L374.4,538.5L375.2,538.2L376.1,537.2L376.9,535.7L377.8,533.5L378.7,530.9L379.5,528.1L380.4,525.3L381.3,522.6L382.1,519.9L383.0,517.1L383.9,514.4L384.7,511.7L385.6,509.6L386.4,508.1L387.2,507.2L388.0,506.9L392.5,506.9L393.3,507.2L394.1,508.1L394.9,509.6L395.7,511.7L396.5,514.4L397.3,517.1L398.1,519.9L398.9,522.6L399.7,525.3L400.5,528.1L401.3,530.9L402.1,533.5L402.9,535.7L403.8,537.2L404.6,538.2L405.4,538.5L409.2,538.5L410.0,538.8L410.9,539.7L411.7,541.3L412.5,543.4L413.3,546.1L414.2,548.9L415.0,551.7L415.8,554.4L416.6,557.2L417.5,560.0L418.3,562.8L419.1,565.6L420.0,567.8L420.8,569.3L421.6,570.3L422.5,570.6L427.0,570.6L427.9,570.3L428.7,569.3L429.5,567.8L430.4,565.6L431.2,562.8L432.0,560.0L432.8,557.2L433.6,554.4L434.5,551.7L435.3,548.9L436.1,546.1L436.9,543.4L437.7,541.3L438.6,539.7L439.4,538.8L440.2,538.5L444.0,538.5L444.8,538.2L445.6,537.2L446.5,535.7L447.3,533.5L448.1,530.9L448.9,528.1L449.7,525.3L450.5,522.6L451.3,519.9L452.0,517.1L452.8,514.4L453.6,511.7L454.4,509.6L455.2,508.1L456.0,507.2L456.8,506.9L461.3,506.9L462.1,507.2L462.9,508.1L463.8,509.6L464.6,511.7L465.5,514.4L466.4,517.1L467.2,519.9L468.1,522.6L469.0,525.3L469.8,528.1L470.7,530.9L471.6,533.5L472.5,535.7L473.3,537.2L474.2,538.2L475.0,538.5L584.7,538.5"/>
<path d="M162.7,570.6L409.1,570.6L409.9,570.3L410.7,569.3L411.6,567.8L412.4,565.6L413.3,562.8L414.1,560.0L415.0,557.2L415.8,554.4L416.6,551.7L417.5,548.9L418.3,546.1L419.1,543.4L420.0,541.3L420.8,539.7L421.6,538.8L422.5,538.5L426.9,538.5L427.8,538.8L428.6,539.7L429.4,541.3L430.3,543.4L431.1,546.1L432.0,548.9L432.8,551.7L433.6,554.4L434.5,557.2L435.3,560.0L436.2,562.8L437.0,565.6L437.9,567.8L438.7,569.3L439.6,570.3L440.4,570.6L699.9,570.6"/>
<path d="M126.4,415.6L148.2,415.6"/>
<path d="M146.7,415.6L147.4,415.6L148.1,415.6L148.8,415.5L149.5,415.2L150.3,414.8L151.1,413.9L151.9,412.5L152.8,410.7L153.7,408.9L154.5,407.3L155.3,406.3L156.1,405.7L156.8,405.4L157.5,405.3L158.2,405.3L158.9,405.2L159.6,405.2L160.3,405.2L161.0,405.3L161.7,405.3L162.4,405.5L163.0,406.1L163.6,407.1L164.1,408.7L164.6,410.8L165.1,412.8L165.7,414.2L166.3,415.0L167.0,415.4L167.6,415.5L168.3,415.6L169.0,415.6"/>
<path d="M146.7,415.6L147.4,415.6L148.1,415.6L148.8,415.8L149.4,416.4L150.0,417.4L150.5,419.3L151.0,421.7L151.4,423.8L152.0,425.3L152.6,426.0L153.3,426.3L154.0,426.4L154.7,426.5L155.4,426.5L156.1,426.5L156.8,426.5L157.5,426.5L158.2,426.5L158.9,426.5L159.6,426.4L160.3,426.3L161.0,426.0L161.8,425.3L162.6,423.8L163.6,421.7L164.5,419.3L165.4,417.4L166.2,416.4L166.9,415.8L167.6,415.6L168.3,415.6L169.0,415.6"/>
<path d="M169.0,415.6L177.0,415.6"/>
<path d="M684.3,415.6L685.0,415.6L685.7,415.5L686.3,415.4L687.0,415.0L687.6,414.2L688.1,412.8L688.6,410.8L689.0,408.7L689.5,407.1L690.1,406.1L690.7,405.5L691.4,405.3L692.0,405.3L692.7,405.2L693.4,405.2L694.0,405.2L694.7,405.3L695.4,405.3L696.1,405.4L696.8,405.7L697.5,406.3L698.3,407.3L699.1,408.9L700.0,410.7L700.9,412.5L701.7,413.9L702.5,414.8L703.2,415.2L703.9,415.5L704.6,415.6L705.2,415.6L705.9,415.6"/>
<path d="M684.3,415.6L685.0,415.6L685.7,415.6L686.4,415.8L687.1,416.4L687.9,417.4L688.7,419.3L689.7,421.7L690.6,423.8L691.4,425.3L692.1,426.0L692.9,426.3L693.5,426.4L694.2,426.5L694.9,426.5L695.6,426.5L696.3,426.5L696.9,426.5L697.6,426.5L698.3,426.5L699.0,426.4L699.6,426.3L700.3,426.0L700.9,425.3L701.4,423.8L701.8,421.7L702.3,419.3L702.7,417.4L703.3,416.4L703.9,415.8L704.6,415.6L705.2,415.6L705.9,415.6"/>
<path d="M705.9,415.6L712.7,415.6"/>
<path d="M123.0,445.6L145.1,445.6"/>
<path d="M143.6,445.6L144.3,445.6L145.0,445.5L145.7,445.5L146.4,445.2L147.2,444.7L148.0,443.8L148.8,442.4L149.7,440.6L150.6,438.7L151.5,437.1L152.3,436.1L153.1,435.5L153.8,435.2L154.5,435.0L155.2,435.0L155.9,435.0L156.6,435.0L157.3,435.0L158.0,435.0L158.7,435.1L159.4,435.3L160.1,435.8L160.7,436.9L161.2,438.6L161.7,440.7L162.2,442.7L162.8,444.2L163.4,445.0L164.1,445.4L164.8,445.5L165.5,445.6L166.2,445.6"/>
<path d="M143.6,445.6L144.3,445.6L145.0,445.6L145.7,445.8L146.3,446.4L146.9,447.5L147.4,449.4L147.9,451.8L148.4,454.0L148.9,455.4L149.6,456.2L150.2,456.5L150.9,456.6L151.6,456.6L152.3,456.6L153.1,456.6L153.8,456.6L154.5,456.6L155.2,456.6L155.9,456.6L156.6,456.6L157.3,456.5L158.1,456.2L158.8,455.4L159.7,454.0L160.6,451.8L161.6,449.4L162.5,447.5L163.3,446.4L164.0,445.8L164.7,445.6L165.5,445.6L166.2,445.6"/>
<path d="M166.2,445.6L174.3,445.6"/>
<path d="M687.3,445.6L688.0,445.6L688.7,445.5L689.4,445.4L690.0,445.0L690.6,444.2L691.1,442.7L691.6,440.7L692.1,438.6L692.6,436.9L693.1,435.8L693.8,435.3L694.4,435.1L695.1,435.0L695.8,435.0L696.5,435.0L697.1,435.0L697.8,435.0L698.5,435.0L699.2,435.2L699.9,435.5L700.7,436.1L701.4,437.1L702.3,438.7L703.2,440.6L704.1,442.4L704.9,443.8L705.7,444.7L706.4,445.2L707.1,445.5L707.8,445.5L708.5,445.6L709.2,445.6"/>
<path d="M687.3,445.6L688.0,445.6L688.7,445.6L689.4,445.8L690.1,446.4L690.9,447.5L691.8,449.4L692.7,451.8L693.6,454.0L694.5,455.4L695.2,456.2L696.0,456.5L696.7,456.6L697.3,456.6L698.0,456.6L698.7,456.6L699.4,456.6L700.1,456.6L700.8,456.6L701.5,456.6L702.1,456.6L702.8,456.5L703.5,456.2L704.1,455.4L704.6,454.0L705.1,451.8L705.5,449.4L706.0,447.5L706.5,446.4L707.1,445.8L707.8,445.6L708.5,445.6L709.2,445.6"/>
<path d="M709.2,445.6L716.0,445.6"/>
<path d="M119.6,476.0L141.5,476.0"/>
<path d="M140.0,476.0L140.7,476.0L141.4,476.0L142.2,475.9L142.9,475.6L143.7,475.1L144.5,474.2L145.3,472.8L146.2,470.9L147.2,469.0L148.0,467.4L148.8,466.4L149.6,465.8L150.4,465.4L151.1,465.3L151.8,465.3L152.5,465.3L153.2,465.3L153.9,465.3L154.6,465.3L155.4,465.4L156.0,465.6L156.7,466.1L157.3,467.2L157.9,468.9L158.3,471.1L158.9,473.1L159.4,474.6L160.1,475.4L160.7,475.8L161.4,476.0L162.2,476.0L162.9,476.0"/>
<path d="M140.0,476.0L140.7,476.0L141.4,476.1L142.1,476.3L142.8,476.8L143.4,477.9L143.9,479.8L144.4,482.3L144.9,484.5L145.4,486.0L146.1,486.8L146.7,487.1L147.4,487.2L148.2,487.2L148.9,487.2L149.6,487.2L150.3,487.2L151.0,487.2L151.7,487.2L152.5,487.2L153.2,487.2L153.9,487.1L154.7,486.8L155.5,486.0L156.3,484.5L157.3,482.3L158.2,479.8L159.1,477.9L159.9,476.8L160.7,476.3L161.4,476.1L162.2,476.0L162.9,476.0"/>
<path d="M162.9,476.0L171.4,476.0"/>
<path d="M690.4,476.0L691.1,476.0L691.7,476.0L692.4,475.8L693.1,475.4L693.7,474.6L694.2,473.1L694.7,471.1L695.2,468.9L695.7,467.2L696.3,466.1L696.9,465.6L697.6,465.4L698.2,465.3L698.9,465.3L699.6,465.3L700.3,465.3L701.0,465.3L701.7,465.3L702.4,465.4L703.1,465.8L703.9,466.4L704.7,467.4L705.5,469.0L706.4,470.9L707.3,472.8L708.1,474.2L708.9,475.1L709.7,475.6L710.4,475.9L711.1,476.0L711.8,476.0L712.5,476.0"/>
<path d="M690.4,476.0L691.1,476.0L691.8,476.1L692.5,476.3L693.2,476.8L694.0,477.9L694.9,479.8L695.8,482.3L696.8,484.5L697.6,486.0L698.4,486.8L699.1,487.1L699.8,487.2L700.5,487.2L701.2,487.2L701.9,487.2L702.6,487.2L703.3,487.2L704.0,487.2L704.7,487.2L705.4,487.2L706.0,487.1L706.7,486.8L707.3,486.0L707.9,484.5L708.3,482.3L708.7,479.8L709.2,477.9L709.8,476.8L710.4,476.3L711.1,476.1L711.8,476.0L712.5,476.0"/>
<path d="M712.5,476.0L719.4,476.0"/>
<path d="M107.3,570.6L129.1,570.6"/>
<path d="M127.6,570.6L128.3,570.6L129.0,570.6L129.8,570.5L130.6,570.2L131.3,569.7L132.2,568.7L133.1,567.2L134.0,565.3L135.0,563.2L135.9,561.5L136.7,560.4L137.5,559.8L138.3,559.5L139.1,559.3L139.8,559.3L140.5,559.3L141.3,559.3L142.0,559.3L142.7,559.3L143.5,559.4L144.2,559.6L144.9,560.2L145.5,561.3L146.0,563.1L146.6,565.4L147.1,567.6L147.7,569.1L148.3,570.0L149.0,570.4L149.7,570.6L150.5,570.6L151.2,570.6"/>
<path d="M127.6,570.6L128.3,570.6L129.0,570.7L129.7,570.9L130.4,571.4L131.0,572.6L131.6,574.7L132.0,577.3L132.5,579.6L133.1,581.2L133.8,582.0L134.5,582.4L135.2,582.5L136.0,582.5L136.7,582.5L137.4,582.5L138.2,582.5L138.9,582.5L139.7,582.5L140.4,582.5L141.2,582.5L141.9,582.4L142.7,582.0L143.5,581.2L144.4,579.6L145.4,577.3L146.4,574.7L147.3,572.6L148.2,571.4L149.0,570.9L149.7,570.7L150.5,570.6L151.2,570.6"/>
<path d="M151.2,570.6L162.7,570.6"/>
<path d="M699.9,570.6L700.6,570.6L701.3,570.6L702.0,570.4L702.6,570.0L703.3,569.1L703.8,567.6L704.3,565.4L704.8,563.1L705.3,561.3L705.9,560.2L706.6,559.6L707.3,559.4L708.0,559.3L708.7,559.3L709.4,559.3L710.1,559.3L710.8,559.3L711.5,559.3L712.3,559.5L713.0,559.8L713.8,560.4L714.6,561.5L715.5,563.2L716.4,565.3L717.4,567.2L718.2,568.7L719.1,569.7L719.8,570.2L720.6,570.5L721.3,570.6L722.0,570.6L722.7,570.6"/>
<path d="M699.9,570.6L700.6,570.6L701.3,570.7L702.0,570.9L702.8,571.4L703.6,572.6L704.6,574.7L705.5,577.3L706.5,579.6L707.4,581.2L708.2,582.0L708.9,582.4L709.7,582.5L710.4,582.5L711.1,582.5L711.8,582.5L712.5,582.5L713.2,582.5L714.0,582.5L714.7,582.5L715.4,582.5L716.1,582.4L716.8,582.0L717.4,581.2L718.0,579.6L718.4,577.3L718.9,574.7L719.4,572.6L720.0,571.4L720.6,570.9L721.3,570.7L722.0,570.6L722.7,570.6"/>
<path d="M722.7,570.6L729.9,570.6"/>
<path d="M114.6,506.9L126.7,506.9"/>
<path d="M714.4,506.9L722.9,506.9"/>
<path d="M111.1,538.5L123.2,538.5"/>
<path d="M717.8,538.5L726.4,538.5"/>
</g>
<g stroke="#5f92c9" stroke-width="0.6" transform="translate(-0.3,-0.7)">
<path d="M177.0,415.6L276.8,415.6L277.5,415.9L278.3,416.7L279.0,418.2L279.7,420.2L280.3,422.7L281.0,425.3L281.7,427.9L282.3,430.5L283.0,433.1L283.6,435.7L284.3,438.3L285.0,440.9L285.7,442.9L286.4,444.4L287.1,445.3L287.9,445.6L292.3,445.6L293.1,445.3L293.9,444.4L294.8,442.9L295.7,440.9L296.6,438.3L297.5,435.7L298.4,433.1L299.4,430.5L300.3,427.9L301.2,425.3L302.1,422.7L303.0,420.2L303.9,418.2L304.7,416.7L305.6,415.9L306.4,415.6L343.3,415.6L344.0,415.9L344.8,416.7L345.6,418.2L346.3,420.2L347.0,422.7L347.7,425.3L348.5,427.9L349.2,430.5L349.9,433.1L350.6,435.7L351.4,438.3L352.1,440.9L352.8,442.9L353.6,444.4L354.4,445.3L355.2,445.6L359.5,445.6L360.3,445.3L361.1,444.4L362.0,442.9L362.8,440.9L363.7,438.3L364.5,435.7L365.4,433.1L366.2,430.5L367.1,427.9L367.9,425.3L368.8,422.7L369.6,420.2L370.4,418.2L371.3,416.7L372.1,415.9L372.9,415.6L409.7,415.6L410.5,415.9L411.3,416.7L412.1,418.2L412.9,420.2L413.7,422.7L414.5,425.3L415.2,427.9L416.0,430.5L416.8,433.1L417.6,435.7L418.4,438.3L419.2,440.9L420.0,442.9L420.8,444.4L421.6,445.3L422.4,445.6L426.7,445.6L427.5,445.3L428.3,444.4L429.1,442.9L429.9,440.9L430.7,438.3L431.5,435.7L432.3,433.1L433.1,430.5L433.9,427.9L434.6,425.3L435.4,422.7L436.2,420.2L437.0,418.2L437.8,416.7L438.6,415.9L439.3,415.6L476.2,415.6L477.0,415.9L477.8,416.7L478.6,418.2L479.5,420.2L480.3,422.7L481.2,425.3L482.0,427.9L482.9,430.5L483.8,433.1L484.6,435.7L485.5,438.3L486.3,440.9L487.2,442.9L488.0,444.4L488.8,445.3L489.7,445.6L494.0,445.6L494.8,445.3L495.6,444.4L496.3,442.9L497.1,440.9L497.8,438.3L498.5,435.7L499.2,433.1L499.9,430.5L500.7,427.9L501.4,425.3L502.1,422.7L502.8,420.2L503.5,418.2L504.3,416.7L505.0,415.9L505.8,415.6L542.7,415.6L543.5,415.9L544.3,416.7L545.2,418.2L546.1,420.2L547.0,422.7L547.9,425.3L548.8,427.9L549.8,430.5L550.7,433.1L551.6,435.7L552.5,438.3L553.5,440.9L554.4,442.9L555.2,444.4L556.1,445.3L556.9,445.6L561.2,445.6L562.0,445.3L562.8,444.4L563.5,442.9L564.2,440.9L564.8,438.3L565.5,435.7L566.1,433.1L566.8,430.5L567.4,427.9L568.1,425.3L568.7,422.7L569.4,420.2L570.1,418.2L570.8,416.7L571.5,415.9L572.3,415.6L684.3,415.6"/>
<path d="M174.3,445.6L275.1,445.6L275.9,445.3L276.8,444.4L277.7,442.9L278.6,440.9L279.5,438.3L280.5,435.7L281.4,433.1L282.3,430.5L283.3,427.9L284.2,425.3L285.1,422.7L286.0,420.2L286.9,418.2L287.8,416.7L288.6,415.9L289.4,415.6L293.7,415.6L294.5,415.9L295.2,416.7L296.0,418.2L296.7,420.2L297.3,422.7L298.0,425.3L298.7,427.9L299.4,430.5L300.0,433.1L300.7,435.7L301.4,438.3L302.1,440.9L302.8,442.9L303.5,444.4L304.3,445.3L305.1,445.6L308.7,445.6L309.5,445.9L310.3,446.7L311.0,448.2L311.8,450.2L312.5,452.8L313.1,455.4L313.8,458.1L314.5,460.7L315.2,463.3L315.9,466.0L316.7,468.6L317.4,471.2L318.1,473.3L318.8,474.8L319.6,475.7L320.4,476.0L324.8,476.0L325.6,475.7L326.5,474.8L327.3,473.3L328.2,471.2L329.1,468.6L330.0,466.0L330.9,463.3L331.8,460.7L332.7,458.1L333.6,455.4L334.5,452.8L335.3,450.2L336.2,448.2L337.1,446.7L337.9,445.9L338.7,445.6L342.4,445.6L343.2,445.3L344.0,444.4L344.8,442.9L345.7,440.9L346.6,438.3L347.4,435.7L348.3,433.1L349.2,430.5L350.0,427.9L350.9,425.3L351.8,422.7L352.6,420.2L353.5,418.2L354.3,416.7L355.1,415.9L355.9,415.6L360.2,415.6L361.0,415.9L361.8,416.7L362.5,418.2L363.3,420.2L364.0,422.7L364.7,425.3L365.5,427.9L366.2,430.5L367.0,433.1L367.7,435.7L368.5,438.3L369.2,440.9L370.0,442.9L370.7,444.4L371.5,445.3L372.3,445.6L376.0,445.6L376.8,445.9L377.6,446.7L378.3,448.2L379.1,450.2L379.9,452.8L380.6,455.4L381.4,458.1L382.2,460.7L382.9,463.3L383.7,466.0L384.5,468.6L385.2,471.2L386.0,473.3L386.8,474.8L387.6,475.7L388.4,476.0L392.8,476.0L393.6,475.7L394.4,474.8L395.3,473.3L396.1,471.2L396.9,468.6L397.8,466.0L398.6,463.3L399.4,460.7L400.2,458.1L401.1,455.4L401.9,452.8L402.7,450.2L403.5,448.2L404.3,446.7L405.1,445.9L405.9,445.6L409.6,445.6L410.4,445.3L411.2,444.4L412.0,442.9L412.8,440.9L413.6,438.3L414.4,435.7L415.2,433.1L416.0,430.5L416.8,427.9L417.6,425.3L418.4,422.7L419.2,420.2L420.0,418.2L420.8,416.7L421.6,415.9L422.4,415.6L426.7,415.6L427.5,415.9L428.3,416.7L429.1,418.2L429.9,420.2L430.7,422.7L431.5,425.3L432.3,427.9L433.1,430.5L433.9,433.1L434.7,435.7L435.5,438.3L436.3,440.9L437.1,442.9L437.9,444.4L438.7,445.3L439.6,445.6L443.2,445.6L444.0,445.9L444.8,446.7L445.7,448.2L446.5,450.2L447.3,452.8L448.1,455.4L449.0,458.1L449.8,460.7L450.6,463.3L451.5,466.0L452.3,468.6L453.1,471.2L454.0,473.3L454.8,474.8L455.6,475.7L456.4,476.0L460.8,476.0L461.6,475.7L462.4,474.8L463.2,473.3L464.0,471.2L464.7,468.6L465.5,466.0L466.3,463.3L467.0,460.7L467.8,458.1L468.5,455.4L469.3,452.8L470.1,450.2L470.8,448.2L471.6,446.7L472.4,445.9L473.2,445.6L476.8,445.6L477.6,445.3L478.4,444.4L479.2,442.9L479.9,440.9L480.7,438.3L481.4,435.7L482.2,433.1L482.9,430.5L483.6,427.9L484.4,425.3L485.1,422.7L485.8,420.2L486.6,418.2L487.3,416.7L488.1,415.9L488.9,415.6L493.2,415.6L494.0,415.9L494.8,416.7L495.6,418.2L496.5,420.2L497.3,422.7L498.2,425.3L499.1,427.9L499.9,430.5L500.8,433.1L501.7,435.7L502.6,438.3L503.4,440.9L504.3,442.9L505.2,444.4L506.0,445.3L506.8,445.6L510.5,445.6L511.3,445.9L512.1,446.7L513.0,448.2L513.8,450.2L514.7,452.8L515.6,455.4L516.5,458.1L517.4,460.7L518.3,463.3L519.2,466.0L520.1,468.6L521.0,471.2L521.9,473.3L522.8,474.8L523.6,475.7L524.4,476.0L528.8,476.0L529.6,475.7L530.4,474.8L531.1,473.3L531.9,471.2L532.6,468.6L533.3,466.0L534.0,463.3L534.7,460.7L535.3,458.1L536.0,455.4L536.7,452.8L537.4,450.2L538.1,448.2L538.9,446.7L539.6,445.9L540.4,445.6L544.1,445.6L544.9,445.3L545.6,444.4L546.4,442.9L547.1,440.9L547.7,438.3L548.4,435.7L549.1,433.1L549.8,430.5L550.4,427.9L551.1,425.3L551.8,422.7L552.4,420.2L553.1,418.2L553.8,416.7L554.6,415.9L555.4,415.6L559.6,415.6L560.4,415.9L561.3,416.7L562.2,418.2L563.1,420.2L564.0,422.7L564.9,425.3L565.9,427.9L566.8,430.5L567.7,433.1L568.7,435.7L569.6,438.3L570.6,440.9L571.5,442.9L572.4,444.4L573.2,445.3L574.0,445.6L687.3,445.6"/>
<path d="M171.4,476.0L307.5,476.0L308.3,475.7L309.1,474.8L310.0,473.3L310.9,471.2L311.8,468.6L312.7,466.0L313.6,463.3L314.5,460.7L315.5,458.1L316.4,455.4L317.3,452.8L318.2,450.2L319.1,448.2L319.9,446.7L320.7,445.9L321.6,445.6L325.9,445.6L326.7,445.9L327.4,446.7L328.2,448.2L328.9,450.2L329.6,452.8L330.4,455.4L331.1,458.1L331.8,460.7L332.5,463.3L333.2,466.0L333.9,468.6L334.7,471.2L335.4,473.3L336.2,474.8L336.9,475.7L337.8,476.0L341.5,476.0L342.3,476.3L343.0,477.2L343.8,478.7L344.6,480.7L345.3,483.3L346.0,486.0L346.8,488.7L347.5,491.4L348.3,494.0L349.0,496.7L349.8,499.4L350.5,502.1L351.3,504.2L352.0,505.7L352.8,506.6L353.7,506.9L358.1,506.9L358.9,506.6L359.8,505.7L360.6,504.2L361.5,502.1L362.3,499.4L363.2,496.7L364.1,494.0L365.0,491.4L365.8,488.7L366.7,486.0L367.6,483.3L368.4,480.7L369.3,478.7L370.1,477.2L370.9,476.3L371.8,476.0L375.5,476.0L376.3,475.7L377.1,474.8L377.9,473.3L378.8,471.2L379.6,468.6L380.5,466.0L381.3,463.3L382.2,460.7L383.0,458.1L383.9,455.4L384.7,452.8L385.5,450.2L386.4,448.2L387.2,446.7L388.0,445.9L388.8,445.6L393.1,445.6L393.9,445.9L394.7,446.7L395.5,448.2L396.3,450.2L397.1,452.8L397.8,455.4L398.6,458.1L399.4,460.7L400.2,463.3L401.0,466.0L401.8,468.6L402.6,471.2L403.3,473.3L404.1,474.8L405.0,475.7L405.8,476.0L409.5,476.0L410.3,476.3L411.1,477.2L411.9,478.7L412.7,480.7L413.5,483.3L414.3,486.0L415.1,488.7L415.9,491.4L416.7,494.0L417.5,496.7L418.4,499.4L419.2,502.1L420.0,504.2L420.8,505.7L421.6,506.6L422.4,506.9L426.9,506.9L427.7,506.6L428.5,505.7L429.3,504.2L430.1,502.1L430.9,499.4L431.8,496.7L432.6,494.0L433.4,491.4L434.2,488.7L435.0,486.0L435.8,483.3L436.6,480.7L437.4,478.7L438.2,477.2L439.0,476.3L439.8,476.0L443.5,476.0L444.3,475.7L445.1,474.8L445.9,473.3L446.7,471.2L447.5,468.6L448.2,466.0L449.0,463.3L449.8,460.7L450.6,458.1L451.3,455.4L452.1,452.8L452.9,450.2L453.7,448.2L454.4,446.7L455.2,445.9L456.0,445.6L460.4,445.6L461.2,445.9L462.0,446.7L462.8,448.2L463.6,450.2L464.5,452.8L465.3,455.4L466.2,458.1L467.0,460.7L467.9,463.3L468.7,466.0L469.6,468.6L470.4,471.2L471.3,473.3L472.1,474.8L473.0,475.7L473.8,476.0L477.5,476.0L478.3,476.3L479.1,477.2L480.0,478.7L480.8,480.7L481.7,483.3L482.6,486.0L483.4,488.7L484.3,491.4L485.2,494.0L486.1,496.7L487.0,499.4L487.8,502.1L488.7,504.2L489.6,505.7L490.4,506.6L491.2,506.9L495.7,506.9L496.5,506.6L497.3,505.7L498.0,504.2L498.8,502.1L499.5,499.4L500.3,496.7L501.0,494.0L501.8,491.4L502.5,488.7L503.2,486.0L504.0,483.3L504.7,480.7L505.4,478.7L506.2,477.2L507.0,476.3L507.8,476.0L511.5,476.0L512.3,475.7L513.1,474.8L513.8,473.3L514.6,471.2L515.3,468.6L516.0,466.0L516.7,463.3L517.4,460.7L518.1,458.1L518.8,455.4L519.5,452.8L520.2,450.2L521.0,448.2L521.7,446.7L522.5,445.9L523.3,445.6L527.6,445.6L528.4,445.9L529.3,446.7L530.1,448.2L531.0,450.2L531.9,452.8L532.8,455.4L533.7,458.1L534.7,460.7L535.6,463.3L536.5,466.0L537.4,468.6L538.3,471.2L539.2,473.3L540.1,474.8L541.0,475.7L541.8,476.0L690.4,476.0"/>
<path d="M269.7,506.9L340.6,506.9L341.4,506.6L342.2,505.7L343.1,504.2L344.0,502.1L344.9,499.4L345.7,496.7L346.6,494.0L347.5,491.4L348.4,488.7L349.3,486.0L350.2,483.3L351.1,480.7L351.9,478.7L352.8,477.2L353.6,476.3L354.4,476.0L358.8,476.0L359.6,476.3L360.4,477.2L361.2,478.7L361.9,480.7L362.7,483.3L363.4,486.0L364.2,488.7L365.0,491.4L365.7,494.0L366.5,496.7L367.2,499.4L368.0,502.1L368.8,504.2L369.6,505.7L370.4,506.6L371.2,506.9L374.9,506.9L375.8,507.2L376.6,508.1L377.4,509.6L378.1,511.7L378.9,514.4L379.7,517.1L380.5,519.9L381.3,522.6L382.1,525.3L382.8,528.1L383.6,530.9L384.4,533.5L385.2,535.7L386.0,537.2L386.8,538.2L387.7,538.5L392.2,538.5L393.0,538.2L393.8,537.2L394.7,535.7L395.5,533.5L396.4,530.9L397.2,528.1L398.1,525.3L398.9,522.6L399.8,519.9L400.6,517.1L401.4,514.4L402.3,511.7L403.1,509.6L403.9,508.1L404.8,507.2L405.6,506.9L409.3,506.9L410.2,506.6L411.0,505.7L411.8,504.2L412.6,502.1L413.5,499.4L414.3,496.7L415.1,494.0L415.9,491.4L416.7,488.7L417.6,486.0L418.4,483.3L419.2,480.7L420.0,478.7L420.8,477.2L421.6,476.3L422.4,476.0L426.8,476.0L427.6,476.3L428.4,477.2L429.2,478.7L430.1,480.7L430.9,483.3L431.7,486.0L432.5,488.7L433.4,491.4L434.2,494.0L435.0,496.7L435.8,499.4L436.7,502.1L437.5,504.2L438.3,505.7L439.2,506.6L440.0,506.9L443.7,506.9L444.6,507.2L445.4,508.1L446.2,509.6L447.1,511.7L447.9,514.4L448.8,517.1L449.6,519.9L450.5,522.6L451.3,525.3L452.2,528.1L453.0,530.9L453.9,533.5L454.7,535.7L455.6,537.2L456.4,538.2L457.3,538.5L461.7,538.5L462.6,538.2L463.4,537.2L464.2,535.7L465.0,533.5L465.8,530.9L466.5,528.1L467.3,525.3L468.1,522.6L468.9,519.9L469.6,517.1L470.4,514.4L471.2,511.7L472.0,509.6L472.8,508.1L473.6,507.2L474.4,506.9L478.1,506.9L478.9,506.6L479.7,505.7L480.5,504.2L481.3,502.1L482.1,499.4L482.8,496.7L483.6,494.0L484.3,491.4L485.1,488.7L485.8,486.0L486.6,483.3L487.3,480.7L488.1,478.7L488.8,477.2L489.6,476.3L490.4,476.0L494.8,476.0L495.6,476.3L496.5,477.2L497.3,478.7L498.2,480.7L499.1,483.3L500.0,486.0L500.9,488.7L501.8,491.4L502.7,494.0L503.5,496.7L504.4,499.4L505.3,502.1L506.2,504.2L507.1,505.7L507.9,506.6L508.8,506.9L582.0,506.9"/>
<path d="M268.0,538.5L374.4,538.5L375.2,538.2L376.1,537.2L376.9,535.7L377.8,533.5L378.7,530.9L379.5,528.1L380.4,525.3L381.3,522.6L382.1,519.9L383.0,517.1L383.9,514.4L384.7,511.7L385.6,509.6L386.4,508.1L387.2,507.2L388.0,506.9L392.5,506.9L393.3,507.2L394.1,508.1L394.9,509.6L395.7,511.7L396.5,514.4L397.3,517.1L398.1,519.9L398.9,522.6L399.7,525.3L400.5,528.1L401.3,530.9L402.1,533.5L402.9,535.7L403.8,537.2L404.6,538.2L405.4,538.5L409.2,538.5L410.0,538.8L410.9,539.7L411.7,541.3L412.5,543.4L413.3,546.1L414.2,548.9L415.0,551.7L415.8,554.4L416.6,557.2L417.5,560.0L418.3,562.8L419.1,565.6L420.0,567.8L420.8,569.3L421.6,570.3L422.5,570.6L427.0,570.6L427.9,570.3L428.7,569.3L429.5,567.8L430.4,565.6L431.2,562.8L432.0,560.0L432.8,557.2L433.6,554.4L434.5,551.7L435.3,548.9L436.1,546.1L436.9,543.4L437.7,541.3L438.6,539.7L439.4,538.8L440.2,538.5L444.0,538.5L444.8,538.2L445.6,537.2L446.5,535.7L447.3,533.5L448.1,530.9L448.9,528.1L449.7,525.3L450.5,522.6L451.3,519.9L452.0,517.1L452.8,514.4L453.6,511.7L454.4,509.6L455.2,508.1L456.0,507.2L456.8,506.9L461.3,506.9L462.1,507.2L462.9,508.1L463.8,509.6L464.6,511.7L465.5,514.4L466.4,517.1L467.2,519.9L468.1,522.6L469.0,525.3L469.8,528.1L470.7,530.9L471.6,533.5L472.5,535.7L473.3,537.2L474.2,538.2L475.0,538.5L584.7,538.5"/>
<path d="M162.7,570.6L409.1,570.6L409.9,570.3L410.7,569.3L411.6,567.8L412.4,565.6L413.3,562.8L414.1,560.0L415.0,557.2L415.8,554.4L416.6,551.7L417.5,548.9L418.3,546.1L419.1,543.4L420.0,541.3L420.8,539.7L421.6,538.8L422.5,538.5L426.9,538.5L427.8,538.8L428.6,539.7L429.4,541.3L430.3,543.4L431.1,546.1L432.0,548.9L432.8,551.7L433.6,554.4L434.5,557.2L435.3,560.0L436.2,562.8L437.0,565.6L437.9,567.8L438.7,569.3L439.6,570.3L440.4,570.6L699.9,570.6"/>
<path d="M126.4,415.6L148.2,415.6"/>
<path d="M146.7,415.6L147.4,415.6L148.1,415.6L148.8,415.5L149.5,415.2L150.3,414.8L151.1,413.9L151.9,412.5L152.8,410.7L153.7,408.9L154.5,407.3L155.3,406.3L156.1,405.7L156.8,405.4L157.5,405.3L158.2,405.3L158.9,405.2L159.6,405.2L160.3,405.2L161.0,405.3L161.7,405.3L162.4,405.5L163.0,406.1L163.6,407.1L164.1,408.7L164.6,410.8L165.1,412.8L165.7,414.2L166.3,415.0L167.0,415.4L167.6,415.5L168.3,415.6L169.0,415.6"/>
<path d="M146.7,415.6L147.4,415.6L148.1,415.6L148.8,415.8L149.4,416.4L150.0,417.4L150.5,419.3L151.0,421.7L151.4,423.8L152.0,425.3L152.6,426.0L153.3,426.3L154.0,426.4L154.7,426.5L155.4,426.5L156.1,426.5L156.8,426.5L157.5,426.5L158.2,426.5L158.9,426.5L159.6,426.4L160.3,426.3L161.0,426.0L161.8,425.3L162.6,423.8L163.6,421.7L164.5,419.3L165.4,417.4L166.2,416.4L166.9,415.8L167.6,415.6L168.3,415.6L169.0,415.6"/>
<path d="M169.0,415.6L177.0,415.6"/>
<path d="M684.3,415.6L685.0,415.6L685.7,415.5L686.3,415.4L687.0,415.0L687.6,414.2L688.1,412.8L688.6,410.8L689.0,408.7L689.5,407.1L690.1,406.1L690.7,405.5L691.4,405.3L692.0,405.3L692.7,405.2L693.4,405.2L694.0,405.2L694.7,405.3L695.4,405.3L696.1,405.4L696.8,405.7L697.5,406.3L698.3,407.3L699.1,408.9L700.0,410.7L700.9,412.5L701.7,413.9L702.5,414.8L703.2,415.2L703.9,415.5L704.6,415.6L705.2,415.6L705.9,415.6"/>
<path d="M684.3,415.6L685.0,415.6L685.7,415.6L686.4,415.8L687.1,416.4L687.9,417.4L688.7,419.3L689.7,421.7L690.6,423.8L691.4,425.3L692.1,426.0L692.9,426.3L693.5,426.4L694.2,426.5L694.9,426.5L695.6,426.5L696.3,426.5L696.9,426.5L697.6,426.5L698.3,426.5L699.0,426.4L699.6,426.3L700.3,426.0L700.9,425.3L701.4,423.8L701.8,421.7L702.3,419.3L702.7,417.4L703.3,416.4L703.9,415.8L704.6,415.6L705.2,415.6L705.9,415.6"/>
<path d="M705.9,415.6L712.7,415.6"/>
<path d="M123.0,445.6L145.1,445.6"/>
<path d="M143.6,445.6L144.3,445.6L145.0,445.5L145.7,445.5L146.4,445.2L147.2,444.7L148.0,443.8L148.8,442.4L149.7,440.6L150.6,438.7L151.5,437.1L152.3,436.1L153.1,435.5L153.8,435.2L154.5,435.0L155.2,435.0L155.9,435.0L156.6,435.0L157.3,435.0L158.0,435.0L158.7,435.1L159.4,435.3L160.1,435.8L160.7,436.9L161.2,438.6L161.7,440.7L162.2,442.7L162.8,444.2L163.4,445.0L164.1,445.4L164.8,445.5L165.5,445.6L166.2,445.6"/>
<path d="M143.6,445.6L144.3,445.6L145.0,445.6L145.7,445.8L146.3,446.4L146.9,447.5L147.4,449.4L147.9,451.8L148.4,454.0L148.9,455.4L149.6,456.2L150.2,456.5L150.9,456.6L151.6,456.6L152.3,456.6L153.1,456.6L153.8,456.6L154.5,456.6L155.2,456.6L155.9,456.6L156.6,456.6L157.3,456.5L158.1,456.2L158.8,455.4L159.7,454.0L160.6,451.8L161.6,449.4L162.5,447.5L163.3,446.4L164.0,445.8L164.7,445.6L165.5,445.6L166.2,445.6"/>
<path d="M166.2,445.6L174.3,445.6"/>
<path d="M687.3,445.6L688.0,445.6L688.7,445.5L689.4,445.4L690.0,445.0L690.6,444.2L691.1,442.7L691.6,440.7L692.1,438.6L692.6,436.9L693.1,435.8L693.8,435.3L694.4,435.1L695.1,435.0L695.8,435.0L696.5,435.0L697.1,435.0L697.8,435.0L698.5,435.0L699.2,435.2L699.9,435.5L700.7,436.1L701.4,437.1L702.3,438.7L703.2,440.6L704.1,442.4L704.9,443.8L705.7,444.7L706.4,445.2L707.1,445.5L707.8,445.5L708.5,445.6L709.2,445.6"/>
<path d="M687.3,445.6L688.0,445.6L688.7,445.6L689.4,445.8L690.1,446.4L690.9,447.5L691.8,449.4L692.7,451.8L693.6,454.0L694.5,455.4L695.2,456.2L696.0,456.5L696.7,456.6L697.3,456.6L698.0,456.6L698.7,456.6L699.4,456.6L700.1,456.6L700.8,456.6L701.5,456.6L702.1,456.6L702.8,456.5L703.5,456.2L704.1,455.4L704.6,454.0L705.1,451.8L705.5,449.4L706.0,447.5L706.5,446.4L707.1,445.8L707.8,445.6L708.5,445.6L709.2,445.6"/>
<path d="M709.2,445.6L716.0,445.6"/>
<path d="M119.6,476.0L141.5,476.0"/>
<path d="M140.0,476.0L140.7,476.0L141.4,476.0L142.2,475.9L142.9,475.6L143.7,475.1L144.5,474.2L145.3,472.8L146.2,470.9L147.2,469.0L148.0,467.4L148.8,466.4L149.6,465.8L150.4,465.4L151.1,465.3L151.8,465.3L152.5,465.3L153.2,465.3L153.9,465.3L154.6,465.3L155.4,465.4L156.0,465.6L156.7,466.1L157.3,467.2L157.9,468.9L158.3,471.1L158.9,473.1L159.4,474.6L160.1,475.4L160.7,475.8L161.4,476.0L162.2,476.0L162.9,476.0"/>
<path d="M140.0,476.0L140.7,476.0L141.4,476.1L142.1,476.3L142.8,476.8L143.4,477.9L143.9,479.8L144.4,482.3L144.9,484.5L145.4,486.0L146.1,486.8L146.7,487.1L147.4,487.2L148.2,487.2L148.9,487.2L149.6,487.2L150.3,487.2L151.0,487.2L151.7,487.2L152.5,487.2L153.2,487.2L153.9,487.1L154.7,486.8L155.5,486.0L156.3,484.5L157.3,482.3L158.2,479.8L159.1,477.9L159.9,476.8L160.7,476.3L161.4,476.1L162.2,476.0L162.9,476.0"/>
<path d="M162.9,476.0L171.4,476.0"/>
<path d="M690.4,476.0L691.1,476.0L691.7,476.0L692.4,475.8L693.1,475.4L693.7,474.6L694.2,473.1L694.7,471.1L695.2,468.9L695.7,467.2L696.3,466.1L696.9,465.6L697.6,465.4L698.2,465.3L698.9,465.3L699.6,465.3L700.3,465.3L701.0,465.3L701.7,465.3L702.4,465.4L703.1,465.8L703.9,466.4L704.7,467.4L705.5,469.0L706.4,470.9L707.3,472.8L708.1,474.2L708.9,475.1L709.7,475.6L710.4,475.9L711.1,476.0L711.8,476.0L712.5,476.0"/>
<path d="M690.4,476.0L691.1,476.0L691.8,476.1L692.5,476.3L693.2,476.8L694.0,477.9L694.9,479.8L695.8,482.3L696.8,484.5L697.6,486.0L698.4,486.8L699.1,487.1L699.8,487.2L700.5,487.2L701.2,487.2L701.9,487.2L702.6,487.2L703.3,487.2L704.0,487.2L704.7,487.2L705.4,487.2L706.0,487.1L706.7,486.8L707.3,486.0L707.9,484.5L708.3,482.3L708.7,479.8L709.2,477.9L709.8,476.8L710.4,476.3L711.1,476.1L711.8,476.0L712.5,476.0"/>
<path d="M712.5,476.0L719.4,476.0"/>
<path d="M107.3,570.6L129.1,570.6"/>
<path d="M127.6,570.6L128.3,570.6L129.0,570.6L129.8,570.5L130.6,570.2L131.3,569.7L132.2,568.7L133.1,567.2L134.0,565.3L135.0,563.2L135.9,561.5L136.7,560.4L137.5,559.8L138.3,559.5L139.1,559.3L139.8,559.3L140.5,559.3L141.3,559.3L142.0,559.3L142.7,559.3L143.5,559.4L144.2,559.6L144.9,560.2L145.5,561.3L146.0,563.1L146.6,565.4L147.1,567.6L147.7,569.1L148.3,570.0L149.0,570.4L149.7,570.6L150.5,570.6L151.2,570.6"/>
<path d="M127.6,570.6L128.3,570.6L129.0,570.7L129.7,570.9L130.4,571.4L131.0,572.6L131.6,574.7L132.0,577.3L132.5,579.6L133.1,581.2L133.8,582.0L134.5,582.4L135.2,582.5L136.0,582.5L136.7,582.5L137.4,582.5L138.2,582.5L138.9,582.5L139.7,582.5L140.4,582.5L141.2,582.5L141.9,582.4L142.7,582.0L143.5,581.2L144.4,579.6L145.4,577.3L146.4,574.7L147.3,572.6L148.2,571.4L149.0,570.9L149.7,570.7L150.5,570.6L151.2,570.6"/>
<path d="M151.2,570.6L162.7,570.6"/>
<path d="M699.9,570.6L700.6,570.6L701.3,570.6L702.0,570.4L702.6,570.0L703.3,569.1L703.8,567.6L704.3,565.4L704.8,563.1L705.3,561.3L705.9,560.2L706.6,559.6L707.3,559.4L708.0,559.3L708.7,559.3L709.4,559.3L710.1,559.3L710.8,559.3L711.5,559.3L712.3,559.5L713.0,559.8L713.8,560.4L714.6,561.5L715.5,563.2L716.4,565.3L717.4,567.2L718.2,568.7L719.1,569.7L719.8,570.2L720.6,570.5L721.3,570.6L722.0,570.6L722.7,570.6"/>
<path d="M699.9,570.6L700.6,570.6L701.3,570.7L702.0,570.9L702.8,571.4L703.6,572.6L704.6,574.7L705.5,577.3L706.5,579.6L707.4,581.2L708.2,582.0L708.9,582.4L709.7,582.5L710.4,582.5L711.1,582.5L711.8,582.5L712.5,582.5L713.2,582.5L714.0,582.5L714.7,582.5L715.4,582.5L716.1,582.4L716.8,582.0L717.4,581.2L718.0,579.6L718.4,577.3L718.9,574.7L719.4,572.6L720.0,571.4L720.6,570.9L721.3,570.7L722.0,570.6L722.7,570.6"/>
<path d="M722.7,570.6L729.9,570.6"/>
<path d="M114.6,506.9L126.7,506.9"/>
<path d="M714.4,506.9L722.9,506.9"/>
<path d="M111.1,538.5L123.2,538.5"/>
<path d="M717.8,538.5L726.4,538.5"/>
</g>
</g>
<rect x="306.1" y="413.7" width="3.8" height="3.8" fill="#fbe013" stroke="#d9b60a" stroke-width="0.4"/>
<rect x="372.5" y="413.7" width="3.8" height="3.8" fill="#fbe013" stroke="#d9b60a" stroke-width="0.4"/>
<rect x="439.0" y="413.7" width="3.8" height="3.8" fill="#fbe013" stroke="#d9b60a" stroke-width="0.4"/>
<rect x="505.5" y="413.7" width="3.8" height="3.8" fill="#fbe013" stroke="#d9b60a" stroke-width="0.4"/>
<rect x="572.0" y="413.7" width="3.8" height="3.8" fill="#fbe013" stroke="#d9b60a" stroke-width="0.4"/>
<rect x="290.2" y="413.7" width="3.8" height="3.8" fill="#fbe013" stroke="#d9b60a" stroke-width="0.4"/>
<rect x="338.4" y="443.6" width="3.9" height="3.9" fill="#fbe013" stroke="#d9b60a" stroke-width="0.4"/>
<rect x="356.7" y="413.7" width="3.8" height="3.8" fill="#fbe013" stroke="#d9b60a" stroke-width="0.4"/>
<rect x="405.6" y="443.6" width="3.9" height="3.9" fill="#fbe013" stroke="#d9b60a" stroke-width="0.4"/>
<rect x="423.2" y="413.7" width="3.8" height="3.8" fill="#fbe013" stroke="#d9b60a" stroke-width="0.4"/>
<rect x="472.8" y="443.6" width="3.9" height="3.9" fill="#fbe013" stroke="#d9b60a" stroke-width="0.4"/>
<rect x="489.7" y="413.7" width="3.8" height="3.8" fill="#fbe013" stroke="#d9b60a" stroke-width="0.4"/>
<rect x="540.1" y="443.6" width="3.9" height="3.9" fill="#fbe013" stroke="#d9b60a" stroke-width="0.4"/>
<rect x="556.1" y="413.7" width="3.8" height="3.8" fill="#fbe013" stroke="#d9b60a" stroke-width="0.4"/>
<rect x="322.4" y="443.6" width="3.9" height="3.9" fill="#fbe013" stroke="#d9b60a" stroke-width="0.4"/>
<rect x="371.4" y="474.0" width="3.9" height="3.9" fill="#fbe013" stroke="#d9b60a" stroke-width="0.4"/>
<rect x="389.6" y="443.6" width="3.9" height="3.9" fill="#fbe013" stroke="#d9b60a" stroke-width="0.4"/>
<rect x="439.4" y="474.0" width="3.9" height="3.9" fill="#fbe013" stroke="#d9b60a" stroke-width="0.4"/>
<rect x="456.8" y="443.6" width="3.9" height="3.9" fill="#fbe013" stroke="#d9b60a" stroke-width="0.4"/>
<rect x="507.4" y="474.0" width="3.9" height="3.9" fill="#fbe013" stroke="#d9b60a" stroke-width="0.4"/>
<rect x="524.1" y="443.6" width="3.9" height="3.9" fill="#fbe013" stroke="#d9b60a" stroke-width="0.4"/>
<rect x="355.2" y="474.0" width="3.9" height="3.9" fill="#fbe013" stroke="#d9b60a" stroke-width="0.4"/>
<rect x="405.2" y="504.9" width="4.0" height="4.0" fill="#fbe013" stroke="#d9b60a" stroke-width="0.4"/>
<rect x="423.2" y="474.0" width="3.9" height="3.9" fill="#fbe013" stroke="#d9b60a" stroke-width="0.4"/>
<rect x="474.0" y="504.9" width="4.0" height="4.0" fill="#fbe013" stroke="#d9b60a" stroke-width="0.4"/>
<rect x="491.2" y="474.0" width="3.9" height="3.9" fill="#fbe013" stroke="#d9b60a" stroke-width="0.4"/>
<rect x="388.9" y="504.9" width="4.0" height="4.0" fill="#fbe013" stroke="#d9b60a" stroke-width="0.4"/>
<rect x="439.9" y="536.5" width="4.0" height="4.0" fill="#fbe013" stroke="#d9b60a" stroke-width="0.4"/>
<rect x="457.7" y="504.9" width="4.0" height="4.0" fill="#fbe013" stroke="#d9b60a" stroke-width="0.4"/>
<rect x="423.3" y="536.5" width="4.0" height="4.0" fill="#fbe013" stroke="#d9b60a" stroke-width="0.4"/>
<rect x="194.9" y="396.3" width="4.1" height="4.1" fill="#fbe013" stroke="#d9b60a" stroke-width="0.4"/>
<rect x="214.3" y="396.3" width="4.1" height="4.1" fill="#fbe013" stroke="#d9b60a" stroke-width="0.4"/>
<rect x="233.6" y="396.3" width="4.1" height="4.1" fill="#fbe013" stroke="#d9b60a" stroke-width="0.4"/>
<rect x="252.9" y="396.3" width="4.1" height="4.1" fill="#fbe013" stroke="#d9b60a" stroke-width="0.4"/>
<rect x="598.6" y="396.3" width="4.1" height="4.1" fill="#fbe013" stroke="#d9b60a" stroke-width="0.4"/>
<rect x="618.0" y="396.3" width="4.1" height="4.1" fill="#fbe013" stroke="#d9b60a" stroke-width="0.4"/>
<rect x="637.3" y="396.3" width="4.1" height="4.1" fill="#fbe013" stroke="#d9b60a" stroke-width="0.4"/>
<rect x="656.5" y="396.3" width="4.1" height="4.1" fill="#fbe013" stroke="#d9b60a" stroke-width="0.4"/>
<rect x="192.3" y="425.8" width="4.1" height="4.1" fill="#fbe013" stroke="#d9b60a" stroke-width="0.4"/>
<rect x="211.9" y="425.8" width="4.1" height="4.1" fill="#fbe013" stroke="#d9b60a" stroke-width="0.4"/>
<rect x="231.5" y="425.8" width="4.1" height="4.1" fill="#fbe013" stroke="#d9b60a" stroke-width="0.4"/>
<rect x="251.0" y="425.8" width="4.1" height="4.1" fill="#fbe013" stroke="#d9b60a" stroke-width="0.4"/>
<rect x="600.7" y="425.8" width="4.1" height="4.1" fill="#fbe013" stroke="#d9b60a" stroke-width="0.4"/>
<rect x="620.2" y="425.8" width="4.1" height="4.1" fill="#fbe013" stroke="#d9b60a" stroke-width="0.4"/>
<rect x="639.7" y="425.8" width="4.1" height="4.1" fill="#fbe013" stroke="#d9b60a" stroke-width="0.4"/>
<rect x="659.2" y="425.8" width="4.1" height="4.1" fill="#fbe013" stroke="#d9b60a" stroke-width="0.4"/>
<rect x="189.7" y="455.8" width="4.2" height="4.2" fill="#fbe013" stroke="#d9b60a" stroke-width="0.4"/>
<rect x="209.5" y="455.8" width="4.2" height="4.2" fill="#fbe013" stroke="#d9b60a" stroke-width="0.4"/>
<rect x="229.3" y="455.8" width="4.2" height="4.2" fill="#fbe013" stroke="#d9b60a" stroke-width="0.4"/>
<rect x="249.0" y="455.8" width="4.2" height="4.2" fill="#fbe013" stroke="#d9b60a" stroke-width="0.4"/>
<rect x="602.7" y="455.8" width="4.2" height="4.2" fill="#fbe013" stroke="#d9b60a" stroke-width="0.4"/>
<rect x="622.5" y="455.8" width="4.2" height="4.2" fill="#fbe013" stroke="#d9b60a" stroke-width="0.4"/>
<rect x="642.2" y="455.8" width="4.2" height="4.2" fill="#fbe013" stroke="#d9b60a" stroke-width="0.4"/>
<rect x="662.0" y="455.8" width="4.2" height="4.2" fill="#fbe013" stroke="#d9b60a" stroke-width="0.4"/>
<rect x="179.6" y="548.8" width="4.3" height="4.3" fill="#fbe013" stroke="#d9b60a" stroke-width="0.4"/>
<rect x="200.1" y="548.8" width="4.3" height="4.3" fill="#fbe013" stroke="#d9b60a" stroke-width="0.4"/>
<rect x="220.6" y="548.8" width="4.3" height="4.3" fill="#fbe013" stroke="#d9b60a" stroke-width="0.4"/>
<rect x="241.0" y="548.8" width="4.3" height="4.3" fill="#fbe013" stroke="#d9b60a" stroke-width="0.4"/>
<rect x="609.1" y="548.8" width="4.3" height="4.3" fill="#fbe013" stroke="#d9b60a" stroke-width="0.4"/>
<rect x="629.6" y="548.8" width="4.3" height="4.3" fill="#fbe013" stroke="#d9b60a" stroke-width="0.4"/>
<rect x="650.0" y="548.8" width="4.3" height="4.3" fill="#fbe013" stroke="#d9b60a" stroke-width="0.4"/>
<rect x="670.4" y="548.8" width="4.3" height="4.3" fill="#fbe013" stroke="#d9b60a" stroke-width="0.4"/>
<rect x="157.4" y="403.4" width="3.7" height="3.7" fill="#fbe013" stroke="#d9b60a" stroke-width="0.4"/>
<rect x="169.3" y="413.7" width="3.8" height="3.8" fill="#fbe013" stroke="#d9b60a" stroke-width="0.4"/>
<rect x="691.9" y="403.4" width="3.7" height="3.7" fill="#fbe013" stroke="#d9b60a" stroke-width="0.4"/>
<rect x="706.4" y="413.7" width="3.8" height="3.8" fill="#fbe013" stroke="#d9b60a" stroke-width="0.4"/>
<rect x="154.4" y="433.1" width="3.8" height="3.8" fill="#fbe013" stroke="#d9b60a" stroke-width="0.4"/>
<rect x="166.4" y="443.6" width="3.9" height="3.9" fill="#fbe013" stroke="#d9b60a" stroke-width="0.4"/>
<rect x="694.9" y="433.1" width="3.8" height="3.8" fill="#fbe013" stroke="#d9b60a" stroke-width="0.4"/>
<rect x="709.7" y="443.6" width="3.9" height="3.9" fill="#fbe013" stroke="#d9b60a" stroke-width="0.4"/>
<rect x="151.0" y="463.4" width="3.8" height="3.8" fill="#fbe013" stroke="#d9b60a" stroke-width="0.4"/>
<rect x="163.1" y="474.0" width="3.9" height="3.9" fill="#fbe013" stroke="#d9b60a" stroke-width="0.4"/>
<rect x="698.1" y="463.4" width="3.8" height="3.8" fill="#fbe013" stroke="#d9b60a" stroke-width="0.4"/>
<rect x="713.0" y="474.0" width="3.9" height="3.9" fill="#fbe013" stroke="#d9b60a" stroke-width="0.4"/>
<rect x="138.9" y="557.3" width="3.9" height="3.9" fill="#fbe013" stroke="#d9b60a" stroke-width="0.4"/>
<rect x="152.1" y="568.6" width="4.0" height="4.0" fill="#fbe013" stroke="#d9b60a" stroke-width="0.4"/>
<rect x="707.8" y="557.3" width="3.9" height="3.9" fill="#fbe013" stroke="#d9b60a" stroke-width="0.4"/>
<rect x="723.3" y="568.6" width="4.0" height="4.0" fill="#fbe013" stroke="#d9b60a" stroke-width="0.4"/>
<polygon points="128.2,401.5 105.2,417.5 85,567.8 105.3,587" fill="none" stroke="#2a5889" stroke-width="2.1" stroke-linejoin="miter"/>
<path d="M105.2,417.5L128.2,401.5" stroke="#1a2c4a" stroke-width="2.2" stroke-linecap="square"/>
<polygon points="711.1,400 732.8,417.2 751.7,566.7 731.4,584.7" fill="none" stroke="#3b6fa7" stroke-width="2.3" stroke-linejoin="miter"/>
<text x="0.0" y="0.0" font-size="11" text-anchor="middle" fill="#222" textLength="71.5" lengthAdjust="spacingAndGlyphs" transform="translate(108.8,490) rotate(-82.3)">Beam splitting</text>
<text x="0.0" y="0.0" font-size="11" text-anchor="middle" fill="#222" textLength="64.0" lengthAdjust="spacingAndGlyphs" transform="translate(733.6,489) rotate(-96.5)">Beam mixing</text>
<g stroke="#222" stroke-width="0.9" stroke-dasharray="3.2 2.4" fill="none">
<path d="M177.0,417.1L159.0,610.0"/>
<path d="M268.9,417.1L257.6,610.0"/>
<path d="M584.9,417.1L597.0,610.0"/>
</g>
<rect x="169" y="544.4" width="84" height="30.2" fill="none" stroke="#d8763a" stroke-width="1.3"/>
<rect x="599.5" y="544.6" width="84" height="30" fill="none" stroke="#d8763a" stroke-width="1.3"/>
<g stroke="#de7b36" stroke-width="1.2" stroke-dasharray="2.8 2.4"><path d="M229.8,574.6V628"/><path d="M663.5,574.6V628"/></g>
<text x="129.8" y="411.3" font-size="9.8" fill="#222" textLength="17.0" lengthAdjust="spacingAndGlyphs">Ch.1</text>
<text x="126.0" y="441.3" font-size="9.8" fill="#222" textLength="17.5" lengthAdjust="spacingAndGlyphs">Ch.2</text>
<text x="122.0" y="472.3" font-size="9.8" fill="#222" textLength="17.5" lengthAdjust="spacingAndGlyphs">Ch.3</text>
<text x="109.5" y="564.5" font-size="9.3" fill="#222">Ch.<tspan font-size="5.5" dy="1.5" font-style="italic">-N</tspan></text>
<text x="166.5" y="408.5" font-size="10" fill="#222"><tspan font-style="italic">b</tspan><tspan font-size="6" dy="2.4">1</tspan></text>
<text x="162.5" y="438.5" font-size="10" fill="#222"><tspan font-style="italic">b</tspan><tspan font-size="6" dy="2.4">2</tspan></text>
<text x="160.0" y="468.5" font-size="10" fill="#222"><tspan font-style="italic">b</tspan><tspan font-size="6" dy="2.4">3</tspan></text>
<text x="148.5" y="563.0" font-size="10" fill="#222"><tspan font-style="italic">b</tspan><tspan font-size="6" dy="2.4" font-style="italic">N</tspan></text>
<text x="676.9" y="407.0" font-size="9.2" fill="#111">c<tspan font-size="6.3" dy="3">1</tspan></text>
<text x="679.4" y="437.6" font-size="9.2" fill="#111">c<tspan font-size="6.3" dy="3">2</tspan></text>
<text x="683.0" y="468.5" font-size="9.2" fill="#111">c<tspan font-size="6.3" dy="3">3</tspan></text>
<text x="689.3" y="563.0" font-size="9.2" fill="#111">c<tspan font-size="6.3" dy="3" font-style="italic">N</tspan></text>
<text x="132.5" y="502.5" font-size="10.3" fill="#222" textLength="26.7" lengthAdjust="spacingAndGlyphs">MZMs</text>
<text x="208.0" y="502.5" font-size="10.3" fill="#222" textLength="25.0" lengthAdjust="spacingAndGlyphs">MRRs</text>
<text x="522.0" y="502.5" font-size="10.3" fill="#222" textLength="22.5" lengthAdjust="spacingAndGlyphs">MZIs</text>
<circle cx="143" cy="520.2" r="0.85" fill="#111"/>
<circle cx="143" cy="523.5" r="0.85" fill="#111"/>
<circle cx="143" cy="526.8" r="0.85" fill="#111"/>
<circle cx="189.5" cy="520.2" r="0.85" fill="#111"/>
<circle cx="189.5" cy="523.5" r="0.85" fill="#111"/>
<circle cx="189.5" cy="526.8" r="0.85" fill="#111"/>
<circle cx="237.3" cy="520.2" r="0.85" fill="#111"/>
<circle cx="237.3" cy="523.5" r="0.85" fill="#111"/>
<circle cx="237.3" cy="526.8" r="0.85" fill="#111"/>
<circle cx="609.5" cy="520.2" r="0.85" fill="#111"/>
<circle cx="609.5" cy="523.5" r="0.85" fill="#111"/>
<circle cx="609.5" cy="526.8" r="0.85" fill="#111"/>
<circle cx="656" cy="520.2" r="0.85" fill="#111"/>
<circle cx="656" cy="523.5" r="0.85" fill="#111"/>
<circle cx="656" cy="526.8" r="0.85" fill="#111"/>
<circle cx="703.5" cy="520.2" r="0.85" fill="#111"/>
<circle cx="703.5" cy="523.5" r="0.85" fill="#111"/>
<circle cx="703.5" cy="526.8" r="0.85" fill="#111"/>
<text x="204.4" y="598.3" font-size="10.3" fill="#000"><tspan font-weight="bold" stroke="#000" stroke-width="0.3">F</tspan><tspan font-size="6.3" dy="2.6" fill="#444">1</tspan></text>
<text x="642.0" y="598.3" font-size="10.3" fill="#000"><tspan font-weight="bold" stroke="#000" stroke-width="0.3">F</tspan><tspan font-size="6.3" dy="2.6" fill="#444">2</tspan></text>
<text x="424.5" y="595.6" font-size="10.3" text-anchor="middle" font-weight="bold" fill="#000" stroke="#000" stroke-width="0.3">U</text>
<text x="143.0" y="620.9" font-size="10.4" font-weight="bold" fill="#000" stroke="#000" stroke-width="0.3">X</text>
<text x="149.6" y="627.0" font-size="6.8" font-weight="bold" fill="#000" stroke="#000" stroke-width="0.3">1</text>
<text x="155.8" y="620.3" font-size="8.5" font-weight="bold" fill="#000">=</text>
<text x="163.2" y="620.9" font-size="10.4" font-weight="bold" fill="#000" stroke="#000" stroke-width="0.3">b</text>
<g stroke="#000" stroke-width="1.15" fill="none"><circle cx="173.4" cy="617.1" r="3.5"/><path d="M170.9,614.6L175.9,619.6M175.9,614.6L170.9,619.6"/></g>
<text x="178.3" y="620.9" font-size="10.4" font-weight="bold" fill="#000" stroke="#000" stroke-width="0.3">X</text>
<text x="254.8" y="621.2" font-size="10.4" font-weight="bold" fill="#000" stroke="#000" stroke-width="0.3">X</text>
<text x="261.6" y="624.2" font-size="6.6" fill="#000">2</text>
<text x="577.0" y="621.6" font-size="10.4" font-weight="bold" fill="#000" stroke="#000" stroke-width="0.3">X</text>
<text x="584.0" y="625.0" font-size="6.8" font-weight="bold" fill="#000" stroke="#000" stroke-width="0.3">3</text>
<text x="590.5" y="621.0" font-size="8.5" font-weight="bold" fill="#000">=</text>
<text x="598.5" y="621.6" font-size="10.4" font-weight="bold" fill="#000" textLength="14.6" lengthAdjust="spacingAndGlyphs" stroke="#000" stroke-width="0.3">UX</text>
<text x="613.4" y="625.0" font-size="6.8" font-weight="bold" fill="#000" stroke="#000" stroke-width="0.3">2</text>
<rect x="12.5" y="392.9" width="20.2" height="35.4" fill="#fff" stroke="#111" stroke-width="1.4"/>
<g stroke="#e2504c" stroke-width="1.0" fill="none" stroke-linecap="round"><path d="M22.6,410V422.5"/><path d="M24.8,409.6L27.8,409.6"/><path d="M24.2,411.2L26.3,413.3"/><path d="M22.6,411.8L22.6,414.8"/><path d="M21.0,411.2L18.9,413.3"/><path d="M20.4,409.6L17.4,409.6"/><path d="M21.0,408.0L18.9,405.9"/><path d="M22.6,407.4L22.6,404.4"/><path d="M24.2,408.0L26.3,405.9"/></g><circle cx="22.6" cy="409.6" r="2.5" fill="#e2504c"/>
<text x="38.0" y="414.3" font-size="10.3" fill="#222" textLength="24.5" lengthAdjust="spacingAndGlyphs">Laser</text>
<path d="M22.6,428.6V482.2H30.4" fill="none" stroke="#111" stroke-width="1.4"/>
<path d="M30.4,482.2L35.6,470.9H54.7L59.9,482.2L54.7,493.5H35.6Z" fill="#fff" stroke="#111" stroke-width="1.4"/>
<path d="M37.6,474.4H52.8M37.6,490.2H52.8" stroke="#111" stroke-width="1.4"/>
<path d="M60.4,482.2H96.8" stroke="#1f4a7d" stroke-width="2.8"/>
<text x="31.3" y="467.0" font-size="10.3" fill="#222" textLength="21.0" lengthAdjust="spacingAndGlyphs">EOM</text>
<line x1="44.8" y1="515.6" x2="44.8" y2="497.6" stroke="#111" stroke-width="0.8" marker-end="url(#ah)"/>
<text x="18.8" y="527.0" font-size="10.3" fill="#222" textLength="46.3" lengthAdjust="spacingAndGlyphs">Input data</text>
<text x="33.0" y="541.6" font-size="10.3" fill="#000"><tspan font-weight="bold">X</tspan>(<tspan font-style="italic">t</tspan>)</text>
<path d="M743.3,491.2H778.5" stroke="#3467a0" stroke-width="2.5"/><circle cx="778.8" cy="491.2" r="2.5" fill="#3467a0"/>
<text x="776.5" y="477.3" font-size="10.3" fill="#000"><tspan font-weight="bold">Y</tspan>(<tspan font-style="italic">t</tspan>)</text>
</g>
</svg></body></html>
